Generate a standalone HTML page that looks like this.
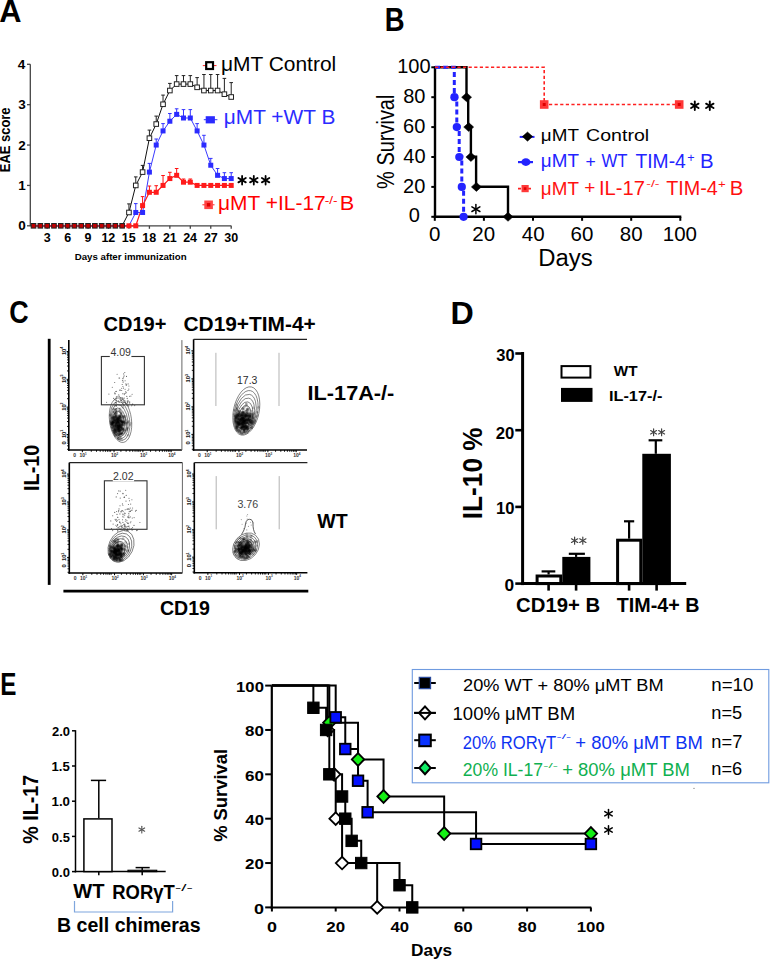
<!DOCTYPE html>
<html><head><meta charset="utf-8"><title>Figure</title>
<style>
html,body{margin:0;padding:0;background:#fff;}
svg{display:block;}
text{font-family:"Liberation Sans",sans-serif;}
</style></head>
<body>
<svg width="770" height="960" viewBox="0 0 770 960">
<rect x="0" y="0" width="770" height="960" fill="#fff"/>
<text transform="translate(-0.77 21.80) scale(0.9940 1)" font-size="31" font-weight="bold" fill="#000" >A</text>
<line x1="30.30" y1="64.30" x2="30.30" y2="226.30" stroke="#444" stroke-width="1.3" />
<line x1="30.30" y1="225.80" x2="231.30" y2="225.80" stroke="#444" stroke-width="1.3" />
<line x1="27.00" y1="225.80" x2="30.30" y2="225.80" stroke="#444" stroke-width="1.3" />
<text x="18.28" y="230.40" font-size="13.5" font-weight="bold" fill="#000" >0</text>
<line x1="27.00" y1="185.43" x2="30.30" y2="185.43" stroke="#444" stroke-width="1.3" />
<text x="18.14" y="190.03" font-size="13.5" font-weight="bold" fill="#000" >1</text>
<line x1="27.00" y1="145.05" x2="30.30" y2="145.05" stroke="#444" stroke-width="1.3" />
<text x="18.28" y="149.65" font-size="13.5" font-weight="bold" fill="#000" >2</text>
<line x1="27.00" y1="104.68" x2="30.30" y2="104.68" stroke="#444" stroke-width="1.3" />
<text x="18.28" y="109.28" font-size="13.5" font-weight="bold" fill="#000" >3</text>
<line x1="27.00" y1="64.30" x2="30.30" y2="64.30" stroke="#444" stroke-width="1.3" />
<text x="17.81" y="68.90" font-size="13.5" font-weight="bold" fill="#000" >4</text>
<line x1="47.15" y1="225.80" x2="47.15" y2="228.80" stroke="#444" stroke-width="1.3" />
<text x="43.78" y="242.40" font-size="12.5" font-weight="bold" fill="#000" >3</text>
<line x1="67.60" y1="225.80" x2="67.60" y2="228.80" stroke="#444" stroke-width="1.3" />
<text x="64.13" y="242.40" font-size="12.5" font-weight="bold" fill="#000" >6</text>
<line x1="88.05" y1="225.80" x2="88.05" y2="228.80" stroke="#444" stroke-width="1.3" />
<text x="84.62" y="242.40" font-size="12.5" font-weight="bold" fill="#000" >9</text>
<line x1="108.50" y1="225.80" x2="108.50" y2="228.80" stroke="#444" stroke-width="1.3" />
<text x="101.41" y="242.40" font-size="12.5" font-weight="bold" fill="#000" >12</text>
<line x1="128.95" y1="225.80" x2="128.95" y2="228.80" stroke="#444" stroke-width="1.3" />
<text x="121.80" y="242.40" font-size="12.5" font-weight="bold" fill="#000" >15</text>
<line x1="149.41" y1="225.80" x2="149.41" y2="228.80" stroke="#444" stroke-width="1.3" />
<text x="142.25" y="242.40" font-size="12.5" font-weight="bold" fill="#000" >18</text>
<line x1="169.86" y1="225.80" x2="169.86" y2="228.80" stroke="#444" stroke-width="1.3" />
<text x="162.89" y="242.40" font-size="12.5" font-weight="bold" fill="#000" >21</text>
<line x1="190.31" y1="225.80" x2="190.31" y2="228.80" stroke="#444" stroke-width="1.3" />
<text x="183.18" y="242.40" font-size="12.5" font-weight="bold" fill="#000" >24</text>
<line x1="210.76" y1="225.80" x2="210.76" y2="228.80" stroke="#444" stroke-width="1.3" />
<text x="203.88" y="242.40" font-size="12.5" font-weight="bold" fill="#000" >27</text>
<line x1="231.21" y1="225.80" x2="231.21" y2="228.80" stroke="#444" stroke-width="1.3" />
<text x="224.37" y="242.40" font-size="12.5" font-weight="bold" fill="#000" >30</text>
<text transform="translate(74.67 260.00) scale(1.0546 1)" font-size="9.2" font-weight="bold" fill="#000" >Days after immunization</text>
<text transform="translate(10.20 172.24) rotate(-90) scale(0.9131 1)" font-size="14.2" font-weight="bold" fill="#000">EAE score</text>
<line x1="128.95" y1="212.48" x2="128.95" y2="203.90" stroke="#222" stroke-width="1" />
<line x1="127.15" y1="203.90" x2="130.75" y2="203.90" stroke="#222" stroke-width="1" />
<line x1="135.77" y1="185.43" x2="135.77" y2="176.90" stroke="#222" stroke-width="1" />
<line x1="133.97" y1="176.90" x2="137.57" y2="176.90" stroke="#222" stroke-width="1" />
<line x1="142.59" y1="172.10" x2="142.59" y2="165.40" stroke="#222" stroke-width="1" />
<line x1="140.79" y1="165.40" x2="144.39" y2="165.40" stroke="#222" stroke-width="1" />
<line x1="149.41" y1="138.19" x2="149.41" y2="130.10" stroke="#222" stroke-width="1" />
<line x1="147.61" y1="130.10" x2="151.21" y2="130.10" stroke="#222" stroke-width="1" />
<line x1="156.22" y1="124.06" x2="156.22" y2="116.10" stroke="#222" stroke-width="1" />
<line x1="154.42" y1="116.10" x2="158.02" y2="116.10" stroke="#222" stroke-width="1" />
<line x1="163.04" y1="104.27" x2="163.04" y2="95.10" stroke="#222" stroke-width="1" />
<line x1="161.24" y1="95.10" x2="164.84" y2="95.10" stroke="#222" stroke-width="1" />
<line x1="169.86" y1="90.54" x2="169.86" y2="83.40" stroke="#222" stroke-width="1" />
<line x1="168.06" y1="83.40" x2="171.66" y2="83.40" stroke="#222" stroke-width="1" />
<line x1="176.67" y1="84.08" x2="176.67" y2="75.60" stroke="#222" stroke-width="1" />
<line x1="174.87" y1="75.60" x2="178.47" y2="75.60" stroke="#222" stroke-width="1" />
<line x1="183.49" y1="84.08" x2="183.49" y2="75.60" stroke="#222" stroke-width="1" />
<line x1="181.69" y1="75.60" x2="185.29" y2="75.60" stroke="#222" stroke-width="1" />
<line x1="190.31" y1="84.08" x2="190.31" y2="75.60" stroke="#222" stroke-width="1" />
<line x1="188.51" y1="75.60" x2="192.11" y2="75.60" stroke="#222" stroke-width="1" />
<line x1="197.12" y1="87.31" x2="197.12" y2="77.60" stroke="#222" stroke-width="1" />
<line x1="195.32" y1="77.60" x2="198.93" y2="77.60" stroke="#222" stroke-width="1" />
<line x1="203.94" y1="90.54" x2="203.94" y2="74.50" stroke="#222" stroke-width="1" />
<line x1="202.14" y1="74.50" x2="205.74" y2="74.50" stroke="#222" stroke-width="1" />
<line x1="210.76" y1="90.54" x2="210.76" y2="74.50" stroke="#222" stroke-width="1" />
<line x1="208.96" y1="74.50" x2="212.56" y2="74.50" stroke="#222" stroke-width="1" />
<line x1="217.58" y1="90.54" x2="217.58" y2="74.50" stroke="#222" stroke-width="1" />
<line x1="215.78" y1="74.50" x2="219.38" y2="74.50" stroke="#222" stroke-width="1" />
<line x1="224.39" y1="94.18" x2="224.39" y2="78.40" stroke="#222" stroke-width="1" />
<line x1="222.59" y1="78.40" x2="226.19" y2="78.40" stroke="#222" stroke-width="1" />
<line x1="231.21" y1="97.00" x2="231.21" y2="82.60" stroke="#222" stroke-width="1" />
<line x1="229.41" y1="82.60" x2="233.01" y2="82.60" stroke="#222" stroke-width="1" />
<line x1="135.77" y1="212.48" x2="135.77" y2="203.60" stroke="#3333ff" stroke-width="1" />
<line x1="133.97" y1="203.60" x2="137.57" y2="203.60" stroke="#3333ff" stroke-width="1" />
<line x1="149.41" y1="172.10" x2="149.41" y2="163.40" stroke="#3333ff" stroke-width="1" />
<line x1="147.61" y1="163.40" x2="151.21" y2="163.40" stroke="#3333ff" stroke-width="1" />
<line x1="156.22" y1="145.05" x2="156.22" y2="139.00" stroke="#3333ff" stroke-width="1" />
<line x1="154.42" y1="139.00" x2="158.02" y2="139.00" stroke="#3333ff" stroke-width="1" />
<line x1="163.04" y1="130.92" x2="163.04" y2="123.60" stroke="#3333ff" stroke-width="1" />
<line x1="161.24" y1="123.60" x2="164.84" y2="123.60" stroke="#3333ff" stroke-width="1" />
<line x1="169.86" y1="121.23" x2="169.86" y2="113.50" stroke="#3333ff" stroke-width="1" />
<line x1="168.06" y1="113.50" x2="171.66" y2="113.50" stroke="#3333ff" stroke-width="1" />
<line x1="176.67" y1="114.37" x2="176.67" y2="108.80" stroke="#3333ff" stroke-width="1" />
<line x1="174.87" y1="108.80" x2="178.47" y2="108.80" stroke="#3333ff" stroke-width="1" />
<line x1="183.49" y1="118.00" x2="183.49" y2="109.60" stroke="#3333ff" stroke-width="1" />
<line x1="181.69" y1="109.60" x2="185.29" y2="109.60" stroke="#3333ff" stroke-width="1" />
<line x1="190.31" y1="118.00" x2="190.31" y2="109.60" stroke="#3333ff" stroke-width="1" />
<line x1="188.51" y1="109.60" x2="192.11" y2="109.60" stroke="#3333ff" stroke-width="1" />
<line x1="197.12" y1="130.92" x2="197.12" y2="123.60" stroke="#3333ff" stroke-width="1" />
<line x1="195.32" y1="123.60" x2="198.93" y2="123.60" stroke="#3333ff" stroke-width="1" />
<line x1="203.94" y1="145.05" x2="203.94" y2="135.30" stroke="#3333ff" stroke-width="1" />
<line x1="202.14" y1="135.30" x2="205.74" y2="135.30" stroke="#3333ff" stroke-width="1" />
<line x1="210.76" y1="165.24" x2="210.76" y2="158.40" stroke="#3333ff" stroke-width="1" />
<line x1="208.96" y1="158.40" x2="212.56" y2="158.40" stroke="#3333ff" stroke-width="1" />
<line x1="217.58" y1="175.33" x2="217.58" y2="168.50" stroke="#3333ff" stroke-width="1" />
<line x1="215.78" y1="168.50" x2="219.38" y2="168.50" stroke="#3333ff" stroke-width="1" />
<line x1="224.39" y1="178.56" x2="224.39" y2="172.70" stroke="#3333ff" stroke-width="1" />
<line x1="222.59" y1="172.70" x2="226.19" y2="172.70" stroke="#3333ff" stroke-width="1" />
<line x1="231.21" y1="178.56" x2="231.21" y2="172.70" stroke="#3333ff" stroke-width="1" />
<line x1="229.41" y1="172.70" x2="233.01" y2="172.70" stroke="#3333ff" stroke-width="1" />
<line x1="142.59" y1="205.61" x2="142.59" y2="196.60" stroke="#ff1111" stroke-width="1" />
<line x1="140.79" y1="196.60" x2="144.39" y2="196.60" stroke="#ff1111" stroke-width="1" />
<line x1="149.41" y1="192.29" x2="149.41" y2="186.00" stroke="#ff1111" stroke-width="1" />
<line x1="147.61" y1="186.00" x2="151.21" y2="186.00" stroke="#ff1111" stroke-width="1" />
<line x1="156.22" y1="192.29" x2="156.22" y2="185.70" stroke="#ff1111" stroke-width="1" />
<line x1="154.42" y1="185.70" x2="158.02" y2="185.70" stroke="#ff1111" stroke-width="1" />
<line x1="163.04" y1="185.43" x2="163.04" y2="175.50" stroke="#ff1111" stroke-width="1" />
<line x1="161.24" y1="175.50" x2="164.84" y2="175.50" stroke="#ff1111" stroke-width="1" />
<line x1="169.86" y1="178.56" x2="169.86" y2="172.30" stroke="#ff1111" stroke-width="1" />
<line x1="168.06" y1="172.30" x2="171.66" y2="172.30" stroke="#ff1111" stroke-width="1" />
<line x1="176.67" y1="175.33" x2="176.67" y2="168.50" stroke="#ff1111" stroke-width="1" />
<line x1="174.87" y1="168.50" x2="178.47" y2="168.50" stroke="#ff1111" stroke-width="1" />
<line x1="183.49" y1="182.19" x2="183.49" y2="179.00" stroke="#ff1111" stroke-width="1" />
<line x1="181.69" y1="179.00" x2="185.29" y2="179.00" stroke="#ff1111" stroke-width="1" />
<line x1="190.31" y1="182.19" x2="190.31" y2="179.00" stroke="#ff1111" stroke-width="1" />
<line x1="188.51" y1="179.00" x2="192.11" y2="179.00" stroke="#ff1111" stroke-width="1" />
<line x1="197.12" y1="185.43" x2="197.12" y2="183.50" stroke="#ff1111" stroke-width="1" />
<line x1="195.32" y1="183.50" x2="198.93" y2="183.50" stroke="#ff1111" stroke-width="1" />
<line x1="203.94" y1="185.43" x2="203.94" y2="183.50" stroke="#ff1111" stroke-width="1" />
<line x1="202.14" y1="183.50" x2="205.74" y2="183.50" stroke="#ff1111" stroke-width="1" />
<line x1="210.76" y1="185.43" x2="210.76" y2="183.50" stroke="#ff1111" stroke-width="1" />
<line x1="208.96" y1="183.50" x2="212.56" y2="183.50" stroke="#ff1111" stroke-width="1" />
<line x1="217.58" y1="185.43" x2="217.58" y2="183.50" stroke="#ff1111" stroke-width="1" />
<line x1="215.78" y1="183.50" x2="219.38" y2="183.50" stroke="#ff1111" stroke-width="1" />
<line x1="224.39" y1="185.43" x2="224.39" y2="183.50" stroke="#ff1111" stroke-width="1" />
<line x1="222.59" y1="183.50" x2="226.19" y2="183.50" stroke="#ff1111" stroke-width="1" />
<line x1="231.21" y1="185.43" x2="231.21" y2="183.50" stroke="#ff1111" stroke-width="1" />
<line x1="229.41" y1="183.50" x2="233.01" y2="183.50" stroke="#ff1111" stroke-width="1" />
<polyline points="33.52,225.80 40.33,225.80 47.15,225.80 53.97,225.80 60.78,225.80 67.60,225.80 74.42,225.80 81.24,225.80 88.05,225.80 94.87,225.80 101.69,225.80 108.50,225.80 115.32,225.80 122.14,225.80 128.95,212.48 135.77,185.43 142.59,172.10 149.41,138.19 156.22,124.06 163.04,104.27 169.86,90.54 176.67,84.08 183.49,84.08 190.31,84.08 197.12,87.31 203.94,90.54 210.76,90.54 217.58,90.54 224.39,94.18 231.21,97.00" fill="none" stroke="#111" stroke-width="1"/>
<polyline points="33.52,225.80 40.33,225.80 47.15,225.80 53.97,225.80 60.78,225.80 67.60,225.80 74.42,225.80 81.24,225.80 88.05,225.80 94.87,225.80 101.69,225.80 108.50,225.80 115.32,225.80 122.14,225.80 128.95,225.80 135.77,212.48 142.59,212.48 149.41,172.10 156.22,145.05 163.04,130.92 169.86,121.23 176.67,114.37 183.49,118.00 190.31,118.00 197.12,130.92 203.94,145.05 210.76,165.24 217.58,175.33 224.39,178.56 231.21,178.56" fill="none" stroke="#3a3aff" stroke-width="1"/>
<polyline points="33.52,225.80 40.33,225.80 47.15,225.80 53.97,225.80 60.78,225.80 67.60,225.80 74.42,225.80 81.24,225.80 88.05,225.80 94.87,225.80 101.69,225.80 108.50,225.80 115.32,225.80 122.14,225.80 128.95,225.80 135.77,225.80 142.59,205.61 149.41,192.29 156.22,192.29 163.04,185.43 169.86,178.56 176.67,175.33 183.49,182.19 190.31,182.19 197.12,185.43 203.94,185.43 210.76,185.43 217.58,185.43 224.39,185.43 231.21,185.43" fill="none" stroke="#ff1a1a" stroke-width="1.2"/>
<rect x="126.65" y="210.18" width="4.60" height="4.60" fill="#fff" stroke="#222" stroke-width="1" />
<rect x="133.47" y="183.12" width="4.60" height="4.60" fill="#fff" stroke="#222" stroke-width="1" />
<rect x="140.29" y="169.80" width="4.60" height="4.60" fill="#fff" stroke="#222" stroke-width="1" />
<rect x="147.11" y="135.89" width="4.60" height="4.60" fill="#fff" stroke="#222" stroke-width="1" />
<rect x="153.92" y="121.76" width="4.60" height="4.60" fill="#fff" stroke="#222" stroke-width="1" />
<rect x="160.74" y="101.97" width="4.60" height="4.60" fill="#fff" stroke="#222" stroke-width="1" />
<rect x="167.56" y="88.24" width="4.60" height="4.60" fill="#fff" stroke="#222" stroke-width="1" />
<rect x="174.37" y="81.78" width="4.60" height="4.60" fill="#fff" stroke="#222" stroke-width="1" />
<rect x="181.19" y="81.78" width="4.60" height="4.60" fill="#fff" stroke="#222" stroke-width="1" />
<rect x="188.01" y="81.78" width="4.60" height="4.60" fill="#fff" stroke="#222" stroke-width="1" />
<rect x="194.82" y="85.01" width="4.60" height="4.60" fill="#fff" stroke="#222" stroke-width="1" />
<rect x="201.64" y="88.24" width="4.60" height="4.60" fill="#fff" stroke="#222" stroke-width="1" />
<rect x="208.46" y="88.24" width="4.60" height="4.60" fill="#fff" stroke="#222" stroke-width="1" />
<rect x="215.28" y="88.24" width="4.60" height="4.60" fill="#fff" stroke="#222" stroke-width="1" />
<rect x="222.09" y="91.88" width="4.60" height="4.60" fill="#fff" stroke="#222" stroke-width="1" />
<rect x="228.91" y="94.70" width="4.60" height="4.60" fill="#fff" stroke="#222" stroke-width="1" />
<rect x="133.27" y="209.98" width="5.00" height="5.00" fill="#2b2bff" stroke="none" stroke-width="1" />
<rect x="140.09" y="209.98" width="5.00" height="5.00" fill="#2b2bff" stroke="none" stroke-width="1" />
<rect x="146.91" y="169.60" width="5.00" height="5.00" fill="#2b2bff" stroke="none" stroke-width="1" />
<rect x="153.72" y="142.55" width="5.00" height="5.00" fill="#2b2bff" stroke="none" stroke-width="1" />
<rect x="160.54" y="128.42" width="5.00" height="5.00" fill="#2b2bff" stroke="none" stroke-width="1" />
<rect x="167.36" y="118.73" width="5.00" height="5.00" fill="#2b2bff" stroke="none" stroke-width="1" />
<rect x="174.17" y="111.87" width="5.00" height="5.00" fill="#2b2bff" stroke="none" stroke-width="1" />
<rect x="180.99" y="115.50" width="5.00" height="5.00" fill="#2b2bff" stroke="none" stroke-width="1" />
<rect x="187.81" y="115.50" width="5.00" height="5.00" fill="#2b2bff" stroke="none" stroke-width="1" />
<rect x="194.62" y="128.42" width="5.00" height="5.00" fill="#2b2bff" stroke="none" stroke-width="1" />
<rect x="201.44" y="142.55" width="5.00" height="5.00" fill="#2b2bff" stroke="none" stroke-width="1" />
<rect x="208.26" y="162.74" width="5.00" height="5.00" fill="#2b2bff" stroke="none" stroke-width="1" />
<rect x="215.08" y="172.83" width="5.00" height="5.00" fill="#2b2bff" stroke="none" stroke-width="1" />
<rect x="221.89" y="176.06" width="5.00" height="5.00" fill="#2b2bff" stroke="none" stroke-width="1" />
<rect x="228.71" y="176.06" width="5.00" height="5.00" fill="#2b2bff" stroke="none" stroke-width="1" />
<rect x="140.09" y="203.11" width="5.00" height="5.00" fill="#ff1a1a" stroke="none" stroke-width="1" />
<rect x="146.91" y="189.79" width="5.00" height="5.00" fill="#ff1a1a" stroke="none" stroke-width="1" />
<rect x="153.72" y="189.79" width="5.00" height="5.00" fill="#ff1a1a" stroke="none" stroke-width="1" />
<rect x="160.54" y="182.93" width="5.00" height="5.00" fill="#ff1a1a" stroke="none" stroke-width="1" />
<rect x="167.36" y="176.06" width="5.00" height="5.00" fill="#ff1a1a" stroke="none" stroke-width="1" />
<rect x="174.17" y="172.83" width="5.00" height="5.00" fill="#ff1a1a" stroke="none" stroke-width="1" />
<rect x="180.99" y="179.69" width="5.00" height="5.00" fill="#ff1a1a" stroke="none" stroke-width="1" />
<rect x="187.81" y="179.69" width="5.00" height="5.00" fill="#ff1a1a" stroke="none" stroke-width="1" />
<rect x="194.62" y="182.93" width="5.00" height="5.00" fill="#ff1a1a" stroke="none" stroke-width="1" />
<rect x="201.44" y="182.93" width="5.00" height="5.00" fill="#ff1a1a" stroke="none" stroke-width="1" />
<rect x="208.26" y="182.93" width="5.00" height="5.00" fill="#ff1a1a" stroke="none" stroke-width="1" />
<rect x="215.08" y="182.93" width="5.00" height="5.00" fill="#ff1a1a" stroke="none" stroke-width="1" />
<rect x="221.89" y="182.93" width="5.00" height="5.00" fill="#ff1a1a" stroke="none" stroke-width="1" />
<rect x="228.71" y="182.93" width="5.00" height="5.00" fill="#ff1a1a" stroke="none" stroke-width="1" />
<rect x="31.22" y="223.50" width="4.60" height="4.60" fill="#c00000" stroke="#222" stroke-width="1" />
<rect x="38.03" y="223.50" width="4.60" height="4.60" fill="#c00000" stroke="#222" stroke-width="1" />
<rect x="44.85" y="223.50" width="4.60" height="4.60" fill="#c00000" stroke="#222" stroke-width="1" />
<rect x="51.67" y="223.50" width="4.60" height="4.60" fill="#c00000" stroke="#222" stroke-width="1" />
<rect x="58.48" y="223.50" width="4.60" height="4.60" fill="#c00000" stroke="#222" stroke-width="1" />
<rect x="65.30" y="223.50" width="4.60" height="4.60" fill="#c00000" stroke="#222" stroke-width="1" />
<rect x="72.12" y="223.50" width="4.60" height="4.60" fill="#c00000" stroke="#222" stroke-width="1" />
<rect x="78.94" y="223.50" width="4.60" height="4.60" fill="#c00000" stroke="#222" stroke-width="1" />
<rect x="85.75" y="223.50" width="4.60" height="4.60" fill="#c00000" stroke="#222" stroke-width="1" />
<rect x="92.57" y="223.50" width="4.60" height="4.60" fill="#c00000" stroke="#222" stroke-width="1" />
<rect x="99.39" y="223.50" width="4.60" height="4.60" fill="#c00000" stroke="#222" stroke-width="1" />
<rect x="106.20" y="223.50" width="4.60" height="4.60" fill="#c00000" stroke="#222" stroke-width="1" />
<rect x="113.02" y="223.50" width="4.60" height="4.60" fill="#c00000" stroke="#222" stroke-width="1" />
<rect x="119.84" y="223.50" width="4.60" height="4.60" fill="#c00000" stroke="#222" stroke-width="1" />
<rect x="126.45" y="223.30" width="5.00" height="5.00" fill="#ff1a1a" stroke="none" stroke-width="1" />
<rect x="133.27" y="223.30" width="5.00" height="5.00" fill="#ff1a1a" stroke="none" stroke-width="1" />
<line x1="202.80" y1="65.60" x2="216.50" y2="65.60" stroke="#ff2020" stroke-width="1" />
<rect x="206.20" y="62.20" width="6.80" height="6.80" fill="#fff" stroke="#000" stroke-width="2.2" />
<text transform="translate(220.94 70.50) scale(1.0527 1)" font-size="19.9" font-weight="normal" fill="#000" >μMT Control</text>
<line x1="203.80" y1="119.70" x2="217.40" y2="119.70" stroke="#3333ff" stroke-width="1" />
<rect x="205.70" y="116.20" width="9.20" height="7.20" fill="#2b2bff" stroke="none" stroke-width="1" />
<text transform="translate(223.84 124.00) scale(1.0483 1)" font-size="19.9" font-weight="normal" fill="#2b2bff" >μMT +WT B</text>
<line x1="202.40" y1="204.80" x2="214.50" y2="204.80" stroke="#ff2020" stroke-width="1" />
<rect x="204.30" y="200.50" width="8.60" height="8.60" fill="#ff4545" stroke="none" stroke-width="1" />
<rect x="206.85" y="203.05" width="3.50" height="3.50" fill="#e00000" stroke="none" stroke-width="1" />
<text transform="translate(218.04 209.60) scale(1.0364 1)" font-size="20.2" font-weight="normal" fill="#ff0000" >μMT +IL-17</text>
<text transform="translate(324.66 204.00) scale(1.2368 1)" font-size="11" font-weight="normal" fill="#ff0000" >-/-</text>
<text transform="translate(339.77 209.60) scale(1.0734 1)" font-size="20.2" font-weight="normal" fill="#ff0000" >B</text>
<line x1="242.10" y1="175.90" x2="242.10" y2="184.50" stroke="#000" stroke-width="1.8" stroke-linecap="round"/>
<line x1="238.38" y1="178.05" x2="245.82" y2="182.35" stroke="#000" stroke-width="1.8" stroke-linecap="round"/>
<line x1="245.82" y1="178.05" x2="238.38" y2="182.35" stroke="#000" stroke-width="1.8" stroke-linecap="round"/>
<line x1="253.80" y1="175.90" x2="253.80" y2="184.50" stroke="#000" stroke-width="1.8" stroke-linecap="round"/>
<line x1="250.08" y1="178.05" x2="257.52" y2="182.35" stroke="#000" stroke-width="1.8" stroke-linecap="round"/>
<line x1="257.52" y1="178.05" x2="250.08" y2="182.35" stroke="#000" stroke-width="1.8" stroke-linecap="round"/>
<line x1="265.60" y1="175.90" x2="265.60" y2="184.50" stroke="#000" stroke-width="1.8" stroke-linecap="round"/>
<line x1="261.88" y1="178.05" x2="269.32" y2="182.35" stroke="#000" stroke-width="1.8" stroke-linecap="round"/>
<line x1="269.32" y1="178.05" x2="261.88" y2="182.35" stroke="#000" stroke-width="1.8" stroke-linecap="round"/>
<text transform="translate(384.71 30.50) scale(0.8327 1)" font-size="33" font-weight="bold" fill="#000" >B</text>
<line x1="435.00" y1="66.20" x2="435.00" y2="218.00" stroke="#000" stroke-width="2.4" />
<line x1="433.80" y1="216.80" x2="681.30" y2="216.80" stroke="#000" stroke-width="2.4" />
<line x1="431.30" y1="216.80" x2="435.00" y2="216.80" stroke="#000" stroke-width="2" />
<text x="408.75" y="222.40" font-size="20" font-weight="normal" fill="#000" >0</text>
<line x1="431.30" y1="186.90" x2="435.00" y2="186.90" stroke="#000" stroke-width="2" />
<text x="403.05" y="192.50" font-size="20" font-weight="normal" fill="#000" >20</text>
<line x1="431.30" y1="157.00" x2="435.00" y2="157.00" stroke="#000" stroke-width="2" />
<text x="403.35" y="162.60" font-size="20" font-weight="normal" fill="#000" >40</text>
<line x1="431.30" y1="127.10" x2="435.00" y2="127.10" stroke="#000" stroke-width="2" />
<text x="403.05" y="132.70" font-size="20" font-weight="normal" fill="#000" >60</text>
<line x1="431.30" y1="97.20" x2="435.00" y2="97.20" stroke="#000" stroke-width="2" />
<text x="403.15" y="102.80" font-size="20" font-weight="normal" fill="#000" >80</text>
<line x1="431.30" y1="67.30" x2="435.00" y2="67.30" stroke="#000" stroke-width="2" />
<text x="397.25" y="72.90" font-size="20" font-weight="normal" fill="#000" >100</text>
<line x1="434.80" y1="216.80" x2="434.80" y2="220.80" stroke="#000" stroke-width="2" />
<text x="429.11" y="241.20" font-size="20.5" font-weight="normal" fill="#000" >0</text>
<line x1="483.90" y1="216.80" x2="483.90" y2="220.80" stroke="#000" stroke-width="2" />
<text x="472.37" y="241.20" font-size="20.5" font-weight="normal" fill="#000" >20</text>
<line x1="533.00" y1="216.80" x2="533.00" y2="220.80" stroke="#000" stroke-width="2" />
<text x="521.78" y="241.20" font-size="20.5" font-weight="normal" fill="#000" >40</text>
<line x1="582.10" y1="216.80" x2="582.10" y2="220.80" stroke="#000" stroke-width="2" />
<text x="570.57" y="241.20" font-size="20.5" font-weight="normal" fill="#000" >60</text>
<line x1="631.20" y1="216.80" x2="631.20" y2="220.80" stroke="#000" stroke-width="2" />
<text x="619.77" y="241.20" font-size="20.5" font-weight="normal" fill="#000" >80</text>
<line x1="680.30" y1="216.80" x2="680.30" y2="220.80" stroke="#000" stroke-width="2" />
<text x="662.82" y="241.20" font-size="20.5" font-weight="normal" fill="#000" >100</text>
<text transform="translate(538.19 265.70) scale(1.0205 1)" font-size="23.4" font-weight="normal" fill="#000" >Days</text>
<text transform="translate(394.20 188.90) rotate(-90) scale(0.8501 1)" font-size="23.5" font-weight="normal" fill="#000">% Survival</text>
<path d="M435,67.30 H544.2 V104.5 H679.2" stroke="#ff2020" stroke-width="1.6" fill="none" stroke-dasharray="3.2 2.4"/>
<path d="M435,67.30 H466.5 V96.9 H468.2 V126.8 H470.9 V156.7 H476.1 V186.8 H508 V216.8" stroke="#000" stroke-width="2.4" fill="none" />
<path d="M435,67.30 H454.3 V96.9 H456.8 V126.8 H459.2 V156.7 H461.8 V186.8 H463.6 V216.8" stroke="#2323ff" stroke-width="3" fill="none" stroke-dasharray="5 3"/>
<path d="M435,67.30 H466.5" stroke="#ff2020" stroke-width="1.6" fill="none" stroke-dasharray="3.2 2.4"/>
<path d="M461.60,97.20 L466.60,92.70 L471.60,97.20 L466.60,101.70 Z" stroke="#000" stroke-width="0.5" fill="#000" />
<path d="M463.70,127.10 L468.70,122.60 L473.70,127.10 L468.70,131.60 Z" stroke="#000" stroke-width="0.5" fill="#000" />
<path d="M465.90,157.00 L470.90,152.50 L475.90,157.00 L470.90,161.50 Z" stroke="#000" stroke-width="0.5" fill="#000" />
<path d="M471.40,186.90 L476.40,182.40 L481.40,186.90 L476.40,191.40 Z" stroke="#000" stroke-width="0.5" fill="#000" />
<path d="M503.00,216.80 L508.00,212.30 L513.00,216.80 L508.00,221.30 Z" stroke="#000" stroke-width="0.5" fill="#000" />
<circle cx="454.40" cy="97.20" r="4.10" fill="#2323ff" stroke="none" stroke-width="1"/>
<circle cx="456.80" cy="127.10" r="4.10" fill="#2323ff" stroke="none" stroke-width="1"/>
<circle cx="459.30" cy="157.00" r="4.10" fill="#2323ff" stroke="none" stroke-width="1"/>
<circle cx="461.80" cy="186.90" r="4.10" fill="#2323ff" stroke="none" stroke-width="1"/>
<circle cx="463.60" cy="216.80" r="4.10" fill="#2323ff" stroke="none" stroke-width="1"/>
<rect x="539.90" y="100.20" width="8.60" height="8.60" fill="#ff3838" stroke="none" stroke-width="1" />
<rect x="542.70" y="103.00" width="3.00" height="3.00" fill="#e00000" stroke="none" stroke-width="1" />
<rect x="674.90" y="100.20" width="8.60" height="8.60" fill="#ff3838" stroke="none" stroke-width="1" />
<rect x="677.70" y="103.00" width="3.00" height="3.00" fill="#e00000" stroke="none" stroke-width="1" />
<line x1="475.90" y1="204.60" x2="475.90" y2="213.80" stroke="#000" stroke-width="1.5" stroke-linecap="round"/>
<line x1="471.92" y1="206.90" x2="479.88" y2="211.50" stroke="#000" stroke-width="1.5" stroke-linecap="round"/>
<line x1="479.88" y1="206.90" x2="471.92" y2="211.50" stroke="#000" stroke-width="1.5" stroke-linecap="round"/>
<line x1="694.80" y1="101.50" x2="694.80" y2="110.10" stroke="#000" stroke-width="1.9" stroke-linecap="round"/>
<line x1="691.08" y1="103.65" x2="698.52" y2="107.95" stroke="#000" stroke-width="1.9" stroke-linecap="round"/>
<line x1="698.52" y1="103.65" x2="691.08" y2="107.95" stroke="#000" stroke-width="1.9" stroke-linecap="round"/>
<line x1="709.80" y1="101.50" x2="709.80" y2="110.10" stroke="#000" stroke-width="1.9" stroke-linecap="round"/>
<line x1="706.08" y1="103.65" x2="713.52" y2="107.95" stroke="#000" stroke-width="1.9" stroke-linecap="round"/>
<line x1="713.52" y1="103.65" x2="706.08" y2="107.95" stroke="#000" stroke-width="1.9" stroke-linecap="round"/>
<line x1="519.70" y1="136.90" x2="534.50" y2="136.90" stroke="#2323ff" stroke-width="2" />
<path d="M522.30,136.60 L527.50,132.00 L532.70,136.60 L527.50,141.20 Z" stroke="#000" stroke-width="0.5" fill="#000" />
<line x1="518.00" y1="162.10" x2="533.00" y2="162.10" stroke="#2323ff" stroke-width="2.2" />
<ellipse cx="525.9" cy="162.1" rx="4.6" ry="3.8" fill="#2323ff"/>
<line x1="518.00" y1="188.60" x2="532.00" y2="188.60" stroke="#ff2020" stroke-width="1.6" stroke-dasharray="3 2"/>
<rect x="521.50" y="185.00" width="7.20" height="7.20" fill="#ff3838" stroke="none" stroke-width="1" />
<rect x="523.80" y="187.30" width="2.60" height="2.60" fill="#e00000" stroke="none" stroke-width="1" />
<text transform="translate(540.87 141.00) scale(1.1797 1)" font-size="15.99" font-weight="normal" fill="#000" >μMT</text>
<text transform="translate(586.12 141.00) scale(1.2226 1)" font-size="15.99" font-weight="normal" fill="#000" >Control</text>
<text transform="translate(540.87 167.20) scale(1.0816 1)" font-size="17.44" font-weight="normal" fill="#2323ff" >μMT</text>
<text transform="translate(585.61 167.44) scale(1.0342 1)" font-size="16.97" font-weight="normal" fill="#2323ff" >+</text>
<text transform="translate(601.40 167.20) scale(0.9600 1)" font-size="17.44" font-weight="normal" fill="#2323ff" >WT</text>
<text transform="translate(635.51 167.60) scale(0.9464 1)" font-size="20.35" font-weight="normal" fill="#2323ff" >TIM-4</text>
<text transform="translate(687.13 161.66) scale(1.0102 1)" font-size="12.525" font-weight="normal" fill="#2323ff" >+</text>
<text transform="translate(700.07 167.60) scale(1.0012 1)" font-size="20.35" font-weight="normal" fill="#2323ff" >B</text>
<text transform="translate(540.87 195.00) scale(1.0302 1)" font-size="18.31" font-weight="normal" fill="#ff1010" >μMT</text>
<text x="584.15" y="194.21" font-size="18.99" font-weight="normal" fill="#ff1010" >+</text>
<text transform="translate(598.88 195.20) scale(0.9645 1)" font-size="20.93" font-weight="normal" fill="#ff1010" >IL-17</text>
<text transform="translate(646.24 186.92) scale(1.6542 1)" font-size="8.435" font-weight="normal" fill="#ff1010" >-/-</text>
<text transform="translate(666.20 195.20) scale(0.9444 1)" font-size="20.93" font-weight="normal" fill="#ff1010" >TIM-4</text>
<text transform="translate(717.90 188.40) scale(1.1321 1)" font-size="11.717" font-weight="normal" fill="#ff1010" >+</text>
<text transform="translate(729.67 195.20) scale(0.9734 1)" font-size="20.93" font-weight="normal" fill="#ff1010" >B</text>
<text transform="translate(9.33 322.88) scale(0.8367 1)" font-size="32.113" font-weight="bold" fill="#000" >C</text>
<text transform="translate(103.50 330.70) scale(0.9656 1)" font-size="20.78" font-weight="bold" fill="#000" >CD19+</text>
<text transform="translate(183.46 330.70) scale(1.0055 1)" font-size="20.78" font-weight="bold" fill="#000" >CD19+TIM-4+</text>
<text transform="translate(307.59 399.60) scale(1.0440 1)" font-size="20.78" font-weight="bold" fill="#000" >IL-17A-/-</text>
<text transform="translate(317.20 527.50) scale(0.9888 1)" font-size="19.77" font-weight="bold" fill="#000" >WT</text>
<text transform="translate(159.92 615.10) scale(0.9701 1)" font-size="20.2" font-weight="bold" fill="#000" >CD19</text>
<text transform="translate(39.08 490.99) rotate(-90) scale(0.8871 1)" font-size="22.394" font-weight="bold" fill="#000">IL-10</text>
<line x1="49.20" y1="338.80" x2="49.20" y2="584.90" stroke="#000" stroke-width="2.8" />
<line x1="63.40" y1="591.20" x2="308.30" y2="591.20" stroke="#000" stroke-width="2.8" />
<line x1="66.60" y1="351.53" x2="68.80" y2="351.53" stroke="#000" stroke-width="1" />
<g transform="translate(65.6 355.1) rotate(-90)"><text x="0" y="0" font-size="5.8" font-weight="bold" fill="#111">10</text><text x="6.3" y="-2.6" font-size="3.6" font-weight="bold" fill="#111">4</text></g>
<line x1="66.60" y1="379.33" x2="68.80" y2="379.33" stroke="#000" stroke-width="1" />
<g transform="translate(65.6 382.9) rotate(-90)"><text x="0" y="0" font-size="5.8" font-weight="bold" fill="#111">10</text><text x="6.3" y="-2.6" font-size="3.6" font-weight="bold" fill="#111">3</text></g>
<line x1="66.60" y1="407.14" x2="68.80" y2="407.14" stroke="#000" stroke-width="1" />
<g transform="translate(65.6 410.7) rotate(-90)"><text x="0" y="0" font-size="5.8" font-weight="bold" fill="#111">10</text><text x="6.3" y="-2.6" font-size="3.6" font-weight="bold" fill="#111">2</text></g>
<line x1="66.60" y1="434.50" x2="68.80" y2="434.50" stroke="#000" stroke-width="1" />
<g transform="translate(65.6 438.1) rotate(-90)"><text x="0" y="0" font-size="5.8" font-weight="bold" fill="#111">10</text><text x="6.3" y="-2.6" font-size="3.6" font-weight="bold" fill="#111">1</text></g>
<g transform="translate(65.6 444.6) rotate(-90)"><text x="0" y="0" font-size="5.8" font-weight="bold" fill="#111">0</text></g>
<line x1="67.00" y1="370.93" x2="68.80" y2="370.93" stroke="#000" stroke-width="0.9" />
<line x1="67.00" y1="366.04" x2="68.80" y2="366.04" stroke="#000" stroke-width="0.9" />
<line x1="67.00" y1="362.57" x2="68.80" y2="362.57" stroke="#000" stroke-width="0.9" />
<line x1="67.00" y1="359.88" x2="68.80" y2="359.88" stroke="#000" stroke-width="0.9" />
<line x1="67.00" y1="357.69" x2="68.80" y2="357.69" stroke="#000" stroke-width="0.9" />
<line x1="67.00" y1="355.83" x2="68.80" y2="355.83" stroke="#000" stroke-width="0.9" />
<line x1="67.00" y1="354.22" x2="68.80" y2="354.22" stroke="#000" stroke-width="0.9" />
<line x1="67.00" y1="352.80" x2="68.80" y2="352.80" stroke="#000" stroke-width="0.9" />
<line x1="67.00" y1="398.68" x2="68.80" y2="398.68" stroke="#000" stroke-width="0.9" />
<line x1="67.00" y1="393.79" x2="68.80" y2="393.79" stroke="#000" stroke-width="0.9" />
<line x1="67.00" y1="390.32" x2="68.80" y2="390.32" stroke="#000" stroke-width="0.9" />
<line x1="67.00" y1="387.63" x2="68.80" y2="387.63" stroke="#000" stroke-width="0.9" />
<line x1="67.00" y1="385.44" x2="68.80" y2="385.44" stroke="#000" stroke-width="0.9" />
<line x1="67.00" y1="383.58" x2="68.80" y2="383.58" stroke="#000" stroke-width="0.9" />
<line x1="67.00" y1="381.97" x2="68.80" y2="381.97" stroke="#000" stroke-width="0.9" />
<line x1="67.00" y1="380.55" x2="68.80" y2="380.55" stroke="#000" stroke-width="0.9" />
<line x1="67.00" y1="426.43" x2="68.80" y2="426.43" stroke="#000" stroke-width="0.9" />
<line x1="67.00" y1="421.54" x2="68.80" y2="421.54" stroke="#000" stroke-width="0.9" />
<line x1="67.00" y1="418.07" x2="68.80" y2="418.07" stroke="#000" stroke-width="0.9" />
<line x1="67.00" y1="415.38" x2="68.80" y2="415.38" stroke="#000" stroke-width="0.9" />
<line x1="67.00" y1="413.19" x2="68.80" y2="413.19" stroke="#000" stroke-width="0.9" />
<line x1="67.00" y1="411.33" x2="68.80" y2="411.33" stroke="#000" stroke-width="0.9" />
<line x1="67.00" y1="409.72" x2="68.80" y2="409.72" stroke="#000" stroke-width="0.9" />
<line x1="67.00" y1="408.30" x2="68.80" y2="408.30" stroke="#000" stroke-width="0.9" />
<line x1="67.00" y1="449.29" x2="68.80" y2="449.29" stroke="#000" stroke-width="0.9" />
<line x1="67.00" y1="445.82" x2="68.80" y2="445.82" stroke="#000" stroke-width="0.9" />
<line x1="67.00" y1="443.13" x2="68.80" y2="443.13" stroke="#000" stroke-width="0.9" />
<line x1="67.00" y1="440.94" x2="68.80" y2="440.94" stroke="#000" stroke-width="0.9" />
<line x1="67.00" y1="439.08" x2="68.80" y2="439.08" stroke="#000" stroke-width="0.9" />
<line x1="67.00" y1="437.47" x2="68.80" y2="437.47" stroke="#000" stroke-width="0.9" />
<line x1="67.00" y1="436.05" x2="68.80" y2="436.05" stroke="#000" stroke-width="0.9" />
<line x1="82.37" y1="450.00" x2="82.37" y2="452.20" stroke="#000" stroke-width="1" />
<text x="79.4" y="457.4" font-size="5" font-weight="bold" fill="#333">10</text>
<text x="85.0" y="454.6" font-size="3" font-weight="bold" fill="#333">1</text>
<line x1="114.04" y1="450.00" x2="114.04" y2="452.20" stroke="#000" stroke-width="1" />
<text x="111.0" y="457.4" font-size="5" font-weight="bold" fill="#333">10</text>
<text x="116.6" y="454.6" font-size="3" font-weight="bold" fill="#333">2</text>
<line x1="142.88" y1="450.00" x2="142.88" y2="452.20" stroke="#000" stroke-width="1" />
<text x="139.9" y="457.4" font-size="5" font-weight="bold" fill="#333">10</text>
<text x="145.5" y="454.6" font-size="3" font-weight="bold" fill="#333">3</text>
<line x1="171.16" y1="450.00" x2="171.16" y2="452.20" stroke="#000" stroke-width="1" />
<text x="168.2" y="457.4" font-size="5" font-weight="bold" fill="#333">10</text>
<text x="173.8" y="454.6" font-size="3" font-weight="bold" fill="#333">4</text>
<text x="73.3" y="457.4" font-size="5" font-weight="bold" fill="#333">0</text>
<line x1="91.29" y1="450.00" x2="91.29" y2="451.80" stroke="#000" stroke-width="0.9" />
<line x1="96.51" y1="450.00" x2="96.51" y2="451.80" stroke="#000" stroke-width="0.9" />
<line x1="100.21" y1="450.00" x2="100.21" y2="451.80" stroke="#000" stroke-width="0.9" />
<line x1="103.08" y1="450.00" x2="103.08" y2="451.80" stroke="#000" stroke-width="0.9" />
<line x1="105.43" y1="450.00" x2="105.43" y2="451.80" stroke="#000" stroke-width="0.9" />
<line x1="107.41" y1="450.00" x2="107.41" y2="451.80" stroke="#000" stroke-width="0.9" />
<line x1="109.13" y1="450.00" x2="109.13" y2="451.80" stroke="#000" stroke-width="0.9" />
<line x1="110.65" y1="450.00" x2="110.65" y2="451.80" stroke="#000" stroke-width="0.9" />
<line x1="120.92" y1="450.00" x2="120.92" y2="451.80" stroke="#000" stroke-width="0.9" />
<line x1="126.14" y1="450.00" x2="126.14" y2="451.80" stroke="#000" stroke-width="0.9" />
<line x1="129.84" y1="450.00" x2="129.84" y2="451.80" stroke="#000" stroke-width="0.9" />
<line x1="132.72" y1="450.00" x2="132.72" y2="451.80" stroke="#000" stroke-width="0.9" />
<line x1="135.06" y1="450.00" x2="135.06" y2="451.80" stroke="#000" stroke-width="0.9" />
<line x1="137.05" y1="450.00" x2="137.05" y2="451.80" stroke="#000" stroke-width="0.9" />
<line x1="138.76" y1="450.00" x2="138.76" y2="451.80" stroke="#000" stroke-width="0.9" />
<line x1="140.28" y1="450.00" x2="140.28" y2="451.80" stroke="#000" stroke-width="0.9" />
<line x1="150.56" y1="450.00" x2="150.56" y2="451.80" stroke="#000" stroke-width="0.9" />
<line x1="155.77" y1="450.00" x2="155.77" y2="451.80" stroke="#000" stroke-width="0.9" />
<line x1="159.48" y1="450.00" x2="159.48" y2="451.80" stroke="#000" stroke-width="0.9" />
<line x1="162.35" y1="450.00" x2="162.35" y2="451.80" stroke="#000" stroke-width="0.9" />
<line x1="164.69" y1="450.00" x2="164.69" y2="451.80" stroke="#000" stroke-width="0.9" />
<line x1="166.68" y1="450.00" x2="166.68" y2="451.80" stroke="#000" stroke-width="0.9" />
<line x1="168.40" y1="450.00" x2="168.40" y2="451.80" stroke="#000" stroke-width="0.9" />
<line x1="169.91" y1="450.00" x2="169.91" y2="451.80" stroke="#000" stroke-width="0.9" />
<line x1="68.80" y1="340.10" x2="68.80" y2="450.80" stroke="#000" stroke-width="1.6" />
<line x1="68.00" y1="450.00" x2="181.90" y2="450.00" stroke="#000" stroke-width="1.6" />
<line x1="181.90" y1="340.10" x2="181.90" y2="450.00" stroke="#666" stroke-width="1" />
<circle cx="128.9" cy="386.0" r="0.55" fill="#666"/>
<circle cx="129.7" cy="401.9" r="0.55" fill="#666"/>
<circle cx="116.2" cy="391.4" r="0.55" fill="#666"/>
<circle cx="122.2" cy="384.5" r="0.55" fill="#666"/>
<circle cx="123.1" cy="381.0" r="0.55" fill="#666"/>
<circle cx="122.7" cy="398.1" r="0.55" fill="#666"/>
<circle cx="122.0" cy="397.8" r="0.55" fill="#666"/>
<circle cx="121.7" cy="388.3" r="0.55" fill="#666"/>
<circle cx="123.7" cy="373.9" r="0.55" fill="#666"/>
<circle cx="134.7" cy="405.6" r="0.55" fill="#666"/>
<circle cx="123.1" cy="399.4" r="0.55" fill="#666"/>
<circle cx="123.2" cy="405.6" r="0.55" fill="#666"/>
<circle cx="127.5" cy="402.5" r="0.55" fill="#666"/>
<circle cx="116.2" cy="402.3" r="0.55" fill="#666"/>
<circle cx="124.4" cy="402.4" r="0.55" fill="#666"/>
<circle cx="123.2" cy="401.3" r="0.55" fill="#666"/>
<circle cx="127.8" cy="405.7" r="0.55" fill="#666"/>
<circle cx="125.6" cy="391.8" r="0.55" fill="#666"/>
<circle cx="116.2" cy="403.2" r="0.55" fill="#666"/>
<circle cx="132.6" cy="404.2" r="0.55" fill="#666"/>
<circle cx="121.5" cy="400.4" r="0.55" fill="#666"/>
<circle cx="113.7" cy="398.4" r="0.55" fill="#666"/>
<circle cx="125.8" cy="401.0" r="0.55" fill="#666"/>
<circle cx="115.0" cy="393.7" r="0.55" fill="#666"/>
<circle cx="129.6" cy="396.3" r="0.55" fill="#666"/>
<circle cx="115.1" cy="393.7" r="0.55" fill="#666"/>
<circle cx="125.9" cy="383.9" r="0.55" fill="#666"/>
<circle cx="122.9" cy="398.6" r="0.55" fill="#666"/>
<circle cx="125.1" cy="389.2" r="0.55" fill="#666"/>
<circle cx="128.0" cy="390.5" r="0.55" fill="#666"/>
<circle cx="118.0" cy="396.2" r="0.55" fill="#666"/>
<circle cx="126.1" cy="385.1" r="0.55" fill="#666"/>
<circle cx="116.7" cy="396.7" r="0.55" fill="#666"/>
<circle cx="121.3" cy="405.6" r="0.55" fill="#666"/>
<circle cx="124.2" cy="393.5" r="0.55" fill="#666"/>
<circle cx="119.4" cy="396.3" r="0.55" fill="#666"/>
<circle cx="122.9" cy="378.7" r="0.55" fill="#666"/>
<circle cx="115.4" cy="402.3" r="0.55" fill="#666"/>
<circle cx="108.9" cy="394.1" r="0.55" fill="#666"/>
<circle cx="120.9" cy="397.5" r="0.55" fill="#666"/>
<circle cx="128.7" cy="405.9" r="0.55" fill="#666"/>
<circle cx="124.1" cy="375.9" r="0.55" fill="#666"/>
<circle cx="112.3" cy="387.3" r="0.55" fill="#666"/>
<circle cx="124.3" cy="394.6" r="0.55" fill="#666"/>
<circle cx="116.0" cy="398.3" r="0.55" fill="#666"/>
<circle cx="132.1" cy="394.3" r="0.55" fill="#666"/>
<circle cx="125.7" cy="402.9" r="0.55" fill="#666"/>
<circle cx="115.9" cy="399.9" r="0.55" fill="#666"/>
<circle cx="121.8" cy="400.1" r="0.55" fill="#666"/>
<circle cx="114.8" cy="392.9" r="0.55" fill="#666"/>
<circle cx="120.2" cy="397.5" r="0.55" fill="#666"/>
<circle cx="125.8" cy="403.3" r="0.55" fill="#666"/>
<circle cx="122.7" cy="393.8" r="0.55" fill="#666"/>
<circle cx="128.1" cy="383.9" r="0.55" fill="#666"/>
<circle cx="114.7" cy="382.5" r="0.55" fill="#666"/>
<circle cx="121.7" cy="390.5" r="0.55" fill="#666"/>
<circle cx="132.2" cy="404.8" r="0.55" fill="#666"/>
<circle cx="122.9" cy="386.5" r="0.55" fill="#666"/>
<circle cx="122.1" cy="402.0" r="0.55" fill="#666"/>
<circle cx="127.8" cy="400.2" r="0.55" fill="#666"/>
<circle cx="126.7" cy="405.0" r="0.55" fill="#666"/>
<circle cx="125.5" cy="403.5" r="0.55" fill="#666"/>
<circle cx="127.5" cy="401.6" r="0.55" fill="#666"/>
<circle cx="120.6" cy="400.6" r="0.55" fill="#666"/>
<circle cx="116.3" cy="397.1" r="0.55" fill="#666"/>
<circle cx="127.2" cy="398.4" r="0.55" fill="#666"/>
<circle cx="122.8" cy="403.1" r="0.55" fill="#666"/>
<circle cx="130.9" cy="396.1" r="0.55" fill="#666"/>
<circle cx="129.2" cy="402.8" r="0.55" fill="#666"/>
<circle cx="114.3" cy="405.7" r="0.55" fill="#666"/>
<circle cx="115.9" cy="405.8" r="0.55" fill="#666"/>
<circle cx="127.1" cy="403.6" r="0.55" fill="#666"/>
<circle cx="128.8" cy="389.1" r="0.55" fill="#666"/>
<circle cx="119.1" cy="402.5" r="0.55" fill="#666"/>
<circle cx="123.9" cy="402.5" r="0.55" fill="#666"/>
<circle cx="115.9" cy="391.5" r="0.55" fill="#666"/>
<circle cx="116.5" cy="400.6" r="0.55" fill="#666"/>
<circle cx="126.3" cy="392.2" r="0.55" fill="#666"/>
<circle cx="123.6" cy="377.1" r="0.55" fill="#666"/>
<circle cx="118.3" cy="400.9" r="0.55" fill="#666"/>
<circle cx="121.8" cy="402.0" r="0.55" fill="#666"/>
<circle cx="116.5" cy="405.9" r="0.55" fill="#666"/>
<circle cx="123.1" cy="382.3" r="0.55" fill="#666"/>
<circle cx="119.0" cy="378.0" r="0.55" fill="#666"/>
<circle cx="120.2" cy="399.4" r="0.55" fill="#666"/>
<circle cx="115.9" cy="400.1" r="0.55" fill="#666"/>
<circle cx="124.2" cy="398.1" r="0.55" fill="#666"/>
<circle cx="129.7" cy="403.0" r="0.55" fill="#666"/>
<circle cx="128.3" cy="401.1" r="0.55" fill="#666"/>
<circle cx="126.8" cy="396.4" r="0.55" fill="#666"/>
<circle cx="117.1" cy="374.2" r="0.55" fill="#666"/>
<circle cx="131.6" cy="405.7" r="0.55" fill="#666"/>
<circle cx="126.5" cy="384.9" r="0.55" fill="#666"/>
<circle cx="120.0" cy="390.5" r="0.55" fill="#666"/>
<circle cx="125.1" cy="380.8" r="0.55" fill="#666"/>
<circle cx="126.5" cy="376.4" r="0.55" fill="#666"/>
<circle cx="120.0" cy="389.9" r="0.55" fill="#666"/>
<circle cx="106.6" cy="402.3" r="0.55" fill="#666"/>
<circle cx="123.5" cy="388.1" r="0.55" fill="#666"/>
<circle cx="124.8" cy="372.5" r="0.55" fill="#666"/>
<circle cx="123.7" cy="402.7" r="0.55" fill="#666"/>
<circle cx="122.4" cy="380.5" r="0.55" fill="#666"/>
<circle cx="114.8" cy="399.6" r="0.55" fill="#666"/>
<circle cx="119.6" cy="378.0" r="0.55" fill="#666"/>
<circle cx="125.7" cy="393.2" r="0.55" fill="#666"/>
<circle cx="132.7" cy="404.0" r="0.55" fill="#666"/>
<circle cx="118.8" cy="394.9" r="0.55" fill="#666"/>
<circle cx="123.2" cy="404.9" r="0.55" fill="#666"/>
<circle cx="122.9" cy="378.2" r="0.55" fill="#666"/>
<circle cx="124.4" cy="400.2" r="0.55" fill="#666"/>
<ellipse cx="120.50" cy="420.20" rx="11.00" ry="22.40" transform="rotate(-7 120.50 420.20)" fill="none" stroke="#333" stroke-width="0.7" stroke-opacity="0.8"/>
<ellipse cx="120.04" cy="420.89" rx="9.68" ry="19.71" transform="rotate(-7 120.04 420.89)" fill="none" stroke="#333" stroke-width="0.7" stroke-opacity="0.8"/>
<ellipse cx="119.57" cy="421.58" rx="8.36" ry="17.02" transform="rotate(-7 119.57 421.58)" fill="none" stroke="#333" stroke-width="0.7" stroke-opacity="0.8"/>
<ellipse cx="119.11" cy="422.26" rx="7.04" ry="14.34" transform="rotate(-7 119.11 422.26)" fill="none" stroke="#333" stroke-width="0.7" stroke-opacity="0.8"/>
<ellipse cx="118.64" cy="422.95" rx="5.72" ry="11.65" transform="rotate(-7 118.64 422.95)" fill="none" stroke="#333" stroke-width="0.7" stroke-opacity="0.8"/>
<g fill="#000" fill-opacity="0.22"><circle cx="112.9" cy="427.3" r="1.3"/><circle cx="121.3" cy="420.9" r="1.3"/><circle cx="112.3" cy="424.4" r="1.3"/><circle cx="120.0" cy="431.5" r="1.3"/><circle cx="112.2" cy="416.5" r="1.3"/><circle cx="120.6" cy="427.4" r="1.3"/><circle cx="124.2" cy="430.4" r="1.3"/><circle cx="117.1" cy="422.8" r="1.3"/><circle cx="127.7" cy="421.9" r="1.3"/><circle cx="114.0" cy="417.3" r="1.3"/><circle cx="118.0" cy="425.4" r="1.3"/><circle cx="116.2" cy="424.2" r="1.3"/><circle cx="119.0" cy="428.9" r="1.3"/><circle cx="122.1" cy="425.6" r="1.3"/><circle cx="111.9" cy="423.8" r="1.3"/><circle cx="111.7" cy="424.9" r="1.3"/><circle cx="114.6" cy="426.1" r="1.3"/><circle cx="130.7" cy="423.3" r="1.3"/><circle cx="120.4" cy="415.7" r="1.3"/><circle cx="116.8" cy="428.9" r="1.3"/><circle cx="117.4" cy="426.9" r="1.3"/><circle cx="117.6" cy="417.9" r="1.3"/><circle cx="119.5" cy="419.1" r="1.3"/><circle cx="124.8" cy="420.7" r="1.3"/><circle cx="120.3" cy="424.3" r="1.3"/><circle cx="121.1" cy="420.3" r="1.3"/><circle cx="121.5" cy="423.4" r="1.3"/><circle cx="122.9" cy="428.2" r="1.3"/><circle cx="117.8" cy="419.4" r="1.3"/><circle cx="120.9" cy="427.3" r="1.3"/><circle cx="124.0" cy="421.6" r="1.3"/><circle cx="120.0" cy="427.6" r="1.3"/><circle cx="118.8" cy="425.8" r="1.3"/><circle cx="118.1" cy="420.6" r="1.3"/><circle cx="113.4" cy="422.2" r="1.3"/><circle cx="120.6" cy="434.1" r="1.3"/><circle cx="122.0" cy="431.1" r="1.3"/><circle cx="121.0" cy="428.8" r="1.3"/><circle cx="118.7" cy="429.5" r="1.3"/><circle cx="124.5" cy="421.9" r="1.3"/><circle cx="119.0" cy="430.7" r="1.3"/><circle cx="120.6" cy="416.9" r="1.3"/><circle cx="128.1" cy="435.3" r="1.3"/><circle cx="118.6" cy="429.3" r="1.3"/><circle cx="117.7" cy="418.7" r="1.3"/><circle cx="117.3" cy="427.0" r="1.3"/><circle cx="122.4" cy="428.8" r="1.3"/><circle cx="118.5" cy="433.3" r="1.3"/><circle cx="114.9" cy="429.9" r="1.3"/><circle cx="121.9" cy="422.3" r="1.3"/><circle cx="118.8" cy="427.9" r="1.3"/><circle cx="123.3" cy="417.6" r="1.3"/><circle cx="117.9" cy="428.7" r="1.3"/><circle cx="115.9" cy="409.2" r="1.3"/><circle cx="121.9" cy="439.3" r="1.3"/><circle cx="121.2" cy="418.3" r="1.3"/><circle cx="116.1" cy="426.1" r="1.3"/><circle cx="127.8" cy="427.8" r="1.3"/><circle cx="118.8" cy="434.6" r="1.3"/><circle cx="118.1" cy="436.6" r="1.3"/><circle cx="114.7" cy="421.6" r="1.3"/><circle cx="121.1" cy="433.5" r="1.3"/><circle cx="120.3" cy="426.3" r="1.3"/><circle cx="114.9" cy="421.2" r="1.3"/><circle cx="119.8" cy="422.2" r="1.3"/><circle cx="120.8" cy="424.8" r="1.3"/><circle cx="116.3" cy="425.4" r="1.3"/><circle cx="119.7" cy="429.9" r="1.3"/><circle cx="115.6" cy="423.1" r="1.3"/><circle cx="123.3" cy="422.9" r="1.3"/><circle cx="115.1" cy="416.6" r="1.3"/><circle cx="118.4" cy="425.8" r="1.3"/><circle cx="126.4" cy="425.5" r="1.3"/><circle cx="113.4" cy="408.9" r="1.3"/><circle cx="123.3" cy="425.3" r="1.3"/><circle cx="122.3" cy="427.9" r="1.3"/><circle cx="115.9" cy="410.7" r="1.3"/><circle cx="116.4" cy="414.5" r="1.3"/><circle cx="119.0" cy="410.5" r="1.3"/><circle cx="114.5" cy="432.7" r="1.3"/><circle cx="123.6" cy="416.4" r="1.3"/><circle cx="120.6" cy="417.9" r="1.3"/><circle cx="114.5" cy="420.2" r="1.3"/><circle cx="112.5" cy="420.4" r="1.3"/><circle cx="122.9" cy="428.6" r="1.3"/><circle cx="125.8" cy="423.4" r="1.3"/><circle cx="116.6" cy="418.2" r="1.3"/><circle cx="116.5" cy="416.0" r="1.3"/><circle cx="123.7" cy="429.5" r="1.3"/><circle cx="123.0" cy="425.8" r="1.3"/><circle cx="114.8" cy="425.3" r="1.3"/><circle cx="115.6" cy="417.4" r="1.3"/><circle cx="110.2" cy="415.4" r="1.3"/><circle cx="117.6" cy="425.5" r="1.3"/><circle cx="116.4" cy="433.9" r="1.3"/><circle cx="118.6" cy="428.2" r="1.3"/><circle cx="122.1" cy="418.8" r="1.3"/><circle cx="115.4" cy="433.2" r="1.3"/><circle cx="119.4" cy="430.9" r="1.3"/><circle cx="119.7" cy="410.8" r="1.3"/><circle cx="120.2" cy="419.9" r="1.3"/><circle cx="114.4" cy="421.9" r="1.3"/><circle cx="121.1" cy="430.0" r="1.3"/><circle cx="120.9" cy="413.5" r="1.3"/><circle cx="114.2" cy="409.3" r="1.3"/><circle cx="117.5" cy="428.4" r="1.3"/><circle cx="114.7" cy="426.3" r="1.3"/><circle cx="119.0" cy="431.0" r="1.3"/><circle cx="113.9" cy="419.4" r="1.3"/><circle cx="115.3" cy="436.1" r="1.3"/><circle cx="121.9" cy="423.4" r="1.3"/><circle cx="118.6" cy="425.2" r="1.3"/><circle cx="118.3" cy="423.1" r="1.3"/><circle cx="115.7" cy="416.4" r="1.3"/><circle cx="115.8" cy="435.4" r="1.3"/><circle cx="119.8" cy="424.8" r="1.3"/><circle cx="116.8" cy="425.0" r="1.3"/><circle cx="118.7" cy="420.2" r="1.3"/><circle cx="118.5" cy="426.0" r="1.3"/><circle cx="114.3" cy="419.6" r="1.3"/><circle cx="113.1" cy="417.9" r="1.3"/><circle cx="120.1" cy="408.9" r="1.3"/><circle cx="116.3" cy="420.6" r="1.3"/><circle cx="115.2" cy="425.3" r="1.3"/><circle cx="122.1" cy="424.7" r="1.3"/><circle cx="116.8" cy="420.6" r="1.3"/><circle cx="117.5" cy="430.4" r="1.3"/><circle cx="115.5" cy="417.2" r="1.3"/><circle cx="112.1" cy="417.7" r="1.3"/><circle cx="118.9" cy="422.9" r="1.3"/><circle cx="123.1" cy="419.8" r="1.3"/><circle cx="121.0" cy="429.5" r="1.3"/><circle cx="110.7" cy="414.8" r="1.3"/><circle cx="114.3" cy="430.6" r="1.3"/><circle cx="122.2" cy="416.2" r="1.3"/><circle cx="121.6" cy="421.7" r="1.3"/><circle cx="115.8" cy="421.0" r="1.3"/><circle cx="115.5" cy="412.8" r="1.3"/><circle cx="113.0" cy="416.8" r="1.3"/><circle cx="120.5" cy="437.9" r="1.3"/><circle cx="128.3" cy="421.6" r="1.3"/><circle cx="119.5" cy="419.6" r="1.3"/><circle cx="121.6" cy="427.7" r="1.3"/><circle cx="110.9" cy="421.5" r="1.3"/><circle cx="116.7" cy="424.7" r="1.3"/><circle cx="118.0" cy="422.3" r="1.3"/><circle cx="118.1" cy="420.6" r="1.3"/><circle cx="114.7" cy="434.6" r="1.3"/><circle cx="119.2" cy="427.2" r="1.3"/><circle cx="111.2" cy="423.9" r="1.3"/><circle cx="120.3" cy="415.9" r="1.3"/><circle cx="121.8" cy="421.7" r="1.3"/><circle cx="119.1" cy="423.5" r="1.3"/><circle cx="119.0" cy="432.2" r="1.3"/><circle cx="116.7" cy="434.8" r="1.3"/><circle cx="114.1" cy="418.7" r="1.3"/><circle cx="120.0" cy="417.4" r="1.3"/><circle cx="116.5" cy="430.5" r="1.3"/><circle cx="121.6" cy="412.7" r="1.3"/><circle cx="120.5" cy="436.6" r="1.3"/><circle cx="122.3" cy="422.6" r="1.3"/><circle cx="115.1" cy="422.7" r="1.3"/><circle cx="112.9" cy="423.1" r="1.3"/><circle cx="116.8" cy="423.6" r="1.3"/><circle cx="122.2" cy="422.7" r="1.3"/><circle cx="113.1" cy="421.9" r="1.3"/><circle cx="116.9" cy="422.3" r="1.3"/><circle cx="113.5" cy="423.2" r="1.3"/><circle cx="126.0" cy="420.0" r="1.3"/><circle cx="117.6" cy="431.8" r="1.3"/><circle cx="120.9" cy="429.2" r="1.3"/><circle cx="120.1" cy="411.5" r="1.3"/><circle cx="114.2" cy="425.6" r="1.3"/><circle cx="120.2" cy="432.8" r="1.3"/><circle cx="119.4" cy="422.8" r="1.3"/><circle cx="117.7" cy="423.1" r="1.3"/><circle cx="118.9" cy="428.8" r="1.3"/><circle cx="115.9" cy="419.3" r="1.3"/><circle cx="114.7" cy="431.9" r="1.3"/><circle cx="123.2" cy="430.6" r="1.3"/><circle cx="121.4" cy="429.7" r="1.3"/><circle cx="117.9" cy="428.8" r="1.3"/><circle cx="113.3" cy="423.5" r="1.3"/><circle cx="115.0" cy="429.4" r="1.3"/><circle cx="115.2" cy="424.0" r="1.3"/><circle cx="119.8" cy="433.2" r="1.3"/><circle cx="114.0" cy="418.6" r="1.3"/><circle cx="120.4" cy="417.1" r="1.3"/><circle cx="119.1" cy="420.7" r="1.3"/><circle cx="116.4" cy="412.7" r="1.3"/><circle cx="120.2" cy="421.1" r="1.3"/><circle cx="119.1" cy="422.1" r="1.3"/><circle cx="118.8" cy="434.9" r="1.3"/><circle cx="117.7" cy="427.4" r="1.3"/><circle cx="119.2" cy="418.5" r="1.3"/><circle cx="117.9" cy="421.2" r="1.3"/><circle cx="113.0" cy="430.5" r="1.3"/><circle cx="120.3" cy="424.8" r="1.3"/><circle cx="113.1" cy="411.7" r="1.3"/><circle cx="119.5" cy="423.7" r="1.3"/><circle cx="111.5" cy="424.8" r="1.3"/><circle cx="118.3" cy="426.8" r="1.3"/><circle cx="118.5" cy="425.5" r="1.3"/><circle cx="112.9" cy="422.3" r="1.3"/><circle cx="115.5" cy="423.1" r="1.3"/><circle cx="119.0" cy="428.4" r="1.3"/><circle cx="123.0" cy="407.4" r="1.3"/><circle cx="119.1" cy="423.1" r="1.3"/><circle cx="127.1" cy="429.9" r="1.3"/><circle cx="116.0" cy="431.1" r="1.3"/><circle cx="113.3" cy="424.1" r="1.3"/><circle cx="117.0" cy="423.9" r="1.3"/><circle cx="114.4" cy="412.7" r="1.3"/><circle cx="119.9" cy="430.8" r="1.3"/><circle cx="116.9" cy="417.9" r="1.3"/><circle cx="118.7" cy="428.1" r="1.3"/><circle cx="116.9" cy="424.5" r="1.3"/><circle cx="122.7" cy="416.9" r="1.3"/><circle cx="114.5" cy="412.3" r="1.3"/><circle cx="114.5" cy="419.9" r="1.3"/><circle cx="113.5" cy="420.3" r="1.3"/><circle cx="124.7" cy="422.7" r="1.3"/><circle cx="118.1" cy="438.8" r="1.3"/><circle cx="116.6" cy="413.3" r="1.3"/><circle cx="118.8" cy="418.3" r="1.3"/><circle cx="123.6" cy="416.0" r="1.3"/><circle cx="114.6" cy="414.2" r="1.3"/><circle cx="117.5" cy="417.9" r="1.3"/><circle cx="117.2" cy="422.1" r="1.3"/><circle cx="115.6" cy="430.8" r="1.3"/><circle cx="121.4" cy="424.6" r="1.3"/><circle cx="113.5" cy="417.8" r="1.3"/><circle cx="119.8" cy="439.9" r="1.3"/><circle cx="115.4" cy="419.5" r="1.3"/><circle cx="114.3" cy="417.6" r="1.3"/><circle cx="113.6" cy="423.4" r="1.3"/><circle cx="123.3" cy="424.1" r="1.3"/><circle cx="114.8" cy="414.2" r="1.3"/><circle cx="118.4" cy="424.3" r="1.3"/><circle cx="112.2" cy="417.8" r="1.3"/><circle cx="117.9" cy="431.1" r="1.3"/><circle cx="120.2" cy="425.7" r="1.3"/><circle cx="116.5" cy="426.7" r="1.3"/><circle cx="118.5" cy="438.6" r="1.3"/><circle cx="112.9" cy="422.4" r="1.3"/><circle cx="122.5" cy="422.4" r="1.3"/><circle cx="123.3" cy="423.8" r="1.3"/><circle cx="118.0" cy="422.1" r="1.3"/><circle cx="111.7" cy="418.6" r="1.3"/><circle cx="126.7" cy="428.1" r="1.3"/><circle cx="120.4" cy="430.5" r="1.3"/><circle cx="120.3" cy="431.0" r="1.3"/><circle cx="116.4" cy="423.1" r="1.3"/><circle cx="121.4" cy="421.9" r="1.3"/><circle cx="112.2" cy="423.4" r="1.3"/><circle cx="115.7" cy="428.6" r="1.3"/><circle cx="114.2" cy="417.8" r="1.3"/><circle cx="117.0" cy="434.7" r="1.3"/><circle cx="117.5" cy="425.6" r="1.3"/><circle cx="117.8" cy="426.4" r="1.3"/><circle cx="121.9" cy="433.3" r="1.3"/><circle cx="117.4" cy="422.4" r="1.3"/><circle cx="127.1" cy="422.7" r="1.3"/><circle cx="125.8" cy="430.2" r="1.3"/><circle cx="113.7" cy="428.0" r="1.3"/><circle cx="120.5" cy="423.5" r="1.3"/><circle cx="116.3" cy="417.4" r="1.3"/><circle cx="124.8" cy="422.4" r="1.3"/><circle cx="115.9" cy="422.7" r="1.3"/><circle cx="114.1" cy="419.7" r="1.3"/><circle cx="118.1" cy="426.5" r="1.3"/><circle cx="115.5" cy="424.1" r="1.3"/><circle cx="112.3" cy="428.3" r="1.3"/><circle cx="114.7" cy="426.1" r="1.3"/><circle cx="113.7" cy="421.4" r="1.3"/><circle cx="117.9" cy="416.6" r="1.3"/><circle cx="127.4" cy="423.6" r="1.3"/><circle cx="117.0" cy="419.8" r="1.3"/><circle cx="124.6" cy="433.0" r="1.3"/><circle cx="118.2" cy="415.5" r="1.3"/><circle cx="115.9" cy="428.6" r="1.3"/><circle cx="115.0" cy="417.0" r="1.3"/><circle cx="112.5" cy="419.8" r="1.3"/><circle cx="117.4" cy="420.3" r="1.3"/><circle cx="124.2" cy="417.3" r="1.3"/><circle cx="119.0" cy="425.0" r="1.3"/><circle cx="117.5" cy="431.3" r="1.3"/><circle cx="116.1" cy="422.5" r="1.3"/><circle cx="116.1" cy="424.0" r="1.3"/><circle cx="123.1" cy="429.2" r="1.3"/><circle cx="112.0" cy="422.0" r="1.3"/><circle cx="114.8" cy="430.0" r="1.3"/><circle cx="118.9" cy="430.2" r="1.3"/><circle cx="116.5" cy="412.1" r="1.3"/><circle cx="119.5" cy="425.8" r="1.3"/><circle cx="119.0" cy="415.9" r="1.3"/><circle cx="117.6" cy="420.0" r="1.3"/><circle cx="115.0" cy="427.0" r="1.3"/><circle cx="118.6" cy="418.6" r="1.3"/><circle cx="115.8" cy="431.9" r="1.3"/><circle cx="116.4" cy="409.9" r="1.3"/><circle cx="114.3" cy="427.5" r="1.3"/><circle cx="124.8" cy="431.6" r="1.3"/><circle cx="119.2" cy="425.7" r="1.3"/><circle cx="113.2" cy="421.9" r="1.3"/><circle cx="115.9" cy="419.6" r="1.3"/><circle cx="117.7" cy="421.9" r="1.3"/><circle cx="119.6" cy="433.7" r="1.3"/><circle cx="120.7" cy="427.0" r="1.3"/><circle cx="116.0" cy="414.7" r="1.3"/><circle cx="117.4" cy="428.1" r="1.3"/><circle cx="114.1" cy="432.9" r="1.3"/><circle cx="116.4" cy="427.0" r="1.3"/><circle cx="115.7" cy="416.4" r="1.3"/><circle cx="125.3" cy="416.4" r="1.3"/><circle cx="121.0" cy="420.6" r="1.3"/><circle cx="118.3" cy="419.2" r="1.3"/><circle cx="116.4" cy="430.6" r="1.3"/><circle cx="125.0" cy="418.5" r="1.3"/><circle cx="118.1" cy="430.6" r="1.3"/><circle cx="115.4" cy="429.3" r="1.3"/><circle cx="114.7" cy="428.6" r="1.3"/><circle cx="119.9" cy="432.2" r="1.3"/><circle cx="118.5" cy="416.7" r="1.3"/><circle cx="119.8" cy="417.2" r="1.3"/><circle cx="121.3" cy="434.1" r="1.3"/><circle cx="119.7" cy="420.7" r="1.3"/><circle cx="122.4" cy="425.3" r="1.3"/><circle cx="112.5" cy="422.5" r="1.3"/><circle cx="123.1" cy="422.1" r="1.3"/><circle cx="117.9" cy="422.2" r="1.3"/><circle cx="110.6" cy="421.7" r="1.3"/><circle cx="119.1" cy="425.7" r="1.3"/><circle cx="115.9" cy="410.7" r="1.3"/><circle cx="122.8" cy="428.8" r="1.3"/><circle cx="122.3" cy="432.6" r="1.3"/><circle cx="115.6" cy="420.7" r="1.3"/><circle cx="119.6" cy="435.3" r="1.3"/><circle cx="110.8" cy="423.5" r="1.3"/><circle cx="115.0" cy="428.3" r="1.3"/><circle cx="123.3" cy="422.2" r="1.3"/><circle cx="112.7" cy="425.2" r="1.3"/><circle cx="115.8" cy="414.6" r="1.3"/><circle cx="120.9" cy="420.9" r="1.3"/><circle cx="119.7" cy="415.8" r="1.3"/><circle cx="121.3" cy="414.8" r="1.3"/><circle cx="121.0" cy="412.5" r="1.3"/><circle cx="122.9" cy="421.7" r="1.3"/><circle cx="111.3" cy="423.4" r="1.3"/><circle cx="118.5" cy="418.0" r="1.3"/><circle cx="115.8" cy="426.4" r="1.3"/><circle cx="115.5" cy="404.7" r="1.3"/><circle cx="116.1" cy="427.4" r="1.3"/><circle cx="119.2" cy="431.0" r="1.3"/><circle cx="120.9" cy="426.3" r="1.3"/><circle cx="122.4" cy="430.4" r="1.3"/><circle cx="117.7" cy="420.4" r="1.3"/><circle cx="121.9" cy="427.0" r="1.3"/><circle cx="119.5" cy="425.1" r="1.3"/><circle cx="119.0" cy="428.6" r="1.3"/><circle cx="118.9" cy="434.7" r="1.3"/><circle cx="115.1" cy="422.1" r="1.3"/><circle cx="119.2" cy="429.2" r="1.3"/><circle cx="121.4" cy="433.9" r="1.3"/><circle cx="116.2" cy="432.2" r="1.3"/><circle cx="119.0" cy="417.6" r="1.3"/><circle cx="118.0" cy="438.1" r="1.3"/><circle cx="120.5" cy="421.2" r="1.3"/><circle cx="114.8" cy="425.2" r="1.3"/><circle cx="127.2" cy="428.7" r="1.3"/><circle cx="118.4" cy="418.4" r="1.3"/><circle cx="112.8" cy="423.5" r="1.3"/><circle cx="115.7" cy="420.6" r="1.3"/><circle cx="122.1" cy="424.7" r="1.3"/><circle cx="115.8" cy="416.0" r="1.3"/><circle cx="119.1" cy="427.6" r="1.3"/><circle cx="116.6" cy="429.1" r="1.3"/><circle cx="120.5" cy="418.6" r="1.3"/><circle cx="117.6" cy="432.5" r="1.3"/><circle cx="122.2" cy="433.2" r="1.3"/><circle cx="125.0" cy="424.1" r="1.3"/><circle cx="121.1" cy="414.3" r="1.3"/><circle cx="120.5" cy="426.9" r="1.3"/><circle cx="117.0" cy="421.7" r="1.3"/><circle cx="113.2" cy="425.7" r="1.3"/><circle cx="122.5" cy="421.8" r="1.3"/><circle cx="119.4" cy="420.0" r="1.3"/><circle cx="118.2" cy="417.9" r="1.3"/><circle cx="119.0" cy="423.0" r="1.3"/><circle cx="118.6" cy="420.5" r="1.3"/><circle cx="112.8" cy="422.7" r="1.3"/><circle cx="122.5" cy="434.4" r="1.3"/><circle cx="116.7" cy="429.8" r="1.3"/><circle cx="120.8" cy="426.8" r="1.3"/><circle cx="111.6" cy="427.0" r="1.3"/><circle cx="114.3" cy="432.4" r="1.3"/><circle cx="121.0" cy="428.3" r="1.3"/><circle cx="119.8" cy="416.0" r="1.3"/><circle cx="121.5" cy="424.7" r="1.3"/><circle cx="116.5" cy="419.9" r="1.3"/><circle cx="113.3" cy="422.0" r="1.3"/><circle cx="130.0" cy="425.0" r="1.3"/><circle cx="118.1" cy="420.2" r="1.3"/><circle cx="114.9" cy="421.1" r="1.3"/><circle cx="114.5" cy="430.4" r="1.3"/><circle cx="116.9" cy="430.2" r="1.3"/><circle cx="113.4" cy="430.8" r="1.3"/><circle cx="117.8" cy="428.8" r="1.3"/><circle cx="116.8" cy="418.8" r="1.3"/><circle cx="122.2" cy="421.3" r="1.3"/><circle cx="116.6" cy="418.8" r="1.3"/><circle cx="118.2" cy="421.9" r="1.3"/><circle cx="118.9" cy="426.7" r="1.3"/><circle cx="114.2" cy="415.5" r="1.3"/><circle cx="119.7" cy="430.3" r="1.3"/><circle cx="119.9" cy="416.9" r="1.3"/><circle cx="120.2" cy="426.8" r="1.3"/><circle cx="118.9" cy="427.2" r="1.3"/><circle cx="116.4" cy="426.0" r="1.3"/><circle cx="121.1" cy="421.0" r="1.3"/></g>
<rect x="101.40" y="356.50" width="43.00" height="48.30" fill="none" stroke="#333" stroke-width="1.1" />
<rect x="109.80" y="348.00" width="21.60" height="9.60" fill="#fff" stroke="none" stroke-width="1" />
<text transform="translate(110.49 356.10) scale(1.0532 1)" font-size="10.0" font-weight="normal" fill="#333" >4.09</text>
<line x1="191.40" y1="350.81" x2="193.60" y2="350.81" stroke="#000" stroke-width="1" />
<g transform="translate(190.4 354.4) rotate(-90)"><text x="0" y="0" font-size="5.8" font-weight="bold" fill="#111">10</text><text x="6.3" y="-2.6" font-size="3.6" font-weight="bold" fill="#111">4</text></g>
<line x1="191.40" y1="378.82" x2="193.60" y2="378.82" stroke="#000" stroke-width="1" />
<g transform="translate(190.4 382.4) rotate(-90)"><text x="0" y="0" font-size="5.8" font-weight="bold" fill="#111">10</text><text x="6.3" y="-2.6" font-size="3.6" font-weight="bold" fill="#111">3</text></g>
<line x1="191.40" y1="406.83" x2="193.60" y2="406.83" stroke="#000" stroke-width="1" />
<g transform="translate(190.4 410.4) rotate(-90)"><text x="0" y="0" font-size="5.8" font-weight="bold" fill="#111">10</text><text x="6.3" y="-2.6" font-size="3.6" font-weight="bold" fill="#111">2</text></g>
<line x1="191.40" y1="434.39" x2="193.60" y2="434.39" stroke="#000" stroke-width="1" />
<g transform="translate(190.4 438.0) rotate(-90)"><text x="0" y="0" font-size="5.8" font-weight="bold" fill="#111">10</text><text x="6.3" y="-2.6" font-size="3.6" font-weight="bold" fill="#111">1</text></g>
<g transform="translate(190.4 444.5) rotate(-90)"><text x="0" y="0" font-size="5.8" font-weight="bold" fill="#111">0</text></g>
<line x1="191.80" y1="370.35" x2="193.60" y2="370.35" stroke="#000" stroke-width="0.9" />
<line x1="191.80" y1="365.43" x2="193.60" y2="365.43" stroke="#000" stroke-width="0.9" />
<line x1="191.80" y1="361.94" x2="193.60" y2="361.94" stroke="#000" stroke-width="0.9" />
<line x1="191.80" y1="359.23" x2="193.60" y2="359.23" stroke="#000" stroke-width="0.9" />
<line x1="191.80" y1="357.01" x2="193.60" y2="357.01" stroke="#000" stroke-width="0.9" />
<line x1="191.80" y1="355.14" x2="193.60" y2="355.14" stroke="#000" stroke-width="0.9" />
<line x1="191.80" y1="353.52" x2="193.60" y2="353.52" stroke="#000" stroke-width="0.9" />
<line x1="191.80" y1="352.09" x2="193.60" y2="352.09" stroke="#000" stroke-width="0.9" />
<line x1="191.80" y1="398.30" x2="193.60" y2="398.30" stroke="#000" stroke-width="0.9" />
<line x1="191.80" y1="393.38" x2="193.60" y2="393.38" stroke="#000" stroke-width="0.9" />
<line x1="191.80" y1="389.89" x2="193.60" y2="389.89" stroke="#000" stroke-width="0.9" />
<line x1="191.80" y1="387.18" x2="193.60" y2="387.18" stroke="#000" stroke-width="0.9" />
<line x1="191.80" y1="384.97" x2="193.60" y2="384.97" stroke="#000" stroke-width="0.9" />
<line x1="191.80" y1="383.09" x2="193.60" y2="383.09" stroke="#000" stroke-width="0.9" />
<line x1="191.80" y1="381.47" x2="193.60" y2="381.47" stroke="#000" stroke-width="0.9" />
<line x1="191.80" y1="380.04" x2="193.60" y2="380.04" stroke="#000" stroke-width="0.9" />
<line x1="191.80" y1="426.25" x2="193.60" y2="426.25" stroke="#000" stroke-width="0.9" />
<line x1="191.80" y1="421.33" x2="193.60" y2="421.33" stroke="#000" stroke-width="0.9" />
<line x1="191.80" y1="417.84" x2="193.60" y2="417.84" stroke="#000" stroke-width="0.9" />
<line x1="191.80" y1="415.13" x2="193.60" y2="415.13" stroke="#000" stroke-width="0.9" />
<line x1="191.80" y1="412.92" x2="193.60" y2="412.92" stroke="#000" stroke-width="0.9" />
<line x1="191.80" y1="411.05" x2="193.60" y2="411.05" stroke="#000" stroke-width="0.9" />
<line x1="191.80" y1="409.43" x2="193.60" y2="409.43" stroke="#000" stroke-width="0.9" />
<line x1="191.80" y1="408.00" x2="193.60" y2="408.00" stroke="#000" stroke-width="0.9" />
<line x1="191.80" y1="449.28" x2="193.60" y2="449.28" stroke="#000" stroke-width="0.9" />
<line x1="191.80" y1="445.79" x2="193.60" y2="445.79" stroke="#000" stroke-width="0.9" />
<line x1="191.80" y1="443.08" x2="193.60" y2="443.08" stroke="#000" stroke-width="0.9" />
<line x1="191.80" y1="440.87" x2="193.60" y2="440.87" stroke="#000" stroke-width="0.9" />
<line x1="191.80" y1="439.00" x2="193.60" y2="439.00" stroke="#000" stroke-width="0.9" />
<line x1="191.80" y1="437.38" x2="193.60" y2="437.38" stroke="#000" stroke-width="0.9" />
<line x1="191.80" y1="435.95" x2="193.60" y2="435.95" stroke="#000" stroke-width="0.9" />
<line x1="207.21" y1="450.00" x2="207.21" y2="452.20" stroke="#000" stroke-width="1" />
<text x="204.2" y="457.4" font-size="5" font-weight="bold" fill="#333">10</text>
<text x="209.8" y="454.6" font-size="3" font-weight="bold" fill="#333">1</text>
<line x1="238.96" y1="450.00" x2="238.96" y2="452.20" stroke="#000" stroke-width="1" />
<text x="236.0" y="457.4" font-size="5" font-weight="bold" fill="#333">10</text>
<text x="241.6" y="454.6" font-size="3" font-weight="bold" fill="#333">2</text>
<line x1="267.88" y1="450.00" x2="267.88" y2="452.20" stroke="#000" stroke-width="1" />
<text x="264.9" y="457.4" font-size="5" font-weight="bold" fill="#333">10</text>
<text x="270.5" y="454.6" font-size="3" font-weight="bold" fill="#333">3</text>
<line x1="296.23" y1="450.00" x2="296.23" y2="452.20" stroke="#000" stroke-width="1" />
<text x="293.2" y="457.4" font-size="5" font-weight="bold" fill="#333">10</text>
<text x="298.8" y="454.6" font-size="3" font-weight="bold" fill="#333">4</text>
<text x="198.1" y="457.4" font-size="5" font-weight="bold" fill="#333">0</text>
<line x1="216.15" y1="450.00" x2="216.15" y2="451.80" stroke="#000" stroke-width="0.9" />
<line x1="221.38" y1="450.00" x2="221.38" y2="451.80" stroke="#000" stroke-width="0.9" />
<line x1="225.10" y1="450.00" x2="225.10" y2="451.80" stroke="#000" stroke-width="0.9" />
<line x1="227.97" y1="450.00" x2="227.97" y2="451.80" stroke="#000" stroke-width="0.9" />
<line x1="230.33" y1="450.00" x2="230.33" y2="451.80" stroke="#000" stroke-width="0.9" />
<line x1="232.32" y1="450.00" x2="232.32" y2="451.80" stroke="#000" stroke-width="0.9" />
<line x1="234.04" y1="450.00" x2="234.04" y2="451.80" stroke="#000" stroke-width="0.9" />
<line x1="235.56" y1="450.00" x2="235.56" y2="451.80" stroke="#000" stroke-width="0.9" />
<line x1="245.86" y1="450.00" x2="245.86" y2="451.80" stroke="#000" stroke-width="0.9" />
<line x1="251.09" y1="450.00" x2="251.09" y2="451.80" stroke="#000" stroke-width="0.9" />
<line x1="254.81" y1="450.00" x2="254.81" y2="451.80" stroke="#000" stroke-width="0.9" />
<line x1="257.69" y1="450.00" x2="257.69" y2="451.80" stroke="#000" stroke-width="0.9" />
<line x1="260.04" y1="450.00" x2="260.04" y2="451.80" stroke="#000" stroke-width="0.9" />
<line x1="262.03" y1="450.00" x2="262.03" y2="451.80" stroke="#000" stroke-width="0.9" />
<line x1="263.75" y1="450.00" x2="263.75" y2="451.80" stroke="#000" stroke-width="0.9" />
<line x1="265.27" y1="450.00" x2="265.27" y2="451.80" stroke="#000" stroke-width="0.9" />
<line x1="275.57" y1="450.00" x2="275.57" y2="451.80" stroke="#000" stroke-width="0.9" />
<line x1="280.81" y1="450.00" x2="280.81" y2="451.80" stroke="#000" stroke-width="0.9" />
<line x1="284.52" y1="450.00" x2="284.52" y2="451.80" stroke="#000" stroke-width="0.9" />
<line x1="287.40" y1="450.00" x2="287.40" y2="451.80" stroke="#000" stroke-width="0.9" />
<line x1="289.75" y1="450.00" x2="289.75" y2="451.80" stroke="#000" stroke-width="0.9" />
<line x1="291.74" y1="450.00" x2="291.74" y2="451.80" stroke="#000" stroke-width="0.9" />
<line x1="293.46" y1="450.00" x2="293.46" y2="451.80" stroke="#000" stroke-width="0.9" />
<line x1="294.98" y1="450.00" x2="294.98" y2="451.80" stroke="#000" stroke-width="0.9" />
<line x1="193.60" y1="339.30" x2="193.60" y2="450.80" stroke="#000" stroke-width="1.6" />
<line x1="192.80" y1="450.00" x2="307.00" y2="450.00" stroke="#000" stroke-width="1.6" />
<line x1="193.60" y1="339.30" x2="307.00" y2="339.30" stroke="#222" stroke-width="1.2" />
<line x1="215.90" y1="352.80" x2="215.90" y2="406.00" stroke="#aaa" stroke-width="0.9" />
<line x1="279.00" y1="352.80" x2="279.00" y2="406.00" stroke="#aaa" stroke-width="0.9" />
<text transform="translate(237.01 383.80) scale(1.0492 1)" font-size="10.0" font-weight="normal" fill="#2a2a2a" >17.3</text>
<ellipse cx="246.30" cy="411.00" rx="12.80" ry="24.60" transform="rotate(12 246.30 411.00)" fill="none" stroke="#333" stroke-width="0.7" stroke-opacity="0.8"/>
<ellipse cx="245.93" cy="412.33" rx="11.52" ry="22.14" transform="rotate(12 245.93 412.33)" fill="none" stroke="#333" stroke-width="0.7" stroke-opacity="0.8"/>
<ellipse cx="245.55" cy="413.67" rx="10.24" ry="19.68" transform="rotate(12 245.55 413.67)" fill="none" stroke="#333" stroke-width="0.7" stroke-opacity="0.8"/>
<ellipse cx="245.18" cy="415.00" rx="8.96" ry="17.22" transform="rotate(12 245.18 415.00)" fill="none" stroke="#333" stroke-width="0.7" stroke-opacity="0.8"/>
<ellipse cx="244.81" cy="416.33" rx="7.68" ry="14.76" transform="rotate(12 244.81 416.33)" fill="none" stroke="#333" stroke-width="0.7" stroke-opacity="0.8"/>
<ellipse cx="244.43" cy="417.67" rx="6.40" ry="12.30" transform="rotate(12 244.43 417.67)" fill="none" stroke="#333" stroke-width="0.7" stroke-opacity="0.8"/>
<g fill="#000" fill-opacity="0.22"><circle cx="235.6" cy="419.6" r="1.3"/><circle cx="243.0" cy="417.8" r="1.3"/><circle cx="248.4" cy="423.2" r="1.3"/><circle cx="238.4" cy="430.6" r="1.3"/><circle cx="243.5" cy="412.9" r="1.3"/><circle cx="237.5" cy="415.4" r="1.3"/><circle cx="245.2" cy="427.0" r="1.3"/><circle cx="251.0" cy="428.0" r="1.3"/><circle cx="249.1" cy="427.4" r="1.3"/><circle cx="239.0" cy="424.9" r="1.3"/><circle cx="244.4" cy="420.3" r="1.3"/><circle cx="241.3" cy="420.0" r="1.3"/><circle cx="246.2" cy="426.3" r="1.3"/><circle cx="245.1" cy="425.7" r="1.3"/><circle cx="242.1" cy="417.9" r="1.3"/><circle cx="243.6" cy="419.1" r="1.3"/><circle cx="244.7" cy="431.8" r="1.3"/><circle cx="237.9" cy="422.8" r="1.3"/><circle cx="240.0" cy="415.6" r="1.3"/><circle cx="242.2" cy="421.6" r="1.3"/><circle cx="246.8" cy="405.7" r="1.3"/><circle cx="251.5" cy="422.5" r="1.3"/><circle cx="238.9" cy="424.1" r="1.3"/><circle cx="243.5" cy="412.1" r="1.3"/><circle cx="245.4" cy="424.7" r="1.3"/><circle cx="237.6" cy="424.6" r="1.3"/><circle cx="248.0" cy="415.6" r="1.3"/><circle cx="252.3" cy="426.3" r="1.3"/><circle cx="236.8" cy="421.8" r="1.3"/><circle cx="242.3" cy="427.2" r="1.3"/><circle cx="247.2" cy="427.2" r="1.3"/><circle cx="244.1" cy="430.1" r="1.3"/><circle cx="247.2" cy="423.5" r="1.3"/><circle cx="237.0" cy="426.2" r="1.3"/><circle cx="248.2" cy="425.0" r="1.3"/><circle cx="243.0" cy="425.8" r="1.3"/><circle cx="240.3" cy="423.0" r="1.3"/><circle cx="247.9" cy="408.5" r="1.3"/><circle cx="247.5" cy="422.7" r="1.3"/><circle cx="246.0" cy="416.1" r="1.3"/><circle cx="243.3" cy="421.8" r="1.3"/><circle cx="249.7" cy="425.5" r="1.3"/><circle cx="242.4" cy="420.6" r="1.3"/><circle cx="236.3" cy="428.5" r="1.3"/><circle cx="249.7" cy="415.3" r="1.3"/><circle cx="241.8" cy="428.1" r="1.3"/><circle cx="235.9" cy="419.5" r="1.3"/><circle cx="246.7" cy="419.8" r="1.3"/><circle cx="235.9" cy="417.3" r="1.3"/><circle cx="243.9" cy="416.9" r="1.3"/><circle cx="241.1" cy="424.9" r="1.3"/><circle cx="243.1" cy="411.9" r="1.3"/><circle cx="239.4" cy="421.8" r="1.3"/><circle cx="237.8" cy="415.6" r="1.3"/><circle cx="246.0" cy="415.3" r="1.3"/><circle cx="236.4" cy="411.2" r="1.3"/><circle cx="247.8" cy="414.4" r="1.3"/><circle cx="239.0" cy="424.4" r="1.3"/><circle cx="245.5" cy="413.6" r="1.3"/><circle cx="251.2" cy="424.9" r="1.3"/><circle cx="253.2" cy="418.0" r="1.3"/><circle cx="255.3" cy="416.9" r="1.3"/><circle cx="235.4" cy="415.6" r="1.3"/><circle cx="241.2" cy="422.1" r="1.3"/><circle cx="239.4" cy="423.9" r="1.3"/><circle cx="252.0" cy="420.2" r="1.3"/><circle cx="237.3" cy="416.4" r="1.3"/><circle cx="246.2" cy="427.6" r="1.3"/><circle cx="243.9" cy="415.0" r="1.3"/><circle cx="241.5" cy="426.8" r="1.3"/><circle cx="237.2" cy="427.4" r="1.3"/><circle cx="244.2" cy="423.4" r="1.3"/><circle cx="237.5" cy="427.9" r="1.3"/><circle cx="247.0" cy="412.9" r="1.3"/><circle cx="248.8" cy="420.5" r="1.3"/><circle cx="248.9" cy="424.3" r="1.3"/><circle cx="240.0" cy="421.1" r="1.3"/><circle cx="242.8" cy="415.7" r="1.3"/><circle cx="242.0" cy="426.1" r="1.3"/><circle cx="244.2" cy="421.0" r="1.3"/><circle cx="239.5" cy="423.5" r="1.3"/><circle cx="243.1" cy="427.3" r="1.3"/><circle cx="235.5" cy="418.0" r="1.3"/><circle cx="244.6" cy="427.5" r="1.3"/><circle cx="238.2" cy="411.4" r="1.3"/><circle cx="241.2" cy="427.3" r="1.3"/><circle cx="252.5" cy="414.8" r="1.3"/><circle cx="241.9" cy="428.3" r="1.3"/><circle cx="245.9" cy="415.5" r="1.3"/><circle cx="242.7" cy="412.3" r="1.3"/><circle cx="250.4" cy="422.1" r="1.3"/><circle cx="243.2" cy="415.5" r="1.3"/><circle cx="244.8" cy="415.9" r="1.3"/><circle cx="238.6" cy="419.2" r="1.3"/><circle cx="241.5" cy="423.5" r="1.3"/><circle cx="241.9" cy="428.3" r="1.3"/><circle cx="242.9" cy="422.7" r="1.3"/><circle cx="246.5" cy="417.1" r="1.3"/><circle cx="251.0" cy="420.4" r="1.3"/><circle cx="248.2" cy="419.3" r="1.3"/><circle cx="246.6" cy="428.6" r="1.3"/><circle cx="249.7" cy="416.0" r="1.3"/><circle cx="246.7" cy="415.7" r="1.3"/><circle cx="241.6" cy="416.9" r="1.3"/><circle cx="238.2" cy="422.5" r="1.3"/><circle cx="238.2" cy="423.4" r="1.3"/><circle cx="245.8" cy="418.2" r="1.3"/><circle cx="243.1" cy="425.6" r="1.3"/><circle cx="250.1" cy="422.0" r="1.3"/><circle cx="251.5" cy="427.9" r="1.3"/><circle cx="252.9" cy="416.0" r="1.3"/><circle cx="235.6" cy="426.2" r="1.3"/><circle cx="241.5" cy="423.5" r="1.3"/><circle cx="252.9" cy="415.4" r="1.3"/><circle cx="242.0" cy="433.2" r="1.3"/><circle cx="247.6" cy="423.3" r="1.3"/><circle cx="246.6" cy="422.4" r="1.3"/><circle cx="245.0" cy="430.2" r="1.3"/><circle cx="241.3" cy="424.2" r="1.3"/><circle cx="243.7" cy="426.1" r="1.3"/><circle cx="250.2" cy="416.8" r="1.3"/><circle cx="247.9" cy="428.4" r="1.3"/><circle cx="238.5" cy="417.6" r="1.3"/><circle cx="236.6" cy="416.9" r="1.3"/><circle cx="247.7" cy="415.3" r="1.3"/><circle cx="241.4" cy="414.8" r="1.3"/><circle cx="241.6" cy="415.6" r="1.3"/><circle cx="236.9" cy="422.5" r="1.3"/><circle cx="244.2" cy="416.2" r="1.3"/><circle cx="249.9" cy="420.0" r="1.3"/><circle cx="250.8" cy="416.0" r="1.3"/><circle cx="251.9" cy="421.4" r="1.3"/><circle cx="237.8" cy="421.8" r="1.3"/><circle cx="238.9" cy="412.6" r="1.3"/><circle cx="245.9" cy="419.0" r="1.3"/><circle cx="245.4" cy="422.9" r="1.3"/><circle cx="244.7" cy="422.5" r="1.3"/><circle cx="247.3" cy="422.6" r="1.3"/><circle cx="247.4" cy="428.8" r="1.3"/><circle cx="237.0" cy="407.6" r="1.3"/><circle cx="252.6" cy="421.7" r="1.3"/><circle cx="244.8" cy="421.0" r="1.3"/><circle cx="239.8" cy="420.3" r="1.3"/><circle cx="245.9" cy="415.2" r="1.3"/><circle cx="239.6" cy="418.1" r="1.3"/><circle cx="242.7" cy="423.4" r="1.3"/><circle cx="236.7" cy="408.7" r="1.3"/><circle cx="252.6" cy="423.4" r="1.3"/><circle cx="248.8" cy="420.5" r="1.3"/><circle cx="239.1" cy="413.8" r="1.3"/><circle cx="247.1" cy="422.7" r="1.3"/><circle cx="234.8" cy="419.0" r="1.3"/><circle cx="250.6" cy="414.0" r="1.3"/><circle cx="239.1" cy="424.7" r="1.3"/><circle cx="240.0" cy="420.1" r="1.3"/><circle cx="240.7" cy="414.4" r="1.3"/><circle cx="240.0" cy="423.2" r="1.3"/><circle cx="236.3" cy="424.2" r="1.3"/><circle cx="246.2" cy="427.7" r="1.3"/><circle cx="252.7" cy="421.2" r="1.3"/><circle cx="241.3" cy="426.8" r="1.3"/><circle cx="248.2" cy="429.0" r="1.3"/><circle cx="242.3" cy="417.7" r="1.3"/><circle cx="237.7" cy="416.3" r="1.3"/><circle cx="240.0" cy="416.8" r="1.3"/><circle cx="239.9" cy="425.3" r="1.3"/><circle cx="248.2" cy="422.6" r="1.3"/><circle cx="237.8" cy="418.8" r="1.3"/><circle cx="244.1" cy="426.9" r="1.3"/><circle cx="243.0" cy="426.2" r="1.3"/><circle cx="238.9" cy="423.7" r="1.3"/><circle cx="248.2" cy="420.7" r="1.3"/><circle cx="237.1" cy="426.8" r="1.3"/><circle cx="237.0" cy="423.3" r="1.3"/><circle cx="242.9" cy="418.8" r="1.3"/><circle cx="243.2" cy="418.3" r="1.3"/><circle cx="239.7" cy="431.3" r="1.3"/><circle cx="251.4" cy="423.3" r="1.3"/><circle cx="244.2" cy="427.3" r="1.3"/><circle cx="237.6" cy="430.9" r="1.3"/><circle cx="242.5" cy="424.8" r="1.3"/><circle cx="241.0" cy="413.1" r="1.3"/><circle cx="239.8" cy="415.7" r="1.3"/><circle cx="249.6" cy="421.4" r="1.3"/><circle cx="249.0" cy="420.6" r="1.3"/><circle cx="238.3" cy="420.4" r="1.3"/><circle cx="245.0" cy="411.1" r="1.3"/><circle cx="241.4" cy="428.0" r="1.3"/><circle cx="245.0" cy="414.1" r="1.3"/><circle cx="242.2" cy="413.0" r="1.3"/><circle cx="244.3" cy="415.5" r="1.3"/><circle cx="242.7" cy="422.0" r="1.3"/><circle cx="252.9" cy="417.2" r="1.3"/><circle cx="246.6" cy="420.0" r="1.3"/><circle cx="248.1" cy="417.0" r="1.3"/><circle cx="240.5" cy="424.4" r="1.3"/><circle cx="241.7" cy="421.4" r="1.3"/><circle cx="245.6" cy="422.8" r="1.3"/><circle cx="241.3" cy="423.7" r="1.3"/><circle cx="247.9" cy="430.9" r="1.3"/><circle cx="237.5" cy="423.9" r="1.3"/><circle cx="236.7" cy="409.7" r="1.3"/><circle cx="244.6" cy="425.0" r="1.3"/><circle cx="254.2" cy="414.1" r="1.3"/><circle cx="250.3" cy="420.2" r="1.3"/><circle cx="240.3" cy="422.9" r="1.3"/><circle cx="252.8" cy="418.6" r="1.3"/><circle cx="236.0" cy="414.7" r="1.3"/><circle cx="240.5" cy="427.8" r="1.3"/><circle cx="246.1" cy="420.3" r="1.3"/><circle cx="241.9" cy="417.7" r="1.3"/><circle cx="252.0" cy="413.7" r="1.3"/><circle cx="241.8" cy="415.0" r="1.3"/><circle cx="249.2" cy="424.1" r="1.3"/><circle cx="238.6" cy="424.2" r="1.3"/><circle cx="237.3" cy="417.6" r="1.3"/><circle cx="253.2" cy="413.2" r="1.3"/><circle cx="238.1" cy="416.6" r="1.3"/><circle cx="248.0" cy="417.6" r="1.3"/><circle cx="244.7" cy="420.6" r="1.3"/><circle cx="247.7" cy="415.0" r="1.3"/><circle cx="236.5" cy="404.9" r="1.3"/><circle cx="242.4" cy="427.0" r="1.3"/><circle cx="249.4" cy="413.1" r="1.3"/><circle cx="235.2" cy="416.3" r="1.3"/><circle cx="242.6" cy="409.1" r="1.3"/><circle cx="242.2" cy="415.6" r="1.3"/><circle cx="242.2" cy="423.1" r="1.3"/><circle cx="244.2" cy="422.6" r="1.3"/><circle cx="246.5" cy="421.6" r="1.3"/><circle cx="241.9" cy="418.4" r="1.3"/><circle cx="250.3" cy="421.8" r="1.3"/><circle cx="244.3" cy="432.0" r="1.3"/><circle cx="257.0" cy="412.3" r="1.3"/><circle cx="242.3" cy="427.0" r="1.3"/><circle cx="242.7" cy="416.3" r="1.3"/><circle cx="237.6" cy="414.7" r="1.3"/><circle cx="247.4" cy="410.5" r="1.3"/><circle cx="245.2" cy="416.4" r="1.3"/><circle cx="245.9" cy="415.1" r="1.3"/><circle cx="243.6" cy="422.2" r="1.3"/><circle cx="241.3" cy="416.0" r="1.3"/><circle cx="247.2" cy="426.5" r="1.3"/><circle cx="238.6" cy="422.1" r="1.3"/><circle cx="238.7" cy="416.0" r="1.3"/><circle cx="248.1" cy="419.6" r="1.3"/><circle cx="247.9" cy="418.6" r="1.3"/><circle cx="245.4" cy="420.8" r="1.3"/><circle cx="242.0" cy="411.9" r="1.3"/><circle cx="243.2" cy="424.0" r="1.3"/><circle cx="245.5" cy="421.2" r="1.3"/><circle cx="244.0" cy="427.2" r="1.3"/><circle cx="249.6" cy="414.5" r="1.3"/><circle cx="252.5" cy="424.2" r="1.3"/><circle cx="242.2" cy="422.4" r="1.3"/><circle cx="254.9" cy="421.8" r="1.3"/><circle cx="242.3" cy="414.4" r="1.3"/><circle cx="243.2" cy="425.2" r="1.3"/><circle cx="245.2" cy="422.8" r="1.3"/><circle cx="250.2" cy="420.3" r="1.3"/><circle cx="242.9" cy="414.4" r="1.3"/><circle cx="248.0" cy="412.8" r="1.3"/><circle cx="253.8" cy="423.6" r="1.3"/><circle cx="242.9" cy="413.1" r="1.3"/><circle cx="244.3" cy="427.6" r="1.3"/><circle cx="240.3" cy="421.0" r="1.3"/><circle cx="243.1" cy="427.1" r="1.3"/><circle cx="244.2" cy="429.2" r="1.3"/><circle cx="243.3" cy="413.9" r="1.3"/><circle cx="238.0" cy="421.6" r="1.3"/><circle cx="251.4" cy="419.1" r="1.3"/><circle cx="242.7" cy="417.8" r="1.3"/><circle cx="240.8" cy="419.0" r="1.3"/><circle cx="238.0" cy="426.6" r="1.3"/><circle cx="244.0" cy="425.3" r="1.3"/><circle cx="245.1" cy="414.3" r="1.3"/><circle cx="246.6" cy="419.7" r="1.3"/><circle cx="239.3" cy="413.3" r="1.3"/><circle cx="241.2" cy="418.9" r="1.3"/><circle cx="249.8" cy="422.3" r="1.3"/><circle cx="246.6" cy="420.2" r="1.3"/><circle cx="239.9" cy="427.7" r="1.3"/><circle cx="239.6" cy="432.2" r="1.3"/><circle cx="242.5" cy="423.2" r="1.3"/><circle cx="244.2" cy="425.6" r="1.3"/><circle cx="254.9" cy="420.9" r="1.3"/><circle cx="242.8" cy="414.8" r="1.3"/><circle cx="251.9" cy="427.2" r="1.3"/><circle cx="245.0" cy="424.6" r="1.3"/><circle cx="243.6" cy="423.1" r="1.3"/><circle cx="244.2" cy="420.8" r="1.3"/><circle cx="244.3" cy="417.8" r="1.3"/><circle cx="241.1" cy="424.3" r="1.3"/><circle cx="249.1" cy="416.3" r="1.3"/><circle cx="245.6" cy="423.8" r="1.3"/><circle cx="237.4" cy="429.7" r="1.3"/><circle cx="244.7" cy="420.7" r="1.3"/><circle cx="244.0" cy="423.3" r="1.3"/><circle cx="239.6" cy="429.7" r="1.3"/><circle cx="247.0" cy="428.6" r="1.3"/><circle cx="244.5" cy="428.9" r="1.3"/><circle cx="247.2" cy="409.3" r="1.3"/><circle cx="245.7" cy="425.0" r="1.3"/><circle cx="244.0" cy="408.6" r="1.3"/><circle cx="239.6" cy="430.5" r="1.3"/><circle cx="243.0" cy="420.9" r="1.3"/><circle cx="243.9" cy="421.5" r="1.3"/><circle cx="242.8" cy="409.2" r="1.3"/><circle cx="249.0" cy="419.8" r="1.3"/><circle cx="243.8" cy="412.3" r="1.3"/><circle cx="243.5" cy="418.4" r="1.3"/><circle cx="246.6" cy="419.7" r="1.3"/><circle cx="235.0" cy="421.2" r="1.3"/><circle cx="247.0" cy="410.3" r="1.3"/><circle cx="240.2" cy="424.8" r="1.3"/><circle cx="243.9" cy="419.2" r="1.3"/><circle cx="247.9" cy="418.6" r="1.3"/><circle cx="238.9" cy="422.8" r="1.3"/><circle cx="244.0" cy="417.3" r="1.3"/><circle cx="244.2" cy="423.0" r="1.3"/><circle cx="246.3" cy="428.6" r="1.3"/><circle cx="244.1" cy="421.2" r="1.3"/><circle cx="238.3" cy="420.5" r="1.3"/><circle cx="240.0" cy="425.2" r="1.3"/><circle cx="246.4" cy="426.3" r="1.3"/><circle cx="242.6" cy="422.9" r="1.3"/><circle cx="246.3" cy="404.2" r="1.3"/><circle cx="249.9" cy="413.7" r="1.3"/><circle cx="242.9" cy="423.8" r="1.3"/><circle cx="251.6" cy="423.0" r="1.3"/><circle cx="244.1" cy="417.7" r="1.3"/><circle cx="247.6" cy="414.9" r="1.3"/><circle cx="245.8" cy="424.1" r="1.3"/><circle cx="251.1" cy="422.0" r="1.3"/><circle cx="244.8" cy="422.9" r="1.3"/><circle cx="245.4" cy="415.8" r="1.3"/><circle cx="240.6" cy="420.4" r="1.3"/><circle cx="244.0" cy="427.9" r="1.3"/><circle cx="239.9" cy="421.5" r="1.3"/><circle cx="245.0" cy="427.2" r="1.3"/><circle cx="244.4" cy="422.8" r="1.3"/><circle cx="241.7" cy="420.7" r="1.3"/><circle cx="246.1" cy="411.1" r="1.3"/><circle cx="244.8" cy="406.4" r="1.3"/><circle cx="244.4" cy="427.1" r="1.3"/><circle cx="241.4" cy="421.5" r="1.3"/><circle cx="244.9" cy="420.1" r="1.3"/><circle cx="251.5" cy="422.9" r="1.3"/><circle cx="245.4" cy="421.5" r="1.3"/><circle cx="257.2" cy="415.8" r="1.3"/><circle cx="247.4" cy="414.1" r="1.3"/><circle cx="241.9" cy="414.5" r="1.3"/><circle cx="249.8" cy="416.6" r="1.3"/><circle cx="239.1" cy="417.5" r="1.3"/><circle cx="240.7" cy="413.9" r="1.3"/><circle cx="253.1" cy="420.5" r="1.3"/><circle cx="236.7" cy="427.4" r="1.3"/><circle cx="241.8" cy="427.6" r="1.3"/><circle cx="235.8" cy="416.5" r="1.3"/><circle cx="245.6" cy="423.3" r="1.3"/><circle cx="243.8" cy="429.2" r="1.3"/><circle cx="244.4" cy="428.5" r="1.3"/><circle cx="249.0" cy="418.4" r="1.3"/><circle cx="241.9" cy="428.9" r="1.3"/><circle cx="237.6" cy="422.5" r="1.3"/><circle cx="244.1" cy="429.9" r="1.3"/><circle cx="235.6" cy="418.3" r="1.3"/><circle cx="246.0" cy="417.1" r="1.3"/><circle cx="244.6" cy="413.4" r="1.3"/><circle cx="235.7" cy="420.8" r="1.3"/><circle cx="235.4" cy="420.6" r="1.3"/><circle cx="243.5" cy="420.4" r="1.3"/><circle cx="240.8" cy="412.4" r="1.3"/><circle cx="249.7" cy="417.4" r="1.3"/><circle cx="241.0" cy="419.2" r="1.3"/><circle cx="243.1" cy="433.6" r="1.3"/><circle cx="245.7" cy="426.2" r="1.3"/><circle cx="242.9" cy="419.7" r="1.3"/><circle cx="240.3" cy="422.5" r="1.3"/><circle cx="247.7" cy="428.3" r="1.3"/><circle cx="242.0" cy="416.5" r="1.3"/><circle cx="237.3" cy="415.3" r="1.3"/><circle cx="243.0" cy="425.4" r="1.3"/><circle cx="247.3" cy="420.4" r="1.3"/><circle cx="237.7" cy="419.4" r="1.3"/><circle cx="249.3" cy="410.7" r="1.3"/><circle cx="247.0" cy="413.3" r="1.3"/><circle cx="241.5" cy="419.6" r="1.3"/><circle cx="239.6" cy="416.5" r="1.3"/><circle cx="245.7" cy="415.6" r="1.3"/><circle cx="245.8" cy="426.2" r="1.3"/><circle cx="248.6" cy="416.3" r="1.3"/><circle cx="243.2" cy="419.0" r="1.3"/><circle cx="242.6" cy="425.6" r="1.3"/><circle cx="240.8" cy="420.3" r="1.3"/><circle cx="248.5" cy="420.9" r="1.3"/><circle cx="247.3" cy="422.4" r="1.3"/><circle cx="236.4" cy="418.3" r="1.3"/><circle cx="245.2" cy="419.1" r="1.3"/><circle cx="254.2" cy="422.6" r="1.3"/><circle cx="236.3" cy="417.6" r="1.3"/><circle cx="241.4" cy="423.6" r="1.3"/><circle cx="249.3" cy="418.7" r="1.3"/><circle cx="240.2" cy="415.5" r="1.3"/><circle cx="243.5" cy="418.3" r="1.3"/><circle cx="244.9" cy="417.5" r="1.3"/><circle cx="239.0" cy="414.5" r="1.3"/><circle cx="249.9" cy="416.1" r="1.3"/><circle cx="244.2" cy="431.8" r="1.3"/><circle cx="236.9" cy="424.5" r="1.3"/><circle cx="253.3" cy="407.9" r="1.3"/><circle cx="246.6" cy="426.4" r="1.3"/><circle cx="247.0" cy="415.9" r="1.3"/><circle cx="247.2" cy="412.8" r="1.3"/><circle cx="245.6" cy="425.3" r="1.3"/><circle cx="247.0" cy="431.4" r="1.3"/><circle cx="239.0" cy="422.7" r="1.3"/><circle cx="246.3" cy="403.7" r="1.3"/><circle cx="246.1" cy="429.5" r="1.3"/><circle cx="241.1" cy="431.3" r="1.3"/><circle cx="246.8" cy="411.3" r="1.3"/><circle cx="241.7" cy="418.7" r="1.3"/><circle cx="245.8" cy="419.4" r="1.3"/><circle cx="234.6" cy="410.0" r="1.3"/><circle cx="240.5" cy="427.2" r="1.3"/><circle cx="242.8" cy="412.5" r="1.3"/><circle cx="239.2" cy="425.4" r="1.3"/><circle cx="252.0" cy="417.9" r="1.3"/><circle cx="244.3" cy="429.9" r="1.3"/><circle cx="249.9" cy="416.4" r="1.3"/><circle cx="247.7" cy="419.4" r="1.3"/><circle cx="242.3" cy="423.9" r="1.3"/><circle cx="246.5" cy="432.7" r="1.3"/><circle cx="246.2" cy="418.2" r="1.3"/><circle cx="244.7" cy="417.2" r="1.3"/><circle cx="243.2" cy="420.2" r="1.3"/><circle cx="237.5" cy="413.9" r="1.3"/><circle cx="236.3" cy="418.1" r="1.3"/><circle cx="246.2" cy="426.7" r="1.3"/><circle cx="246.5" cy="416.1" r="1.3"/><circle cx="246.0" cy="413.3" r="1.3"/><circle cx="249.7" cy="413.5" r="1.3"/><circle cx="236.7" cy="429.6" r="1.3"/><circle cx="247.7" cy="416.4" r="1.3"/><circle cx="244.5" cy="414.9" r="1.3"/><circle cx="240.3" cy="417.2" r="1.3"/><circle cx="238.8" cy="420.6" r="1.3"/><circle cx="250.9" cy="418.3" r="1.3"/><circle cx="240.4" cy="414.8" r="1.3"/><circle cx="240.1" cy="420.6" r="1.3"/><circle cx="241.9" cy="414.9" r="1.3"/><circle cx="238.0" cy="425.4" r="1.3"/><circle cx="246.4" cy="428.8" r="1.3"/><circle cx="246.4" cy="416.1" r="1.3"/><circle cx="241.4" cy="416.4" r="1.3"/><circle cx="247.8" cy="427.0" r="1.3"/><circle cx="241.3" cy="433.6" r="1.3"/><circle cx="244.2" cy="416.2" r="1.3"/><circle cx="241.2" cy="421.7" r="1.3"/><circle cx="242.0" cy="428.5" r="1.3"/><circle cx="249.0" cy="418.5" r="1.3"/><circle cx="247.7" cy="421.4" r="1.3"/><circle cx="249.0" cy="430.4" r="1.3"/><circle cx="239.3" cy="423.1" r="1.3"/><circle cx="235.9" cy="421.2" r="1.3"/><circle cx="243.0" cy="423.8" r="1.3"/><circle cx="239.0" cy="414.0" r="1.3"/><circle cx="241.1" cy="418.7" r="1.3"/><circle cx="248.7" cy="417.7" r="1.3"/><circle cx="234.2" cy="414.2" r="1.3"/><circle cx="245.7" cy="427.4" r="1.3"/><circle cx="235.6" cy="422.3" r="1.3"/><circle cx="242.6" cy="425.4" r="1.3"/><circle cx="241.9" cy="428.5" r="1.3"/><circle cx="251.6" cy="416.5" r="1.3"/><circle cx="237.0" cy="413.6" r="1.3"/><circle cx="246.3" cy="421.1" r="1.3"/><circle cx="248.7" cy="409.1" r="1.3"/><circle cx="238.5" cy="422.5" r="1.3"/><circle cx="243.4" cy="421.8" r="1.3"/><circle cx="247.5" cy="426.5" r="1.3"/><circle cx="243.0" cy="408.1" r="1.3"/><circle cx="243.1" cy="418.3" r="1.3"/><circle cx="254.7" cy="419.6" r="1.3"/><circle cx="251.5" cy="411.1" r="1.3"/><circle cx="250.2" cy="415.1" r="1.3"/><circle cx="244.1" cy="419.8" r="1.3"/><circle cx="244.0" cy="421.1" r="1.3"/><circle cx="236.3" cy="422.1" r="1.3"/><circle cx="238.9" cy="419.0" r="1.3"/><circle cx="239.1" cy="419.1" r="1.3"/><circle cx="243.3" cy="419.6" r="1.3"/><circle cx="236.8" cy="426.2" r="1.3"/><circle cx="242.4" cy="420.9" r="1.3"/><circle cx="235.7" cy="416.7" r="1.3"/><circle cx="234.8" cy="416.0" r="1.3"/><circle cx="239.5" cy="411.2" r="1.3"/><circle cx="248.7" cy="419.6" r="1.3"/><circle cx="249.1" cy="415.5" r="1.3"/><circle cx="242.9" cy="420.4" r="1.3"/><circle cx="242.1" cy="419.7" r="1.3"/><circle cx="240.1" cy="419.0" r="1.3"/><circle cx="241.9" cy="418.1" r="1.3"/><circle cx="236.2" cy="428.0" r="1.3"/><circle cx="241.6" cy="418.7" r="1.3"/><circle cx="244.6" cy="421.3" r="1.3"/><circle cx="234.8" cy="423.1" r="1.3"/><circle cx="238.4" cy="414.6" r="1.3"/><circle cx="245.9" cy="420.2" r="1.3"/><circle cx="239.7" cy="419.3" r="1.3"/><circle cx="240.2" cy="415.6" r="1.3"/><circle cx="239.8" cy="411.3" r="1.3"/><circle cx="238.1" cy="419.0" r="1.3"/><circle cx="241.0" cy="418.7" r="1.3"/><circle cx="249.0" cy="419.7" r="1.3"/><circle cx="258.5" cy="407.4" r="1.3"/><circle cx="244.3" cy="413.7" r="1.3"/><circle cx="243.2" cy="420.2" r="1.3"/><circle cx="237.6" cy="415.2" r="1.3"/><circle cx="247.2" cy="409.1" r="1.3"/></g>
<line x1="67.10" y1="474.08" x2="69.30" y2="474.08" stroke="#000" stroke-width="1" />
<g transform="translate(66.1 477.7) rotate(-90)"><text x="0" y="0" font-size="5.8" font-weight="bold" fill="#111">10</text><text x="6.3" y="-2.6" font-size="3.6" font-weight="bold" fill="#111">4</text></g>
<line x1="67.10" y1="502.01" x2="69.30" y2="502.01" stroke="#000" stroke-width="1" />
<g transform="translate(66.1 505.6) rotate(-90)"><text x="0" y="0" font-size="5.8" font-weight="bold" fill="#111">10</text><text x="6.3" y="-2.6" font-size="3.6" font-weight="bold" fill="#111">3</text></g>
<line x1="67.10" y1="529.94" x2="69.30" y2="529.94" stroke="#000" stroke-width="1" />
<g transform="translate(66.1 533.5) rotate(-90)"><text x="0" y="0" font-size="5.8" font-weight="bold" fill="#111">10</text><text x="6.3" y="-2.6" font-size="3.6" font-weight="bold" fill="#111">2</text></g>
<line x1="67.10" y1="557.43" x2="69.30" y2="557.43" stroke="#000" stroke-width="1" />
<g transform="translate(66.1 561.0) rotate(-90)"><text x="0" y="0" font-size="5.8" font-weight="bold" fill="#111">10</text><text x="6.3" y="-2.6" font-size="3.6" font-weight="bold" fill="#111">1</text></g>
<g transform="translate(66.1 567.5) rotate(-90)"><text x="0" y="0" font-size="5.8" font-weight="bold" fill="#111">0</text></g>
<line x1="67.50" y1="493.57" x2="69.30" y2="493.57" stroke="#000" stroke-width="0.9" />
<line x1="67.50" y1="488.66" x2="69.30" y2="488.66" stroke="#000" stroke-width="0.9" />
<line x1="67.50" y1="485.17" x2="69.30" y2="485.17" stroke="#000" stroke-width="0.9" />
<line x1="67.50" y1="482.47" x2="69.30" y2="482.47" stroke="#000" stroke-width="0.9" />
<line x1="67.50" y1="480.27" x2="69.30" y2="480.27" stroke="#000" stroke-width="0.9" />
<line x1="67.50" y1="478.40" x2="69.30" y2="478.40" stroke="#000" stroke-width="0.9" />
<line x1="67.50" y1="476.78" x2="69.30" y2="476.78" stroke="#000" stroke-width="0.9" />
<line x1="67.50" y1="475.36" x2="69.30" y2="475.36" stroke="#000" stroke-width="0.9" />
<line x1="67.50" y1="521.44" x2="69.30" y2="521.44" stroke="#000" stroke-width="0.9" />
<line x1="67.50" y1="516.53" x2="69.30" y2="516.53" stroke="#000" stroke-width="0.9" />
<line x1="67.50" y1="513.05" x2="69.30" y2="513.05" stroke="#000" stroke-width="0.9" />
<line x1="67.50" y1="510.35" x2="69.30" y2="510.35" stroke="#000" stroke-width="0.9" />
<line x1="67.50" y1="508.14" x2="69.30" y2="508.14" stroke="#000" stroke-width="0.9" />
<line x1="67.50" y1="506.28" x2="69.30" y2="506.28" stroke="#000" stroke-width="0.9" />
<line x1="67.50" y1="504.66" x2="69.30" y2="504.66" stroke="#000" stroke-width="0.9" />
<line x1="67.50" y1="503.23" x2="69.30" y2="503.23" stroke="#000" stroke-width="0.9" />
<line x1="67.50" y1="549.32" x2="69.30" y2="549.32" stroke="#000" stroke-width="0.9" />
<line x1="67.50" y1="544.41" x2="69.30" y2="544.41" stroke="#000" stroke-width="0.9" />
<line x1="67.50" y1="540.93" x2="69.30" y2="540.93" stroke="#000" stroke-width="0.9" />
<line x1="67.50" y1="538.23" x2="69.30" y2="538.23" stroke="#000" stroke-width="0.9" />
<line x1="67.50" y1="536.02" x2="69.30" y2="536.02" stroke="#000" stroke-width="0.9" />
<line x1="67.50" y1="534.15" x2="69.30" y2="534.15" stroke="#000" stroke-width="0.9" />
<line x1="67.50" y1="532.54" x2="69.30" y2="532.54" stroke="#000" stroke-width="0.9" />
<line x1="67.50" y1="531.11" x2="69.30" y2="531.11" stroke="#000" stroke-width="0.9" />
<line x1="67.50" y1="572.29" x2="69.30" y2="572.29" stroke="#000" stroke-width="0.9" />
<line x1="67.50" y1="568.80" x2="69.30" y2="568.80" stroke="#000" stroke-width="0.9" />
<line x1="67.50" y1="566.10" x2="69.30" y2="566.10" stroke="#000" stroke-width="0.9" />
<line x1="67.50" y1="563.89" x2="69.30" y2="563.89" stroke="#000" stroke-width="0.9" />
<line x1="67.50" y1="562.03" x2="69.30" y2="562.03" stroke="#000" stroke-width="0.9" />
<line x1="67.50" y1="560.41" x2="69.30" y2="560.41" stroke="#000" stroke-width="0.9" />
<line x1="67.50" y1="558.99" x2="69.30" y2="558.99" stroke="#000" stroke-width="0.9" />
<line x1="82.87" y1="573.00" x2="82.87" y2="575.20" stroke="#000" stroke-width="1" />
<text x="79.9" y="580.4" font-size="5" font-weight="bold" fill="#333">10</text>
<text x="85.5" y="577.6" font-size="3" font-weight="bold" fill="#333">1</text>
<line x1="114.54" y1="573.00" x2="114.54" y2="575.20" stroke="#000" stroke-width="1" />
<text x="111.5" y="580.4" font-size="5" font-weight="bold" fill="#333">10</text>
<text x="117.1" y="577.6" font-size="3" font-weight="bold" fill="#333">2</text>
<line x1="143.38" y1="573.00" x2="143.38" y2="575.20" stroke="#000" stroke-width="1" />
<text x="140.4" y="580.4" font-size="5" font-weight="bold" fill="#333">10</text>
<text x="146.0" y="577.6" font-size="3" font-weight="bold" fill="#333">3</text>
<line x1="171.66" y1="573.00" x2="171.66" y2="575.20" stroke="#000" stroke-width="1" />
<text x="168.7" y="580.4" font-size="5" font-weight="bold" fill="#333">10</text>
<text x="174.3" y="577.6" font-size="3" font-weight="bold" fill="#333">4</text>
<text x="73.8" y="580.4" font-size="5" font-weight="bold" fill="#333">0</text>
<line x1="91.79" y1="573.00" x2="91.79" y2="574.80" stroke="#000" stroke-width="0.9" />
<line x1="97.01" y1="573.00" x2="97.01" y2="574.80" stroke="#000" stroke-width="0.9" />
<line x1="100.71" y1="573.00" x2="100.71" y2="574.80" stroke="#000" stroke-width="0.9" />
<line x1="103.58" y1="573.00" x2="103.58" y2="574.80" stroke="#000" stroke-width="0.9" />
<line x1="105.93" y1="573.00" x2="105.93" y2="574.80" stroke="#000" stroke-width="0.9" />
<line x1="107.91" y1="573.00" x2="107.91" y2="574.80" stroke="#000" stroke-width="0.9" />
<line x1="109.63" y1="573.00" x2="109.63" y2="574.80" stroke="#000" stroke-width="0.9" />
<line x1="111.15" y1="573.00" x2="111.15" y2="574.80" stroke="#000" stroke-width="0.9" />
<line x1="121.42" y1="573.00" x2="121.42" y2="574.80" stroke="#000" stroke-width="0.9" />
<line x1="126.64" y1="573.00" x2="126.64" y2="574.80" stroke="#000" stroke-width="0.9" />
<line x1="130.34" y1="573.00" x2="130.34" y2="574.80" stroke="#000" stroke-width="0.9" />
<line x1="133.22" y1="573.00" x2="133.22" y2="574.80" stroke="#000" stroke-width="0.9" />
<line x1="135.56" y1="573.00" x2="135.56" y2="574.80" stroke="#000" stroke-width="0.9" />
<line x1="137.55" y1="573.00" x2="137.55" y2="574.80" stroke="#000" stroke-width="0.9" />
<line x1="139.26" y1="573.00" x2="139.26" y2="574.80" stroke="#000" stroke-width="0.9" />
<line x1="140.78" y1="573.00" x2="140.78" y2="574.80" stroke="#000" stroke-width="0.9" />
<line x1="151.06" y1="573.00" x2="151.06" y2="574.80" stroke="#000" stroke-width="0.9" />
<line x1="156.27" y1="573.00" x2="156.27" y2="574.80" stroke="#000" stroke-width="0.9" />
<line x1="159.98" y1="573.00" x2="159.98" y2="574.80" stroke="#000" stroke-width="0.9" />
<line x1="162.85" y1="573.00" x2="162.85" y2="574.80" stroke="#000" stroke-width="0.9" />
<line x1="165.19" y1="573.00" x2="165.19" y2="574.80" stroke="#000" stroke-width="0.9" />
<line x1="167.18" y1="573.00" x2="167.18" y2="574.80" stroke="#000" stroke-width="0.9" />
<line x1="168.90" y1="573.00" x2="168.90" y2="574.80" stroke="#000" stroke-width="0.9" />
<line x1="170.41" y1="573.00" x2="170.41" y2="574.80" stroke="#000" stroke-width="0.9" />
<line x1="69.30" y1="462.60" x2="69.30" y2="573.80" stroke="#000" stroke-width="1.6" />
<line x1="68.50" y1="573.00" x2="182.40" y2="573.00" stroke="#000" stroke-width="1.6" />
<line x1="69.30" y1="462.60" x2="182.40" y2="462.60" stroke="#222" stroke-width="1.2" />
<line x1="182.40" y1="462.60" x2="182.40" y2="573.00" stroke="#666" stroke-width="1" />
<circle cx="137.5" cy="530.1" r="0.55" fill="#666"/>
<circle cx="120.2" cy="529.6" r="0.55" fill="#666"/>
<circle cx="128.8" cy="513.5" r="0.55" fill="#666"/>
<circle cx="115.9" cy="525.2" r="0.55" fill="#666"/>
<circle cx="117.8" cy="517.3" r="0.55" fill="#666"/>
<circle cx="119.1" cy="528.3" r="0.55" fill="#666"/>
<circle cx="118.8" cy="510.8" r="0.55" fill="#666"/>
<circle cx="130.9" cy="521.7" r="0.55" fill="#666"/>
<circle cx="121.7" cy="526.1" r="0.55" fill="#666"/>
<circle cx="125.3" cy="521.1" r="0.55" fill="#666"/>
<circle cx="124.3" cy="525.0" r="0.55" fill="#666"/>
<circle cx="115.1" cy="519.2" r="0.55" fill="#666"/>
<circle cx="132.3" cy="518.0" r="0.55" fill="#666"/>
<circle cx="124.1" cy="524.8" r="0.55" fill="#666"/>
<circle cx="125.3" cy="528.7" r="0.55" fill="#666"/>
<circle cx="122.6" cy="527.8" r="0.55" fill="#666"/>
<circle cx="132.1" cy="510.1" r="0.55" fill="#666"/>
<circle cx="117.6" cy="493.6" r="0.55" fill="#666"/>
<circle cx="124.8" cy="524.1" r="0.55" fill="#666"/>
<circle cx="127.3" cy="508.9" r="0.55" fill="#666"/>
<circle cx="123.2" cy="511.2" r="0.55" fill="#666"/>
<circle cx="117.1" cy="520.4" r="0.55" fill="#666"/>
<circle cx="125.7" cy="490.2" r="0.55" fill="#666"/>
<circle cx="113.1" cy="524.1" r="0.55" fill="#666"/>
<circle cx="123.9" cy="497.2" r="0.55" fill="#666"/>
<circle cx="129.2" cy="517.8" r="0.55" fill="#666"/>
<circle cx="120.2" cy="491.1" r="0.55" fill="#666"/>
<circle cx="122.9" cy="527.0" r="0.55" fill="#666"/>
<circle cx="117.4" cy="524.8" r="0.55" fill="#666"/>
<circle cx="122.9" cy="493.4" r="0.55" fill="#666"/>
<circle cx="120.7" cy="526.1" r="0.55" fill="#666"/>
<circle cx="121.4" cy="511.7" r="0.55" fill="#666"/>
<circle cx="117.0" cy="514.4" r="0.55" fill="#666"/>
<circle cx="123.8" cy="517.0" r="0.55" fill="#666"/>
<circle cx="122.5" cy="519.7" r="0.55" fill="#666"/>
<circle cx="122.4" cy="503.9" r="0.55" fill="#666"/>
<circle cx="122.4" cy="510.6" r="0.55" fill="#666"/>
<circle cx="127.1" cy="509.5" r="0.55" fill="#666"/>
<circle cx="121.9" cy="530.0" r="0.55" fill="#666"/>
<circle cx="121.4" cy="526.9" r="0.55" fill="#666"/>
<circle cx="120.2" cy="498.1" r="0.55" fill="#666"/>
<circle cx="129.5" cy="500.7" r="0.55" fill="#666"/>
<circle cx="128.3" cy="526.6" r="0.55" fill="#666"/>
<circle cx="126.9" cy="522.3" r="0.55" fill="#666"/>
<circle cx="135.5" cy="511.1" r="0.55" fill="#666"/>
<circle cx="129.4" cy="528.0" r="0.55" fill="#666"/>
<circle cx="125.1" cy="513.4" r="0.55" fill="#666"/>
<circle cx="136.5" cy="530.6" r="0.55" fill="#666"/>
<circle cx="131.1" cy="510.4" r="0.55" fill="#666"/>
<circle cx="128.4" cy="504.5" r="0.55" fill="#666"/>
<circle cx="124.6" cy="528.3" r="0.55" fill="#666"/>
<circle cx="127.6" cy="523.3" r="0.55" fill="#666"/>
<circle cx="132.1" cy="530.3" r="0.55" fill="#666"/>
<circle cx="127.3" cy="530.4" r="0.55" fill="#666"/>
<circle cx="123.8" cy="524.3" r="0.55" fill="#666"/>
<circle cx="116.9" cy="529.1" r="0.55" fill="#666"/>
<circle cx="117.7" cy="524.5" r="0.55" fill="#666"/>
<circle cx="130.2" cy="508.1" r="0.55" fill="#666"/>
<circle cx="125.2" cy="509.8" r="0.55" fill="#666"/>
<circle cx="131.9" cy="499.7" r="0.55" fill="#666"/>
<circle cx="118.4" cy="511.7" r="0.55" fill="#666"/>
<circle cx="119.9" cy="513.9" r="0.55" fill="#666"/>
<circle cx="124.7" cy="525.0" r="0.55" fill="#666"/>
<circle cx="129.0" cy="498.2" r="0.55" fill="#666"/>
<circle cx="127.8" cy="528.8" r="0.55" fill="#666"/>
<circle cx="119.0" cy="519.6" r="0.55" fill="#666"/>
<circle cx="121.1" cy="528.6" r="0.55" fill="#666"/>
<circle cx="128.3" cy="516.3" r="0.55" fill="#666"/>
<circle cx="122.9" cy="522.4" r="0.55" fill="#666"/>
<circle cx="131.3" cy="528.6" r="0.55" fill="#666"/>
<circle cx="124.8" cy="530.1" r="0.55" fill="#666"/>
<circle cx="127.3" cy="529.4" r="0.55" fill="#666"/>
<circle cx="124.7" cy="515.1" r="0.55" fill="#666"/>
<circle cx="124.7" cy="526.4" r="0.55" fill="#666"/>
<circle cx="130.2" cy="516.9" r="0.55" fill="#666"/>
<circle cx="116.6" cy="511.5" r="0.55" fill="#666"/>
<circle cx="116.7" cy="526.3" r="0.55" fill="#666"/>
<circle cx="117.7" cy="530.9" r="0.55" fill="#666"/>
<circle cx="127.3" cy="530.4" r="0.55" fill="#666"/>
<circle cx="121.6" cy="510.7" r="0.55" fill="#666"/>
<circle cx="125.5" cy="526.7" r="0.55" fill="#666"/>
<circle cx="127.0" cy="526.8" r="0.55" fill="#666"/>
<circle cx="126.1" cy="527.1" r="0.55" fill="#666"/>
<circle cx="117.6" cy="525.2" r="0.55" fill="#666"/>
<circle cx="123.2" cy="514.8" r="0.55" fill="#666"/>
<circle cx="136.2" cy="510.4" r="0.55" fill="#666"/>
<circle cx="117.7" cy="517.3" r="0.55" fill="#666"/>
<circle cx="126.8" cy="530.2" r="0.55" fill="#666"/>
<circle cx="117.9" cy="527.8" r="0.55" fill="#666"/>
<circle cx="127.5" cy="529.4" r="0.55" fill="#666"/>
<circle cx="125.8" cy="519.5" r="0.55" fill="#666"/>
<circle cx="118.8" cy="490.9" r="0.55" fill="#666"/>
<circle cx="120.9" cy="523.7" r="0.55" fill="#666"/>
<circle cx="132.7" cy="529.3" r="0.55" fill="#666"/>
<circle cx="125.0" cy="525.2" r="0.55" fill="#666"/>
<circle cx="128.7" cy="530.8" r="0.55" fill="#666"/>
<circle cx="116.7" cy="521.5" r="0.55" fill="#666"/>
<circle cx="118.4" cy="527.3" r="0.55" fill="#666"/>
<circle cx="127.5" cy="517.0" r="0.55" fill="#666"/>
<circle cx="128.2" cy="523.6" r="0.55" fill="#666"/>
<circle cx="132.6" cy="527.6" r="0.55" fill="#666"/>
<circle cx="128.5" cy="517.6" r="0.55" fill="#666"/>
<circle cx="119.0" cy="508.9" r="0.55" fill="#666"/>
<circle cx="128.1" cy="523.1" r="0.55" fill="#666"/>
<circle cx="126.1" cy="529.7" r="0.55" fill="#666"/>
<circle cx="126.0" cy="501.1" r="0.55" fill="#666"/>
<circle cx="114.7" cy="512.4" r="0.55" fill="#666"/>
<circle cx="112.7" cy="530.6" r="0.55" fill="#666"/>
<circle cx="118.6" cy="510.7" r="0.55" fill="#666"/>
<circle cx="115.6" cy="520.1" r="0.55" fill="#666"/>
<circle cx="120.0" cy="505.7" r="0.55" fill="#666"/>
<circle cx="129.0" cy="526.1" r="0.55" fill="#666"/>
<circle cx="122.9" cy="505.3" r="0.55" fill="#666"/>
<circle cx="134.0" cy="525.4" r="0.55" fill="#666"/>
<circle cx="119.5" cy="526.8" r="0.55" fill="#666"/>
<circle cx="119.5" cy="522.2" r="0.55" fill="#666"/>
<circle cx="124.3" cy="513.1" r="0.55" fill="#666"/>
<circle cx="130.7" cy="504.1" r="0.55" fill="#666"/>
<circle cx="120.2" cy="529.4" r="0.55" fill="#666"/>
<circle cx="111.5" cy="528.5" r="0.55" fill="#666"/>
<circle cx="139.9" cy="522.5" r="0.55" fill="#666"/>
<circle cx="126.2" cy="495.4" r="0.55" fill="#666"/>
<circle cx="122.2" cy="525.5" r="0.55" fill="#666"/>
<circle cx="121.6" cy="526.8" r="0.55" fill="#666"/>
<circle cx="119.8" cy="521.9" r="0.55" fill="#666"/>
<circle cx="116.3" cy="519.3" r="0.55" fill="#666"/>
<circle cx="128.7" cy="508.8" r="0.55" fill="#666"/>
<circle cx="129.7" cy="511.2" r="0.55" fill="#666"/>
<circle cx="128.0" cy="526.3" r="0.55" fill="#666"/>
<circle cx="129.1" cy="511.8" r="0.55" fill="#666"/>
<circle cx="120.1" cy="522.8" r="0.55" fill="#666"/>
<circle cx="134.1" cy="517.6" r="0.55" fill="#666"/>
<circle cx="123.7" cy="528.5" r="0.55" fill="#666"/>
<circle cx="122.7" cy="516.7" r="0.55" fill="#666"/>
<circle cx="124.5" cy="497.3" r="0.55" fill="#666"/>
<circle cx="126.9" cy="520.6" r="0.55" fill="#666"/>
<circle cx="130.3" cy="522.8" r="0.55" fill="#666"/>
<circle cx="120.7" cy="511.7" r="0.55" fill="#666"/>
<circle cx="110.8" cy="520.9" r="0.55" fill="#666"/>
<circle cx="129.0" cy="509.4" r="0.55" fill="#666"/>
<circle cx="122.8" cy="514.1" r="0.55" fill="#666"/>
<circle cx="124.8" cy="527.0" r="0.55" fill="#666"/>
<circle cx="112.7" cy="515.7" r="0.55" fill="#666"/>
<circle cx="128.9" cy="515.1" r="0.55" fill="#666"/>
<circle cx="130.4" cy="511.4" r="0.55" fill="#666"/>
<circle cx="124.5" cy="497.1" r="0.55" fill="#666"/>
<circle cx="117.8" cy="530.7" r="0.55" fill="#666"/>
<circle cx="123.0" cy="493.8" r="0.55" fill="#666"/>
<circle cx="116.2" cy="496.9" r="0.55" fill="#666"/>
<circle cx="132.6" cy="508.0" r="0.55" fill="#666"/>
<ellipse cx="121.00" cy="546.40" rx="12.20" ry="16.60" transform="rotate(25 121.00 546.40)" fill="none" stroke="#333" stroke-width="0.7" stroke-opacity="0.8"/>
<ellipse cx="120.36" cy="547.23" rx="10.74" ry="14.61" transform="rotate(25 120.36 547.23)" fill="none" stroke="#333" stroke-width="0.7" stroke-opacity="0.8"/>
<ellipse cx="119.72" cy="548.06" rx="9.27" ry="12.62" transform="rotate(25 119.72 548.06)" fill="none" stroke="#333" stroke-width="0.7" stroke-opacity="0.8"/>
<ellipse cx="119.08" cy="548.90" rx="7.81" ry="10.62" transform="rotate(25 119.08 548.90)" fill="none" stroke="#333" stroke-width="0.7" stroke-opacity="0.8"/>
<ellipse cx="118.44" cy="549.73" rx="6.34" ry="8.63" transform="rotate(25 118.44 549.73)" fill="none" stroke="#333" stroke-width="0.7" stroke-opacity="0.8"/>
<g fill="#000" fill-opacity="0.22"><circle cx="114.7" cy="558.8" r="1.3"/><circle cx="116.1" cy="542.1" r="1.3"/><circle cx="117.3" cy="555.1" r="1.3"/><circle cx="118.0" cy="554.8" r="1.3"/><circle cx="117.5" cy="549.0" r="1.3"/><circle cx="114.4" cy="550.2" r="1.3"/><circle cx="114.5" cy="556.2" r="1.3"/><circle cx="121.4" cy="546.7" r="1.3"/><circle cx="120.2" cy="552.8" r="1.3"/><circle cx="119.9" cy="560.7" r="1.3"/><circle cx="121.9" cy="544.2" r="1.3"/><circle cx="122.0" cy="545.3" r="1.3"/><circle cx="124.6" cy="550.7" r="1.3"/><circle cx="110.0" cy="550.5" r="1.3"/><circle cx="113.6" cy="548.5" r="1.3"/><circle cx="113.1" cy="554.7" r="1.3"/><circle cx="115.6" cy="553.6" r="1.3"/><circle cx="122.2" cy="544.6" r="1.3"/><circle cx="123.4" cy="552.6" r="1.3"/><circle cx="111.4" cy="547.2" r="1.3"/><circle cx="119.6" cy="558.1" r="1.3"/><circle cx="114.3" cy="552.0" r="1.3"/><circle cx="116.9" cy="557.6" r="1.3"/><circle cx="115.5" cy="556.9" r="1.3"/><circle cx="114.6" cy="547.8" r="1.3"/><circle cx="119.1" cy="556.6" r="1.3"/><circle cx="116.3" cy="555.2" r="1.3"/><circle cx="117.2" cy="556.3" r="1.3"/><circle cx="121.4" cy="556.1" r="1.3"/><circle cx="121.2" cy="551.3" r="1.3"/><circle cx="118.1" cy="540.1" r="1.3"/><circle cx="119.0" cy="552.9" r="1.3"/><circle cx="122.0" cy="543.7" r="1.3"/><circle cx="116.0" cy="549.0" r="1.3"/><circle cx="124.1" cy="547.4" r="1.3"/><circle cx="116.9" cy="561.3" r="1.3"/><circle cx="111.0" cy="555.8" r="1.3"/><circle cx="113.1" cy="545.5" r="1.3"/><circle cx="116.6" cy="558.5" r="1.3"/><circle cx="113.1" cy="547.2" r="1.3"/><circle cx="111.2" cy="556.5" r="1.3"/><circle cx="114.2" cy="554.5" r="1.3"/><circle cx="118.5" cy="558.7" r="1.3"/><circle cx="118.6" cy="554.4" r="1.3"/><circle cx="121.5" cy="555.9" r="1.3"/><circle cx="112.8" cy="548.2" r="1.3"/><circle cx="120.9" cy="554.0" r="1.3"/><circle cx="115.5" cy="553.1" r="1.3"/><circle cx="118.7" cy="555.1" r="1.3"/><circle cx="114.6" cy="557.9" r="1.3"/><circle cx="120.4" cy="555.2" r="1.3"/><circle cx="120.6" cy="552.7" r="1.3"/><circle cx="112.6" cy="549.8" r="1.3"/><circle cx="116.3" cy="547.6" r="1.3"/><circle cx="121.4" cy="554.0" r="1.3"/><circle cx="123.7" cy="548.9" r="1.3"/><circle cx="114.7" cy="558.8" r="1.3"/><circle cx="119.6" cy="549.1" r="1.3"/><circle cx="114.4" cy="548.4" r="1.3"/><circle cx="116.1" cy="555.6" r="1.3"/><circle cx="116.9" cy="556.2" r="1.3"/><circle cx="120.7" cy="553.8" r="1.3"/><circle cx="121.7" cy="557.4" r="1.3"/><circle cx="116.8" cy="551.3" r="1.3"/><circle cx="118.2" cy="548.6" r="1.3"/><circle cx="111.7" cy="551.0" r="1.3"/><circle cx="114.4" cy="554.6" r="1.3"/><circle cx="114.7" cy="552.1" r="1.3"/><circle cx="118.8" cy="550.2" r="1.3"/><circle cx="119.1" cy="548.9" r="1.3"/><circle cx="114.5" cy="555.8" r="1.3"/><circle cx="118.9" cy="552.7" r="1.3"/><circle cx="113.1" cy="554.8" r="1.3"/><circle cx="128.5" cy="543.7" r="1.3"/><circle cx="121.4" cy="554.5" r="1.3"/><circle cx="120.3" cy="559.3" r="1.3"/><circle cx="115.2" cy="550.4" r="1.3"/><circle cx="120.0" cy="552.5" r="1.3"/><circle cx="119.1" cy="550.0" r="1.3"/><circle cx="113.0" cy="551.2" r="1.3"/><circle cx="111.0" cy="557.7" r="1.3"/><circle cx="116.5" cy="559.5" r="1.3"/><circle cx="114.9" cy="540.5" r="1.3"/><circle cx="111.5" cy="552.6" r="1.3"/><circle cx="113.1" cy="543.7" r="1.3"/><circle cx="119.0" cy="550.6" r="1.3"/><circle cx="119.0" cy="557.0" r="1.3"/><circle cx="120.4" cy="546.6" r="1.3"/><circle cx="116.0" cy="553.4" r="1.3"/><circle cx="117.9" cy="552.2" r="1.3"/><circle cx="117.3" cy="549.2" r="1.3"/><circle cx="117.8" cy="541.7" r="1.3"/><circle cx="124.4" cy="553.6" r="1.3"/><circle cx="111.1" cy="553.3" r="1.3"/><circle cx="122.0" cy="545.8" r="1.3"/><circle cx="113.2" cy="559.1" r="1.3"/><circle cx="119.0" cy="555.0" r="1.3"/><circle cx="121.6" cy="552.7" r="1.3"/><circle cx="114.0" cy="559.8" r="1.3"/><circle cx="116.6" cy="551.6" r="1.3"/><circle cx="119.9" cy="553.1" r="1.3"/><circle cx="120.6" cy="548.3" r="1.3"/><circle cx="124.0" cy="553.1" r="1.3"/><circle cx="113.8" cy="551.1" r="1.3"/><circle cx="114.6" cy="550.2" r="1.3"/><circle cx="112.7" cy="554.6" r="1.3"/><circle cx="117.4" cy="558.0" r="1.3"/><circle cx="123.8" cy="555.5" r="1.3"/><circle cx="117.3" cy="553.8" r="1.3"/><circle cx="114.6" cy="548.6" r="1.3"/><circle cx="121.6" cy="548.8" r="1.3"/><circle cx="109.7" cy="548.3" r="1.3"/><circle cx="116.4" cy="559.8" r="1.3"/><circle cx="115.6" cy="546.8" r="1.3"/><circle cx="117.9" cy="551.6" r="1.3"/><circle cx="119.0" cy="549.9" r="1.3"/><circle cx="118.9" cy="549.6" r="1.3"/><circle cx="121.0" cy="554.7" r="1.3"/><circle cx="120.2" cy="550.7" r="1.3"/><circle cx="111.3" cy="550.7" r="1.3"/><circle cx="115.6" cy="557.6" r="1.3"/><circle cx="121.3" cy="553.1" r="1.3"/><circle cx="118.4" cy="547.3" r="1.3"/><circle cx="116.8" cy="553.2" r="1.3"/><circle cx="117.0" cy="546.4" r="1.3"/><circle cx="123.8" cy="549.1" r="1.3"/><circle cx="122.6" cy="559.9" r="1.3"/><circle cx="124.8" cy="549.7" r="1.3"/><circle cx="121.7" cy="546.0" r="1.3"/><circle cx="117.8" cy="544.3" r="1.3"/><circle cx="114.9" cy="548.9" r="1.3"/><circle cx="119.8" cy="558.6" r="1.3"/><circle cx="116.1" cy="550.4" r="1.3"/><circle cx="114.9" cy="545.5" r="1.3"/><circle cx="110.2" cy="549.1" r="1.3"/><circle cx="120.7" cy="549.0" r="1.3"/><circle cx="120.3" cy="546.9" r="1.3"/><circle cx="113.8" cy="548.4" r="1.3"/><circle cx="121.6" cy="550.5" r="1.3"/><circle cx="120.9" cy="551.3" r="1.3"/><circle cx="115.3" cy="541.1" r="1.3"/><circle cx="116.6" cy="546.9" r="1.3"/><circle cx="120.4" cy="555.3" r="1.3"/><circle cx="109.4" cy="554.4" r="1.3"/><circle cx="123.2" cy="538.5" r="1.3"/><circle cx="112.6" cy="552.1" r="1.3"/><circle cx="111.6" cy="546.8" r="1.3"/><circle cx="119.0" cy="553.9" r="1.3"/><circle cx="118.3" cy="555.6" r="1.3"/><circle cx="115.4" cy="554.5" r="1.3"/><circle cx="118.8" cy="551.7" r="1.3"/><circle cx="118.2" cy="553.7" r="1.3"/><circle cx="120.1" cy="554.5" r="1.3"/><circle cx="116.8" cy="554.5" r="1.3"/><circle cx="123.1" cy="554.0" r="1.3"/><circle cx="119.5" cy="553.4" r="1.3"/><circle cx="110.4" cy="545.5" r="1.3"/><circle cx="115.3" cy="544.3" r="1.3"/><circle cx="117.0" cy="542.8" r="1.3"/><circle cx="119.0" cy="549.7" r="1.3"/><circle cx="121.7" cy="555.3" r="1.3"/><circle cx="112.3" cy="549.6" r="1.3"/><circle cx="118.3" cy="548.8" r="1.3"/><circle cx="117.1" cy="546.4" r="1.3"/><circle cx="113.9" cy="552.6" r="1.3"/><circle cx="114.3" cy="557.5" r="1.3"/><circle cx="109.6" cy="545.9" r="1.3"/><circle cx="113.8" cy="558.8" r="1.3"/><circle cx="120.8" cy="556.9" r="1.3"/><circle cx="119.1" cy="560.8" r="1.3"/><circle cx="120.2" cy="551.6" r="1.3"/><circle cx="118.9" cy="548.7" r="1.3"/><circle cx="115.8" cy="553.5" r="1.3"/><circle cx="115.0" cy="551.9" r="1.3"/><circle cx="117.1" cy="545.1" r="1.3"/><circle cx="110.4" cy="553.8" r="1.3"/><circle cx="116.2" cy="556.0" r="1.3"/><circle cx="116.8" cy="551.8" r="1.3"/><circle cx="118.7" cy="550.6" r="1.3"/><circle cx="121.5" cy="558.3" r="1.3"/><circle cx="120.1" cy="547.3" r="1.3"/><circle cx="114.7" cy="552.3" r="1.3"/><circle cx="121.9" cy="553.0" r="1.3"/><circle cx="116.4" cy="554.4" r="1.3"/><circle cx="117.8" cy="551.2" r="1.3"/><circle cx="111.0" cy="556.6" r="1.3"/><circle cx="117.6" cy="549.3" r="1.3"/><circle cx="118.4" cy="545.3" r="1.3"/><circle cx="112.6" cy="541.4" r="1.3"/><circle cx="120.3" cy="545.8" r="1.3"/><circle cx="119.1" cy="546.2" r="1.3"/><circle cx="110.7" cy="546.9" r="1.3"/><circle cx="115.0" cy="547.6" r="1.3"/><circle cx="123.8" cy="554.6" r="1.3"/><circle cx="113.5" cy="555.3" r="1.3"/><circle cx="114.2" cy="557.3" r="1.3"/><circle cx="113.6" cy="547.0" r="1.3"/><circle cx="119.3" cy="546.7" r="1.3"/><circle cx="110.9" cy="548.0" r="1.3"/><circle cx="118.0" cy="543.4" r="1.3"/><circle cx="122.1" cy="548.8" r="1.3"/><circle cx="114.8" cy="549.9" r="1.3"/><circle cx="115.9" cy="556.8" r="1.3"/><circle cx="120.3" cy="553.8" r="1.3"/><circle cx="118.2" cy="546.2" r="1.3"/><circle cx="119.0" cy="549.6" r="1.3"/><circle cx="118.9" cy="546.7" r="1.3"/><circle cx="115.9" cy="550.6" r="1.3"/><circle cx="109.7" cy="555.0" r="1.3"/><circle cx="118.2" cy="545.3" r="1.3"/><circle cx="115.8" cy="552.0" r="1.3"/><circle cx="117.0" cy="546.2" r="1.3"/><circle cx="117.9" cy="544.8" r="1.3"/><circle cx="114.0" cy="547.9" r="1.3"/><circle cx="122.1" cy="550.5" r="1.3"/><circle cx="115.6" cy="551.1" r="1.3"/><circle cx="120.5" cy="545.5" r="1.3"/><circle cx="116.5" cy="554.0" r="1.3"/><circle cx="121.2" cy="548.5" r="1.3"/><circle cx="123.9" cy="555.6" r="1.3"/><circle cx="116.9" cy="559.6" r="1.3"/><circle cx="119.5" cy="559.6" r="1.3"/><circle cx="117.1" cy="550.7" r="1.3"/><circle cx="114.3" cy="549.2" r="1.3"/><circle cx="116.6" cy="539.1" r="1.3"/><circle cx="115.9" cy="546.1" r="1.3"/><circle cx="115.2" cy="548.7" r="1.3"/><circle cx="114.9" cy="551.6" r="1.3"/><circle cx="117.2" cy="549.8" r="1.3"/><circle cx="114.6" cy="550.4" r="1.3"/><circle cx="115.9" cy="550.6" r="1.3"/><circle cx="122.3" cy="554.3" r="1.3"/><circle cx="118.0" cy="541.2" r="1.3"/><circle cx="119.1" cy="557.9" r="1.3"/><circle cx="116.0" cy="548.9" r="1.3"/><circle cx="118.2" cy="554.9" r="1.3"/><circle cx="110.3" cy="548.5" r="1.3"/><circle cx="117.4" cy="545.2" r="1.3"/><circle cx="121.8" cy="556.8" r="1.3"/><circle cx="114.6" cy="550.7" r="1.3"/><circle cx="115.4" cy="548.5" r="1.3"/><circle cx="114.1" cy="556.1" r="1.3"/><circle cx="117.6" cy="549.3" r="1.3"/><circle cx="113.9" cy="552.1" r="1.3"/><circle cx="115.5" cy="542.8" r="1.3"/><circle cx="114.4" cy="559.1" r="1.3"/><circle cx="114.0" cy="551.6" r="1.3"/><circle cx="114.6" cy="557.3" r="1.3"/><circle cx="120.6" cy="546.0" r="1.3"/><circle cx="124.1" cy="553.5" r="1.3"/><circle cx="113.9" cy="548.2" r="1.3"/><circle cx="115.9" cy="556.9" r="1.3"/><circle cx="116.8" cy="547.7" r="1.3"/><circle cx="120.3" cy="560.6" r="1.3"/><circle cx="115.4" cy="551.9" r="1.3"/><circle cx="118.9" cy="550.5" r="1.3"/><circle cx="111.9" cy="555.6" r="1.3"/><circle cx="114.9" cy="541.5" r="1.3"/><circle cx="117.9" cy="557.8" r="1.3"/><circle cx="121.3" cy="548.8" r="1.3"/><circle cx="117.4" cy="546.1" r="1.3"/><circle cx="118.0" cy="539.1" r="1.3"/><circle cx="111.7" cy="557.3" r="1.3"/><circle cx="120.2" cy="542.3" r="1.3"/><circle cx="122.1" cy="548.0" r="1.3"/><circle cx="119.5" cy="551.3" r="1.3"/><circle cx="115.8" cy="550.4" r="1.3"/><circle cx="112.6" cy="546.5" r="1.3"/><circle cx="113.1" cy="559.8" r="1.3"/><circle cx="114.2" cy="552.6" r="1.3"/><circle cx="117.3" cy="558.0" r="1.3"/><circle cx="115.8" cy="552.3" r="1.3"/><circle cx="110.6" cy="551.2" r="1.3"/><circle cx="115.4" cy="552.1" r="1.3"/><circle cx="115.5" cy="548.9" r="1.3"/><circle cx="119.8" cy="557.3" r="1.3"/><circle cx="116.9" cy="550.9" r="1.3"/><circle cx="117.9" cy="551.5" r="1.3"/><circle cx="117.8" cy="555.8" r="1.3"/><circle cx="121.0" cy="544.5" r="1.3"/><circle cx="118.2" cy="546.4" r="1.3"/><circle cx="119.2" cy="550.7" r="1.3"/><circle cx="118.4" cy="551.6" r="1.3"/><circle cx="119.1" cy="559.3" r="1.3"/><circle cx="119.7" cy="544.6" r="1.3"/><circle cx="114.3" cy="550.6" r="1.3"/><circle cx="119.4" cy="553.5" r="1.3"/><circle cx="123.0" cy="544.5" r="1.3"/><circle cx="116.7" cy="550.9" r="1.3"/><circle cx="117.6" cy="548.4" r="1.3"/><circle cx="128.3" cy="550.2" r="1.3"/><circle cx="122.2" cy="556.4" r="1.3"/><circle cx="116.5" cy="553.9" r="1.3"/><circle cx="121.1" cy="548.7" r="1.3"/><circle cx="114.0" cy="557.2" r="1.3"/><circle cx="120.4" cy="554.6" r="1.3"/><circle cx="114.3" cy="542.5" r="1.3"/><circle cx="121.3" cy="560.4" r="1.3"/><circle cx="118.6" cy="554.2" r="1.3"/><circle cx="115.1" cy="553.8" r="1.3"/><circle cx="121.0" cy="556.8" r="1.3"/><circle cx="114.4" cy="552.9" r="1.3"/><circle cx="115.0" cy="550.8" r="1.3"/><circle cx="115.7" cy="539.1" r="1.3"/><circle cx="112.6" cy="551.5" r="1.3"/><circle cx="113.1" cy="553.5" r="1.3"/><circle cx="114.4" cy="552.6" r="1.3"/><circle cx="113.3" cy="558.2" r="1.3"/><circle cx="115.4" cy="551.4" r="1.3"/><circle cx="119.8" cy="560.2" r="1.3"/><circle cx="114.0" cy="545.9" r="1.3"/><circle cx="112.4" cy="555.7" r="1.3"/><circle cx="112.0" cy="553.4" r="1.3"/><circle cx="119.0" cy="551.3" r="1.3"/><circle cx="124.7" cy="549.5" r="1.3"/><circle cx="118.7" cy="550.2" r="1.3"/><circle cx="117.2" cy="549.0" r="1.3"/><circle cx="120.4" cy="548.3" r="1.3"/><circle cx="112.0" cy="550.7" r="1.3"/><circle cx="116.8" cy="558.0" r="1.3"/><circle cx="120.9" cy="548.4" r="1.3"/><circle cx="112.9" cy="552.4" r="1.3"/><circle cx="117.2" cy="555.6" r="1.3"/><circle cx="125.4" cy="542.4" r="1.3"/><circle cx="113.9" cy="553.8" r="1.3"/><circle cx="116.0" cy="554.6" r="1.3"/><circle cx="115.8" cy="553.3" r="1.3"/><circle cx="118.0" cy="554.9" r="1.3"/><circle cx="114.0" cy="541.1" r="1.3"/><circle cx="115.7" cy="555.6" r="1.3"/><circle cx="116.3" cy="550.8" r="1.3"/><circle cx="120.6" cy="556.2" r="1.3"/><circle cx="113.1" cy="551.6" r="1.3"/><circle cx="116.2" cy="551.9" r="1.3"/><circle cx="116.0" cy="554.6" r="1.3"/><circle cx="116.6" cy="553.5" r="1.3"/><circle cx="117.5" cy="550.9" r="1.3"/><circle cx="114.5" cy="552.5" r="1.3"/><circle cx="116.9" cy="559.9" r="1.3"/><circle cx="128.0" cy="551.3" r="1.3"/><circle cx="113.1" cy="556.2" r="1.3"/><circle cx="115.3" cy="552.0" r="1.3"/><circle cx="111.2" cy="553.4" r="1.3"/><circle cx="109.9" cy="555.1" r="1.3"/><circle cx="113.4" cy="552.1" r="1.3"/><circle cx="122.2" cy="548.9" r="1.3"/><circle cx="111.3" cy="551.0" r="1.3"/><circle cx="117.9" cy="546.3" r="1.3"/><circle cx="110.7" cy="556.6" r="1.3"/><circle cx="121.4" cy="546.8" r="1.3"/><circle cx="121.6" cy="548.3" r="1.3"/><circle cx="113.4" cy="552.9" r="1.3"/><circle cx="116.0" cy="554.3" r="1.3"/><circle cx="122.3" cy="550.0" r="1.3"/><circle cx="119.0" cy="553.9" r="1.3"/><circle cx="109.4" cy="553.9" r="1.3"/><circle cx="123.0" cy="546.3" r="1.3"/><circle cx="114.5" cy="556.2" r="1.3"/><circle cx="121.2" cy="551.1" r="1.3"/><circle cx="116.6" cy="550.1" r="1.3"/><circle cx="112.0" cy="551.0" r="1.3"/><circle cx="127.5" cy="547.3" r="1.3"/><circle cx="118.2" cy="547.3" r="1.3"/><circle cx="125.3" cy="545.6" r="1.3"/><circle cx="120.2" cy="555.0" r="1.3"/><circle cx="114.1" cy="549.4" r="1.3"/><circle cx="115.2" cy="560.2" r="1.3"/><circle cx="116.7" cy="557.9" r="1.3"/><circle cx="121.3" cy="553.5" r="1.3"/><circle cx="117.4" cy="551.6" r="1.3"/><circle cx="122.1" cy="559.9" r="1.3"/><circle cx="121.9" cy="549.8" r="1.3"/><circle cx="115.0" cy="555.2" r="1.3"/><circle cx="118.1" cy="545.1" r="1.3"/><circle cx="110.5" cy="552.5" r="1.3"/><circle cx="119.5" cy="555.3" r="1.3"/><circle cx="125.4" cy="546.0" r="1.3"/><circle cx="109.7" cy="550.5" r="1.3"/><circle cx="121.7" cy="548.7" r="1.3"/><circle cx="117.7" cy="553.7" r="1.3"/></g>
<rect x="104.40" y="480.80" width="42.60" height="48.50" fill="none" stroke="#333" stroke-width="1.1" />
<rect x="112.80" y="471.50" width="21.30" height="10.00" fill="#fff" stroke="none" stroke-width="1" />
<text transform="translate(113.07 479.79) scale(0.9719 1)" font-size="10.845" font-weight="normal" fill="#333" >2.02</text>
<line x1="192.10" y1="474.05" x2="194.30" y2="474.05" stroke="#000" stroke-width="1" />
<g transform="translate(191.1 477.7) rotate(-90)"><text x="0" y="0" font-size="5.8" font-weight="bold" fill="#111">10</text><text x="6.3" y="-2.6" font-size="3.6" font-weight="bold" fill="#111">4</text></g>
<line x1="192.10" y1="501.91" x2="194.30" y2="501.91" stroke="#000" stroke-width="1" />
<g transform="translate(191.1 505.5) rotate(-90)"><text x="0" y="0" font-size="5.8" font-weight="bold" fill="#111">10</text><text x="6.3" y="-2.6" font-size="3.6" font-weight="bold" fill="#111">3</text></g>
<line x1="192.10" y1="529.76" x2="194.30" y2="529.76" stroke="#000" stroke-width="1" />
<g transform="translate(191.1 533.4) rotate(-90)"><text x="0" y="0" font-size="5.8" font-weight="bold" fill="#111">10</text><text x="6.3" y="-2.6" font-size="3.6" font-weight="bold" fill="#111">2</text></g>
<line x1="192.10" y1="557.18" x2="194.30" y2="557.18" stroke="#000" stroke-width="1" />
<g transform="translate(191.1 560.8) rotate(-90)"><text x="0" y="0" font-size="5.8" font-weight="bold" fill="#111">10</text><text x="6.3" y="-2.6" font-size="3.6" font-weight="bold" fill="#111">1</text></g>
<g transform="translate(191.1 567.3) rotate(-90)"><text x="0" y="0" font-size="5.8" font-weight="bold" fill="#111">0</text></g>
<line x1="192.50" y1="493.48" x2="194.30" y2="493.48" stroke="#000" stroke-width="0.9" />
<line x1="192.50" y1="488.59" x2="194.30" y2="488.59" stroke="#000" stroke-width="0.9" />
<line x1="192.50" y1="485.11" x2="194.30" y2="485.11" stroke="#000" stroke-width="0.9" />
<line x1="192.50" y1="482.42" x2="194.30" y2="482.42" stroke="#000" stroke-width="0.9" />
<line x1="192.50" y1="480.22" x2="194.30" y2="480.22" stroke="#000" stroke-width="0.9" />
<line x1="192.50" y1="478.36" x2="194.30" y2="478.36" stroke="#000" stroke-width="0.9" />
<line x1="192.50" y1="476.74" x2="194.30" y2="476.74" stroke="#000" stroke-width="0.9" />
<line x1="192.50" y1="475.32" x2="194.30" y2="475.32" stroke="#000" stroke-width="0.9" />
<line x1="192.50" y1="521.28" x2="194.30" y2="521.28" stroke="#000" stroke-width="0.9" />
<line x1="192.50" y1="516.39" x2="194.30" y2="516.39" stroke="#000" stroke-width="0.9" />
<line x1="192.50" y1="512.91" x2="194.30" y2="512.91" stroke="#000" stroke-width="0.9" />
<line x1="192.50" y1="510.22" x2="194.30" y2="510.22" stroke="#000" stroke-width="0.9" />
<line x1="192.50" y1="508.02" x2="194.30" y2="508.02" stroke="#000" stroke-width="0.9" />
<line x1="192.50" y1="506.16" x2="194.30" y2="506.16" stroke="#000" stroke-width="0.9" />
<line x1="192.50" y1="504.54" x2="194.30" y2="504.54" stroke="#000" stroke-width="0.9" />
<line x1="192.50" y1="503.12" x2="194.30" y2="503.12" stroke="#000" stroke-width="0.9" />
<line x1="192.50" y1="549.08" x2="194.30" y2="549.08" stroke="#000" stroke-width="0.9" />
<line x1="192.50" y1="544.19" x2="194.30" y2="544.19" stroke="#000" stroke-width="0.9" />
<line x1="192.50" y1="540.71" x2="194.30" y2="540.71" stroke="#000" stroke-width="0.9" />
<line x1="192.50" y1="538.02" x2="194.30" y2="538.02" stroke="#000" stroke-width="0.9" />
<line x1="192.50" y1="535.82" x2="194.30" y2="535.82" stroke="#000" stroke-width="0.9" />
<line x1="192.50" y1="533.96" x2="194.30" y2="533.96" stroke="#000" stroke-width="0.9" />
<line x1="192.50" y1="532.35" x2="194.30" y2="532.35" stroke="#000" stroke-width="0.9" />
<line x1="192.50" y1="530.92" x2="194.30" y2="530.92" stroke="#000" stroke-width="0.9" />
<line x1="192.50" y1="571.99" x2="194.30" y2="571.99" stroke="#000" stroke-width="0.9" />
<line x1="192.50" y1="568.51" x2="194.30" y2="568.51" stroke="#000" stroke-width="0.9" />
<line x1="192.50" y1="565.82" x2="194.30" y2="565.82" stroke="#000" stroke-width="0.9" />
<line x1="192.50" y1="563.62" x2="194.30" y2="563.62" stroke="#000" stroke-width="0.9" />
<line x1="192.50" y1="561.76" x2="194.30" y2="561.76" stroke="#000" stroke-width="0.9" />
<line x1="192.50" y1="560.15" x2="194.30" y2="560.15" stroke="#000" stroke-width="0.9" />
<line x1="192.50" y1="558.72" x2="194.30" y2="558.72" stroke="#000" stroke-width="0.9" />
<line x1="207.87" y1="572.70" x2="207.87" y2="574.90" stroke="#000" stroke-width="1" />
<text x="204.9" y="580.1" font-size="5" font-weight="bold" fill="#333">10</text>
<text x="210.5" y="577.3" font-size="3" font-weight="bold" fill="#333">1</text>
<line x1="239.54" y1="572.70" x2="239.54" y2="574.90" stroke="#000" stroke-width="1" />
<text x="236.5" y="580.1" font-size="5" font-weight="bold" fill="#333">10</text>
<text x="242.1" y="577.3" font-size="3" font-weight="bold" fill="#333">2</text>
<line x1="268.38" y1="572.70" x2="268.38" y2="574.90" stroke="#000" stroke-width="1" />
<text x="265.4" y="580.1" font-size="5" font-weight="bold" fill="#333">10</text>
<text x="271.0" y="577.3" font-size="3" font-weight="bold" fill="#333">3</text>
<line x1="296.66" y1="572.70" x2="296.66" y2="574.90" stroke="#000" stroke-width="1" />
<text x="293.7" y="580.1" font-size="5" font-weight="bold" fill="#333">10</text>
<text x="299.3" y="577.3" font-size="3" font-weight="bold" fill="#333">4</text>
<text x="198.8" y="580.1" font-size="5" font-weight="bold" fill="#333">0</text>
<line x1="216.79" y1="572.70" x2="216.79" y2="574.50" stroke="#000" stroke-width="0.9" />
<line x1="222.01" y1="572.70" x2="222.01" y2="574.50" stroke="#000" stroke-width="0.9" />
<line x1="225.71" y1="572.70" x2="225.71" y2="574.50" stroke="#000" stroke-width="0.9" />
<line x1="228.58" y1="572.70" x2="228.58" y2="574.50" stroke="#000" stroke-width="0.9" />
<line x1="230.93" y1="572.70" x2="230.93" y2="574.50" stroke="#000" stroke-width="0.9" />
<line x1="232.91" y1="572.70" x2="232.91" y2="574.50" stroke="#000" stroke-width="0.9" />
<line x1="234.63" y1="572.70" x2="234.63" y2="574.50" stroke="#000" stroke-width="0.9" />
<line x1="236.15" y1="572.70" x2="236.15" y2="574.50" stroke="#000" stroke-width="0.9" />
<line x1="246.42" y1="572.70" x2="246.42" y2="574.50" stroke="#000" stroke-width="0.9" />
<line x1="251.64" y1="572.70" x2="251.64" y2="574.50" stroke="#000" stroke-width="0.9" />
<line x1="255.34" y1="572.70" x2="255.34" y2="574.50" stroke="#000" stroke-width="0.9" />
<line x1="258.22" y1="572.70" x2="258.22" y2="574.50" stroke="#000" stroke-width="0.9" />
<line x1="260.56" y1="572.70" x2="260.56" y2="574.50" stroke="#000" stroke-width="0.9" />
<line x1="262.55" y1="572.70" x2="262.55" y2="574.50" stroke="#000" stroke-width="0.9" />
<line x1="264.26" y1="572.70" x2="264.26" y2="574.50" stroke="#000" stroke-width="0.9" />
<line x1="265.78" y1="572.70" x2="265.78" y2="574.50" stroke="#000" stroke-width="0.9" />
<line x1="276.06" y1="572.70" x2="276.06" y2="574.50" stroke="#000" stroke-width="0.9" />
<line x1="281.27" y1="572.70" x2="281.27" y2="574.50" stroke="#000" stroke-width="0.9" />
<line x1="284.98" y1="572.70" x2="284.98" y2="574.50" stroke="#000" stroke-width="0.9" />
<line x1="287.85" y1="572.70" x2="287.85" y2="574.50" stroke="#000" stroke-width="0.9" />
<line x1="290.19" y1="572.70" x2="290.19" y2="574.50" stroke="#000" stroke-width="0.9" />
<line x1="292.18" y1="572.70" x2="292.18" y2="574.50" stroke="#000" stroke-width="0.9" />
<line x1="293.90" y1="572.70" x2="293.90" y2="574.50" stroke="#000" stroke-width="0.9" />
<line x1="295.41" y1="572.70" x2="295.41" y2="574.50" stroke="#000" stroke-width="0.9" />
<line x1="194.30" y1="462.60" x2="194.30" y2="573.50" stroke="#000" stroke-width="1.6" />
<line x1="193.50" y1="572.70" x2="307.40" y2="572.70" stroke="#000" stroke-width="1.6" />
<line x1="194.30" y1="462.60" x2="307.40" y2="462.60" stroke="#222" stroke-width="1.2" />
<line x1="216.20" y1="476.10" x2="216.20" y2="529.30" stroke="#aaa" stroke-width="0.9" />
<line x1="279.20" y1="476.10" x2="279.20" y2="529.30" stroke="#aaa" stroke-width="0.9" />
<text transform="translate(237.43 507.69) scale(0.9735 1)" font-size="10.986" font-weight="normal" fill="#444" >3.76</text>
<path d="M241.5,534.5 C243.5,531 245,529 245.5,524 C246,520.5 247.5,519.3 249.5,519.3 C251.8,519.3 253,521 253,524 C253,528 253.5,531 255.5,534" stroke="#333" stroke-width="0.8" fill="none" />
<ellipse cx="246.00" cy="546.80" rx="12.20" ry="15.00" transform="rotate(40 246.00 546.80)" fill="none" stroke="#333" stroke-width="0.7" stroke-opacity="0.8"/>
<ellipse cx="245.84" cy="547.07" rx="10.74" ry="13.20" transform="rotate(40 245.84 547.07)" fill="none" stroke="#333" stroke-width="0.7" stroke-opacity="0.8"/>
<ellipse cx="245.68" cy="547.34" rx="9.27" ry="11.40" transform="rotate(40 245.68 547.34)" fill="none" stroke="#333" stroke-width="0.7" stroke-opacity="0.8"/>
<ellipse cx="245.52" cy="547.62" rx="7.81" ry="9.60" transform="rotate(40 245.52 547.62)" fill="none" stroke="#333" stroke-width="0.7" stroke-opacity="0.8"/>
<ellipse cx="245.36" cy="547.89" rx="6.34" ry="7.80" transform="rotate(40 245.36 547.89)" fill="none" stroke="#333" stroke-width="0.7" stroke-opacity="0.8"/>
<g fill="#000" fill-opacity="0.22"><circle cx="245.7" cy="556.0" r="1.3"/><circle cx="247.2" cy="536.5" r="1.3"/><circle cx="242.0" cy="551.4" r="1.3"/><circle cx="249.7" cy="541.9" r="1.3"/><circle cx="238.3" cy="553.1" r="1.3"/><circle cx="236.6" cy="549.0" r="1.3"/><circle cx="245.1" cy="552.0" r="1.3"/><circle cx="249.5" cy="548.4" r="1.3"/><circle cx="238.2" cy="555.8" r="1.3"/><circle cx="245.2" cy="545.6" r="1.3"/><circle cx="241.9" cy="542.6" r="1.3"/><circle cx="243.1" cy="555.9" r="1.3"/><circle cx="244.9" cy="553.0" r="1.3"/><circle cx="245.8" cy="551.6" r="1.3"/><circle cx="248.9" cy="550.8" r="1.3"/><circle cx="248.8" cy="551.3" r="1.3"/><circle cx="244.1" cy="538.7" r="1.3"/><circle cx="246.0" cy="546.1" r="1.3"/><circle cx="243.6" cy="541.9" r="1.3"/><circle cx="244.2" cy="550.7" r="1.3"/><circle cx="250.9" cy="547.3" r="1.3"/><circle cx="242.6" cy="553.9" r="1.3"/><circle cx="240.0" cy="556.9" r="1.3"/><circle cx="243.4" cy="547.2" r="1.3"/><circle cx="247.0" cy="547.3" r="1.3"/><circle cx="244.0" cy="549.4" r="1.3"/><circle cx="246.6" cy="546.3" r="1.3"/><circle cx="243.8" cy="547.0" r="1.3"/><circle cx="239.3" cy="545.0" r="1.3"/><circle cx="242.2" cy="544.4" r="1.3"/><circle cx="241.0" cy="545.9" r="1.3"/><circle cx="244.6" cy="546.4" r="1.3"/><circle cx="242.1" cy="546.9" r="1.3"/><circle cx="256.5" cy="545.5" r="1.3"/><circle cx="245.9" cy="550.9" r="1.3"/><circle cx="248.1" cy="542.2" r="1.3"/><circle cx="249.6" cy="553.7" r="1.3"/><circle cx="249.6" cy="549.8" r="1.3"/><circle cx="238.7" cy="550.9" r="1.3"/><circle cx="248.5" cy="549.3" r="1.3"/><circle cx="242.1" cy="550.5" r="1.3"/><circle cx="245.2" cy="542.9" r="1.3"/><circle cx="241.4" cy="552.6" r="1.3"/><circle cx="247.2" cy="551.7" r="1.3"/><circle cx="250.0" cy="551.6" r="1.3"/><circle cx="241.3" cy="549.6" r="1.3"/><circle cx="246.4" cy="550.6" r="1.3"/><circle cx="243.3" cy="552.0" r="1.3"/><circle cx="248.8" cy="547.7" r="1.3"/><circle cx="240.2" cy="554.3" r="1.3"/><circle cx="248.9" cy="548.8" r="1.3"/><circle cx="248.6" cy="544.7" r="1.3"/><circle cx="242.6" cy="542.8" r="1.3"/><circle cx="252.4" cy="550.4" r="1.3"/><circle cx="238.9" cy="542.7" r="1.3"/><circle cx="240.2" cy="549.7" r="1.3"/><circle cx="250.2" cy="550.6" r="1.3"/><circle cx="248.5" cy="545.2" r="1.3"/><circle cx="251.5" cy="548.9" r="1.3"/><circle cx="241.4" cy="546.7" r="1.3"/><circle cx="243.2" cy="550.4" r="1.3"/><circle cx="241.4" cy="556.0" r="1.3"/><circle cx="244.5" cy="552.4" r="1.3"/><circle cx="239.6" cy="546.9" r="1.3"/><circle cx="236.4" cy="549.9" r="1.3"/><circle cx="241.5" cy="552.4" r="1.3"/><circle cx="242.6" cy="548.2" r="1.3"/><circle cx="243.4" cy="551.1" r="1.3"/><circle cx="246.7" cy="545.9" r="1.3"/><circle cx="246.0" cy="544.9" r="1.3"/><circle cx="246.2" cy="541.1" r="1.3"/><circle cx="233.7" cy="552.3" r="1.3"/><circle cx="246.4" cy="542.0" r="1.3"/><circle cx="247.3" cy="552.5" r="1.3"/><circle cx="240.7" cy="552.9" r="1.3"/><circle cx="254.0" cy="550.2" r="1.3"/><circle cx="247.7" cy="554.9" r="1.3"/><circle cx="250.6" cy="549.6" r="1.3"/><circle cx="246.5" cy="558.0" r="1.3"/><circle cx="254.2" cy="546.6" r="1.3"/><circle cx="246.7" cy="548.8" r="1.3"/><circle cx="248.7" cy="545.7" r="1.3"/><circle cx="244.6" cy="553.4" r="1.3"/><circle cx="244.9" cy="548.0" r="1.3"/><circle cx="237.5" cy="546.1" r="1.3"/><circle cx="240.7" cy="545.2" r="1.3"/><circle cx="239.7" cy="554.9" r="1.3"/><circle cx="245.0" cy="548.3" r="1.3"/><circle cx="247.5" cy="550.5" r="1.3"/><circle cx="253.3" cy="554.3" r="1.3"/><circle cx="254.4" cy="548.2" r="1.3"/><circle cx="239.8" cy="548.8" r="1.3"/><circle cx="246.4" cy="550.4" r="1.3"/><circle cx="252.6" cy="551.4" r="1.3"/><circle cx="251.5" cy="535.8" r="1.3"/><circle cx="239.7" cy="542.0" r="1.3"/><circle cx="235.5" cy="546.0" r="1.3"/><circle cx="246.7" cy="553.2" r="1.3"/><circle cx="242.6" cy="540.6" r="1.3"/><circle cx="238.0" cy="547.7" r="1.3"/><circle cx="249.2" cy="550.5" r="1.3"/><circle cx="244.4" cy="549.7" r="1.3"/><circle cx="250.5" cy="546.9" r="1.3"/><circle cx="239.1" cy="549.2" r="1.3"/><circle cx="245.0" cy="552.0" r="1.3"/><circle cx="242.5" cy="551.9" r="1.3"/><circle cx="248.7" cy="547.4" r="1.3"/><circle cx="246.9" cy="557.8" r="1.3"/><circle cx="244.6" cy="547.5" r="1.3"/><circle cx="247.5" cy="540.8" r="1.3"/><circle cx="246.5" cy="539.7" r="1.3"/><circle cx="241.7" cy="548.1" r="1.3"/><circle cx="249.8" cy="542.5" r="1.3"/><circle cx="246.5" cy="545.4" r="1.3"/><circle cx="237.5" cy="550.1" r="1.3"/><circle cx="238.4" cy="549.4" r="1.3"/><circle cx="238.4" cy="545.0" r="1.3"/><circle cx="239.3" cy="550.6" r="1.3"/><circle cx="249.1" cy="546.5" r="1.3"/><circle cx="242.7" cy="555.7" r="1.3"/><circle cx="244.3" cy="558.4" r="1.3"/><circle cx="236.3" cy="556.6" r="1.3"/><circle cx="243.5" cy="546.4" r="1.3"/><circle cx="240.6" cy="543.4" r="1.3"/><circle cx="239.8" cy="545.0" r="1.3"/><circle cx="242.1" cy="557.5" r="1.3"/><circle cx="248.3" cy="552.6" r="1.3"/><circle cx="245.9" cy="550.8" r="1.3"/><circle cx="242.8" cy="538.5" r="1.3"/><circle cx="240.4" cy="551.4" r="1.3"/><circle cx="239.7" cy="545.6" r="1.3"/><circle cx="240.5" cy="550.1" r="1.3"/><circle cx="251.2" cy="546.4" r="1.3"/><circle cx="236.0" cy="551.6" r="1.3"/><circle cx="248.6" cy="551.5" r="1.3"/><circle cx="247.6" cy="551.2" r="1.3"/><circle cx="248.0" cy="548.3" r="1.3"/><circle cx="240.9" cy="557.2" r="1.3"/><circle cx="245.4" cy="558.0" r="1.3"/><circle cx="242.0" cy="553.0" r="1.3"/><circle cx="244.6" cy="546.2" r="1.3"/><circle cx="249.3" cy="544.5" r="1.3"/><circle cx="251.7" cy="542.0" r="1.3"/><circle cx="247.5" cy="556.8" r="1.3"/><circle cx="248.5" cy="546.6" r="1.3"/><circle cx="244.4" cy="545.3" r="1.3"/><circle cx="241.0" cy="542.2" r="1.3"/><circle cx="239.0" cy="549.6" r="1.3"/><circle cx="244.4" cy="558.5" r="1.3"/><circle cx="245.3" cy="539.1" r="1.3"/><circle cx="247.0" cy="556.0" r="1.3"/><circle cx="246.2" cy="554.4" r="1.3"/><circle cx="238.3" cy="558.2" r="1.3"/><circle cx="245.5" cy="554.0" r="1.3"/><circle cx="241.1" cy="546.5" r="1.3"/><circle cx="247.5" cy="554.8" r="1.3"/><circle cx="248.7" cy="550.4" r="1.3"/><circle cx="249.4" cy="548.3" r="1.3"/><circle cx="240.6" cy="552.6" r="1.3"/><circle cx="251.8" cy="552.1" r="1.3"/><circle cx="245.1" cy="547.1" r="1.3"/><circle cx="244.3" cy="548.3" r="1.3"/><circle cx="246.7" cy="552.6" r="1.3"/><circle cx="243.4" cy="550.5" r="1.3"/><circle cx="239.6" cy="543.0" r="1.3"/><circle cx="255.2" cy="549.9" r="1.3"/><circle cx="242.1" cy="548.1" r="1.3"/><circle cx="249.3" cy="550.4" r="1.3"/><circle cx="236.0" cy="552.1" r="1.3"/><circle cx="240.3" cy="538.3" r="1.3"/><circle cx="250.7" cy="536.7" r="1.3"/><circle cx="241.4" cy="542.6" r="1.3"/><circle cx="241.7" cy="550.8" r="1.3"/><circle cx="242.3" cy="550.5" r="1.3"/><circle cx="247.1" cy="549.4" r="1.3"/><circle cx="240.2" cy="554.6" r="1.3"/><circle cx="243.3" cy="551.9" r="1.3"/><circle cx="242.4" cy="551.5" r="1.3"/><circle cx="250.1" cy="553.6" r="1.3"/><circle cx="246.0" cy="544.1" r="1.3"/><circle cx="251.2" cy="548.2" r="1.3"/><circle cx="239.4" cy="556.8" r="1.3"/><circle cx="245.4" cy="548.3" r="1.3"/><circle cx="250.0" cy="546.6" r="1.3"/><circle cx="237.0" cy="541.5" r="1.3"/><circle cx="241.8" cy="547.4" r="1.3"/><circle cx="249.4" cy="556.8" r="1.3"/><circle cx="238.3" cy="546.1" r="1.3"/><circle cx="246.7" cy="534.4" r="1.3"/><circle cx="255.5" cy="550.7" r="1.3"/><circle cx="237.8" cy="542.0" r="1.3"/><circle cx="242.7" cy="550.0" r="1.3"/><circle cx="245.1" cy="547.3" r="1.3"/><circle cx="248.5" cy="550.3" r="1.3"/><circle cx="241.2" cy="548.0" r="1.3"/><circle cx="239.2" cy="551.6" r="1.3"/><circle cx="245.8" cy="548.0" r="1.3"/><circle cx="241.4" cy="550.0" r="1.3"/><circle cx="249.5" cy="550.3" r="1.3"/><circle cx="234.7" cy="545.6" r="1.3"/><circle cx="240.2" cy="549.1" r="1.3"/><circle cx="241.5" cy="548.7" r="1.3"/><circle cx="247.0" cy="544.5" r="1.3"/><circle cx="240.9" cy="544.5" r="1.3"/><circle cx="251.3" cy="542.1" r="1.3"/><circle cx="235.8" cy="542.8" r="1.3"/><circle cx="255.3" cy="551.5" r="1.3"/><circle cx="248.0" cy="543.3" r="1.3"/><circle cx="235.3" cy="551.4" r="1.3"/><circle cx="238.5" cy="545.0" r="1.3"/><circle cx="240.4" cy="549.1" r="1.3"/><circle cx="249.8" cy="553.8" r="1.3"/><circle cx="240.0" cy="552.4" r="1.3"/><circle cx="250.6" cy="539.8" r="1.3"/><circle cx="251.5" cy="550.3" r="1.3"/><circle cx="247.1" cy="552.7" r="1.3"/><circle cx="253.9" cy="549.7" r="1.3"/><circle cx="243.4" cy="539.0" r="1.3"/><circle cx="244.5" cy="549.9" r="1.3"/><circle cx="247.1" cy="551.9" r="1.3"/><circle cx="242.8" cy="546.4" r="1.3"/><circle cx="247.3" cy="548.0" r="1.3"/><circle cx="247.2" cy="550.7" r="1.3"/><circle cx="235.2" cy="548.3" r="1.3"/><circle cx="238.8" cy="551.3" r="1.3"/><circle cx="251.2" cy="544.3" r="1.3"/><circle cx="245.9" cy="548.1" r="1.3"/><circle cx="244.5" cy="547.7" r="1.3"/><circle cx="246.1" cy="548.1" r="1.3"/><circle cx="245.9" cy="553.5" r="1.3"/><circle cx="245.0" cy="547.7" r="1.3"/><circle cx="245.3" cy="546.1" r="1.3"/><circle cx="243.6" cy="549.2" r="1.3"/><circle cx="250.7" cy="539.9" r="1.3"/><circle cx="248.5" cy="545.1" r="1.3"/><circle cx="257.1" cy="541.4" r="1.3"/><circle cx="235.3" cy="547.9" r="1.3"/><circle cx="248.0" cy="539.7" r="1.3"/><circle cx="239.6" cy="543.0" r="1.3"/><circle cx="242.3" cy="546.3" r="1.3"/><circle cx="243.9" cy="547.9" r="1.3"/><circle cx="246.4" cy="543.9" r="1.3"/><circle cx="241.8" cy="557.4" r="1.3"/><circle cx="242.6" cy="545.5" r="1.3"/><circle cx="255.9" cy="549.8" r="1.3"/><circle cx="239.2" cy="547.7" r="1.3"/><circle cx="248.2" cy="551.2" r="1.3"/><circle cx="249.3" cy="551.5" r="1.3"/><circle cx="245.8" cy="549.1" r="1.3"/><circle cx="246.1" cy="549.7" r="1.3"/><circle cx="247.3" cy="555.9" r="1.3"/><circle cx="251.1" cy="552.7" r="1.3"/><circle cx="244.5" cy="543.8" r="1.3"/><circle cx="242.4" cy="548.9" r="1.3"/><circle cx="242.5" cy="548.6" r="1.3"/><circle cx="250.6" cy="544.9" r="1.3"/><circle cx="235.5" cy="550.3" r="1.3"/><circle cx="236.1" cy="554.8" r="1.3"/><circle cx="248.9" cy="541.9" r="1.3"/><circle cx="243.9" cy="541.8" r="1.3"/><circle cx="240.2" cy="537.9" r="1.3"/><circle cx="251.9" cy="547.5" r="1.3"/><circle cx="245.7" cy="558.7" r="1.3"/><circle cx="240.6" cy="549.3" r="1.3"/><circle cx="246.8" cy="549.1" r="1.3"/><circle cx="245.5" cy="544.9" r="1.3"/><circle cx="248.4" cy="547.7" r="1.3"/><circle cx="245.5" cy="554.1" r="1.3"/><circle cx="238.0" cy="545.8" r="1.3"/><circle cx="241.6" cy="551.5" r="1.3"/><circle cx="239.5" cy="552.7" r="1.3"/><circle cx="244.6" cy="554.9" r="1.3"/><circle cx="252.1" cy="544.5" r="1.3"/><circle cx="240.8" cy="553.2" r="1.3"/><circle cx="245.9" cy="553.8" r="1.3"/><circle cx="245.1" cy="548.3" r="1.3"/><circle cx="246.8" cy="537.1" r="1.3"/><circle cx="241.4" cy="551.7" r="1.3"/><circle cx="246.0" cy="545.6" r="1.3"/><circle cx="239.6" cy="553.8" r="1.3"/><circle cx="243.2" cy="546.5" r="1.3"/><circle cx="242.4" cy="554.2" r="1.3"/><circle cx="248.3" cy="547.7" r="1.3"/><circle cx="247.3" cy="542.4" r="1.3"/><circle cx="240.8" cy="552.3" r="1.3"/><circle cx="247.2" cy="547.3" r="1.3"/><circle cx="242.5" cy="544.0" r="1.3"/><circle cx="245.3" cy="553.5" r="1.3"/><circle cx="243.5" cy="553.6" r="1.3"/><circle cx="248.4" cy="553.1" r="1.3"/><circle cx="254.1" cy="542.4" r="1.3"/><circle cx="248.4" cy="549.2" r="1.3"/><circle cx="249.2" cy="545.6" r="1.3"/><circle cx="248.1" cy="543.2" r="1.3"/><circle cx="248.4" cy="544.1" r="1.3"/><circle cx="249.7" cy="550.4" r="1.3"/><circle cx="247.8" cy="546.5" r="1.3"/><circle cx="247.1" cy="545.4" r="1.3"/><circle cx="240.4" cy="548.4" r="1.3"/><circle cx="246.8" cy="541.9" r="1.3"/><circle cx="247.7" cy="552.8" r="1.3"/><circle cx="244.9" cy="550.9" r="1.3"/><circle cx="249.6" cy="553.9" r="1.3"/><circle cx="242.5" cy="540.0" r="1.3"/><circle cx="247.5" cy="547.6" r="1.3"/><circle cx="247.6" cy="548.8" r="1.3"/><circle cx="245.0" cy="552.1" r="1.3"/><circle cx="248.0" cy="542.1" r="1.3"/><circle cx="246.4" cy="545.0" r="1.3"/><circle cx="241.5" cy="546.6" r="1.3"/><circle cx="250.3" cy="550.8" r="1.3"/><circle cx="247.5" cy="543.2" r="1.3"/><circle cx="245.1" cy="550.7" r="1.3"/><circle cx="240.1" cy="556.0" r="1.3"/><circle cx="242.3" cy="554.1" r="1.3"/><circle cx="242.4" cy="549.6" r="1.3"/><circle cx="239.3" cy="549.8" r="1.3"/><circle cx="253.1" cy="549.1" r="1.3"/><circle cx="241.2" cy="547.7" r="1.3"/><circle cx="241.9" cy="552.6" r="1.3"/><circle cx="238.0" cy="539.0" r="1.3"/><circle cx="245.9" cy="551.4" r="1.3"/><circle cx="238.8" cy="548.9" r="1.3"/><circle cx="245.3" cy="549.4" r="1.3"/><circle cx="244.6" cy="547.7" r="1.3"/><circle cx="252.0" cy="544.7" r="1.3"/><circle cx="236.0" cy="542.8" r="1.3"/><circle cx="243.9" cy="550.4" r="1.3"/><circle cx="239.2" cy="548.1" r="1.3"/><circle cx="245.7" cy="545.9" r="1.3"/><circle cx="247.1" cy="544.5" r="1.3"/><circle cx="252.8" cy="550.7" r="1.3"/><circle cx="246.2" cy="547.4" r="1.3"/><circle cx="245.5" cy="549.6" r="1.3"/><circle cx="243.8" cy="548.2" r="1.3"/><circle cx="244.8" cy="550.2" r="1.3"/><circle cx="248.9" cy="551.5" r="1.3"/><circle cx="242.9" cy="550.8" r="1.3"/><circle cx="243.0" cy="550.2" r="1.3"/><circle cx="254.9" cy="541.2" r="1.3"/><circle cx="246.8" cy="547.4" r="1.3"/><circle cx="244.1" cy="539.0" r="1.3"/><circle cx="236.6" cy="549.1" r="1.3"/><circle cx="248.7" cy="552.3" r="1.3"/><circle cx="248.6" cy="543.9" r="1.3"/><circle cx="248.7" cy="546.2" r="1.3"/><circle cx="246.9" cy="545.8" r="1.3"/><circle cx="244.7" cy="540.8" r="1.3"/><circle cx="244.3" cy="543.4" r="1.3"/><circle cx="249.8" cy="546.0" r="1.3"/><circle cx="245.9" cy="551.0" r="1.3"/><circle cx="243.5" cy="557.3" r="1.3"/><circle cx="244.5" cy="546.8" r="1.3"/><circle cx="240.9" cy="554.3" r="1.3"/><circle cx="243.3" cy="550.9" r="1.3"/><circle cx="247.9" cy="557.8" r="1.3"/><circle cx="243.1" cy="551.6" r="1.3"/><circle cx="243.7" cy="552.6" r="1.3"/><circle cx="248.0" cy="549.4" r="1.3"/><circle cx="244.4" cy="550.2" r="1.3"/><circle cx="246.2" cy="546.2" r="1.3"/><circle cx="256.0" cy="542.3" r="1.3"/><circle cx="240.5" cy="552.6" r="1.3"/><circle cx="250.1" cy="545.0" r="1.3"/><circle cx="234.8" cy="554.5" r="1.3"/><circle cx="247.5" cy="550.6" r="1.3"/><circle cx="246.3" cy="548.0" r="1.3"/><circle cx="249.3" cy="546.2" r="1.3"/><circle cx="245.8" cy="549.1" r="1.3"/><circle cx="242.4" cy="553.4" r="1.3"/><circle cx="239.4" cy="543.4" r="1.3"/><circle cx="244.9" cy="550.2" r="1.3"/><circle cx="243.5" cy="550.5" r="1.3"/><circle cx="250.2" cy="550.0" r="1.3"/><circle cx="242.9" cy="552.8" r="1.3"/><circle cx="240.8" cy="552.8" r="1.3"/><circle cx="238.5" cy="552.1" r="1.3"/><circle cx="240.9" cy="555.7" r="1.3"/><circle cx="252.9" cy="548.9" r="1.3"/><circle cx="246.4" cy="553.7" r="1.3"/><circle cx="246.8" cy="547.5" r="1.3"/><circle cx="247.1" cy="549.0" r="1.3"/><circle cx="245.1" cy="549.1" r="1.3"/><circle cx="246.1" cy="548.2" r="1.3"/><circle cx="239.7" cy="545.8" r="1.3"/><circle cx="244.9" cy="548.1" r="1.3"/><circle cx="242.2" cy="548.7" r="1.3"/><circle cx="248.5" cy="548.2" r="1.3"/><circle cx="246.4" cy="543.0" r="1.3"/><circle cx="239.4" cy="547.3" r="1.3"/><circle cx="239.8" cy="554.5" r="1.3"/><circle cx="243.8" cy="539.8" r="1.3"/><circle cx="247.1" cy="547.3" r="1.3"/><circle cx="249.1" cy="546.2" r="1.3"/><circle cx="250.1" cy="551.2" r="1.3"/><circle cx="242.3" cy="554.4" r="1.3"/><circle cx="242.3" cy="543.9" r="1.3"/><circle cx="238.5" cy="549.4" r="1.3"/><circle cx="240.8" cy="541.7" r="1.3"/><circle cx="239.7" cy="550.7" r="1.3"/><circle cx="250.2" cy="553.6" r="1.3"/><circle cx="248.8" cy="556.9" r="1.3"/><circle cx="241.1" cy="544.2" r="1.3"/><circle cx="238.8" cy="549.2" r="1.3"/><circle cx="245.4" cy="551.3" r="1.3"/><circle cx="242.9" cy="545.4" r="1.3"/><circle cx="241.2" cy="545.1" r="1.3"/><circle cx="250.5" cy="551.7" r="1.3"/><circle cx="249.3" cy="553.4" r="1.3"/><circle cx="242.1" cy="550.2" r="1.3"/><circle cx="234.6" cy="551.3" r="1.3"/><circle cx="249.7" cy="544.8" r="1.3"/><circle cx="250.9" cy="546.8" r="1.3"/><circle cx="243.7" cy="556.4" r="1.3"/><circle cx="252.4" cy="546.5" r="1.3"/><circle cx="240.1" cy="552.2" r="1.3"/><circle cx="244.8" cy="552.3" r="1.3"/><circle cx="248.3" cy="543.1" r="1.3"/><circle cx="247.9" cy="540.8" r="1.3"/><circle cx="242.0" cy="547.0" r="1.3"/></g>
<circle cx="248.4" cy="526.4" r="0.55" fill="#999"/>
<circle cx="253.6" cy="522.9" r="0.55" fill="#999"/>
<circle cx="246.8" cy="529.9" r="0.55" fill="#999"/>
<circle cx="246.8" cy="516.0" r="0.55" fill="#999"/>
<circle cx="251.2" cy="525.1" r="0.55" fill="#999"/>
<circle cx="250.6" cy="522.2" r="0.55" fill="#999"/>
<circle cx="243.7" cy="528.7" r="0.55" fill="#999"/>
<circle cx="242.1" cy="524.3" r="0.55" fill="#999"/>
<circle cx="241.3" cy="519.6" r="0.55" fill="#999"/>
<circle cx="247.2" cy="519.1" r="0.55" fill="#999"/>
<circle cx="246.6" cy="523.1" r="0.55" fill="#999"/>
<circle cx="247.6" cy="514.6" r="0.55" fill="#999"/>
<text transform="translate(450.40 324.30) scale(1.0450 1)" font-size="30.87" font-weight="bold" fill="#000" >D</text>
<line x1="548.60" y1="574.50" x2="548.60" y2="571.40" stroke="#000" stroke-width="2.2" />
<line x1="541.60" y1="571.40" x2="555.30" y2="571.40" stroke="#000" stroke-width="2.2" />
<line x1="576.10" y1="556.90" x2="576.10" y2="553.80" stroke="#000" stroke-width="2.2" />
<line x1="568.80" y1="553.80" x2="584.90" y2="553.80" stroke="#000" stroke-width="2.2" />
<line x1="629.10" y1="538.70" x2="629.10" y2="521.30" stroke="#000" stroke-width="2.2" />
<line x1="624.00" y1="521.30" x2="634.20" y2="521.30" stroke="#000" stroke-width="2.2" />
<line x1="655.80" y1="453.80" x2="655.80" y2="440.30" stroke="#000" stroke-width="2.2" />
<line x1="648.60" y1="440.30" x2="662.30" y2="440.30" stroke="#000" stroke-width="2.2" />
<rect x="537.10" y="576.00" width="23.70" height="7.60" fill="#fff" stroke="#000" stroke-width="3" />
<rect x="563.80" y="558.40" width="25.10" height="25.20" fill="#000" stroke="#000" stroke-width="3" />
<rect x="617.60" y="540.20" width="23.20" height="43.40" fill="#fff" stroke="#000" stroke-width="3" />
<rect x="643.80" y="455.30" width="25.60" height="128.30" fill="#000" stroke="#000" stroke-width="3" />
<line x1="522.60" y1="352.00" x2="522.60" y2="585.10" stroke="#000" stroke-width="3" />
<line x1="521.10" y1="583.60" x2="686.20" y2="583.60" stroke="#000" stroke-width="3" />
<line x1="515.30" y1="583.60" x2="522.60" y2="583.60" stroke="#000" stroke-width="2.6" />
<line x1="515.30" y1="506.90" x2="522.60" y2="506.90" stroke="#000" stroke-width="2.6" />
<line x1="515.30" y1="430.20" x2="522.60" y2="430.20" stroke="#000" stroke-width="2.6" />
<line x1="515.30" y1="353.50" x2="522.60" y2="353.50" stroke="#000" stroke-width="2.6" />
<text transform="translate(496.27 361.24) scale(1.0549 1)" font-size="15.634" font-weight="bold" fill="#000" >30</text>
<text transform="translate(495.80 438.64) scale(1.0522 1)" font-size="15.915" font-weight="bold" fill="#000" >20</text>
<text transform="translate(495.90 514.24) scale(1.0462 1)" font-size="15.915" font-weight="bold" fill="#000" >10</text>
<text transform="translate(504.39 591.04) scale(1.0979 1)" font-size="15.775" font-weight="bold" fill="#000" >0</text>
<line x1="548.60" y1="583.60" x2="548.60" y2="590.60" stroke="#000" stroke-width="2.6" />
<line x1="576.10" y1="583.60" x2="576.10" y2="590.60" stroke="#000" stroke-width="2.6" />
<line x1="629.10" y1="583.60" x2="629.10" y2="590.60" stroke="#000" stroke-width="2.6" />
<line x1="656.60" y1="583.60" x2="656.60" y2="590.60" stroke="#000" stroke-width="2.6" />
<line x1="574.60" y1="537.00" x2="574.60" y2="544.20" stroke="#444" stroke-width="1.2" stroke-linecap="round"/>
<line x1="571.48" y1="538.80" x2="577.72" y2="542.40" stroke="#444" stroke-width="1.2" stroke-linecap="round"/>
<line x1="577.72" y1="538.80" x2="571.48" y2="542.40" stroke="#444" stroke-width="1.2" stroke-linecap="round"/>
<line x1="582.80" y1="537.00" x2="582.80" y2="544.20" stroke="#444" stroke-width="1.2" stroke-linecap="round"/>
<line x1="579.68" y1="538.80" x2="585.92" y2="542.40" stroke="#444" stroke-width="1.2" stroke-linecap="round"/>
<line x1="585.92" y1="538.80" x2="579.68" y2="542.40" stroke="#444" stroke-width="1.2" stroke-linecap="round"/>
<line x1="653.60" y1="428.90" x2="653.60" y2="435.70" stroke="#444" stroke-width="1.2" stroke-linecap="round"/>
<line x1="650.66" y1="430.60" x2="656.54" y2="434.00" stroke="#444" stroke-width="1.2" stroke-linecap="round"/>
<line x1="656.54" y1="430.60" x2="650.66" y2="434.00" stroke="#444" stroke-width="1.2" stroke-linecap="round"/>
<line x1="661.60" y1="428.90" x2="661.60" y2="435.70" stroke="#444" stroke-width="1.2" stroke-linecap="round"/>
<line x1="658.66" y1="430.60" x2="664.54" y2="434.00" stroke="#444" stroke-width="1.2" stroke-linecap="round"/>
<line x1="664.54" y1="430.60" x2="658.66" y2="434.00" stroke="#444" stroke-width="1.2" stroke-linecap="round"/>
<rect x="561.50" y="366.10" width="28.90" height="11.50" fill="#fff" stroke="#000" stroke-width="2" />
<rect x="561.00" y="387.90" width="31.50" height="14.00" fill="#000" stroke="none" stroke-width="1" />
<text transform="translate(613.80 376.10) scale(1.0416 1)" font-size="14.68" font-weight="bold" fill="#000" >WT</text>
<text transform="translate(608.94 400.90) scale(1.0790 1)" font-size="15.12" font-weight="bold" fill="#000" >IL-17-/-</text>
<text transform="translate(482.03 519.20) rotate(-90) scale(0.9695 1)" font-size="27.042" font-weight="bold" fill="#000">IL-10 %</text>
<text transform="translate(516.09 612.20) scale(1.0369 1)" font-size="19.62" font-weight="bold" fill="#000" >CD19+ B</text>
<text transform="translate(616.70 612.20) scale(1.0058 1)" font-size="19.62" font-weight="bold" fill="#000" >TIM-4+ B</text>
<text transform="translate(0.32 694.60) scale(0.7818 1)" font-size="31.014" font-weight="bold" fill="#000" >E</text>
<line x1="75.50" y1="730.20" x2="75.50" y2="872.40" stroke="#000" stroke-width="1.5" />
<line x1="74.80" y1="871.60" x2="165.70" y2="871.60" stroke="#000" stroke-width="1.5" />
<line x1="72.00" y1="871.60" x2="75.50" y2="871.60" stroke="#000" stroke-width="1.5" />
<text transform="translate(51.84 876.86) scale(0.9637 1)" font-size="13.521" font-weight="bold" fill="#000" >0.0</text>
<line x1="72.00" y1="836.40" x2="75.50" y2="836.40" stroke="#000" stroke-width="1.5" />
<text transform="translate(51.85 841.66) scale(0.9565 1)" font-size="13.521" font-weight="bold" fill="#000" >0.5</text>
<line x1="72.00" y1="801.20" x2="75.50" y2="801.20" stroke="#000" stroke-width="1.5" />
<text transform="translate(51.50 806.46) scale(0.9823 1)" font-size="13.521" font-weight="bold" fill="#000" >1.0</text>
<line x1="72.00" y1="766.00" x2="75.50" y2="766.00" stroke="#000" stroke-width="1.5" />
<text transform="translate(51.51 771.26) scale(0.9611 1)" font-size="13.714" font-weight="bold" fill="#000" >1.5</text>
<line x1="72.00" y1="730.80" x2="75.50" y2="730.80" stroke="#000" stroke-width="1.5" />
<text transform="translate(51.91 736.06) scale(0.9601 1)" font-size="13.521" font-weight="bold" fill="#000" >2.0</text>
<line x1="98.80" y1="818.20" x2="98.80" y2="780.40" stroke="#000" stroke-width="1.5" />
<line x1="90.90" y1="780.40" x2="106.10" y2="780.40" stroke="#000" stroke-width="1.5" />
<rect x="83.90" y="818.90" width="28.10" height="52.70" fill="#fff" stroke="#000" stroke-width="1.5" />
<line x1="142.20" y1="870.50" x2="142.20" y2="867.60" stroke="#000" stroke-width="1.5" />
<line x1="135.60" y1="867.60" x2="149.70" y2="867.60" stroke="#000" stroke-width="1.5" />
<rect x="128.00" y="870.30" width="28.70" height="1.30" fill="#fff" stroke="#000" stroke-width="1.2" />
<line x1="98.80" y1="871.60" x2="98.80" y2="875.30" stroke="#000" stroke-width="1.5" />
<line x1="142.20" y1="871.60" x2="142.20" y2="875.30" stroke="#000" stroke-width="1.5" />
<line x1="141.80" y1="826.30" x2="141.80" y2="832.90" stroke="#555" stroke-width="1.1" stroke-linecap="round"/>
<line x1="138.94" y1="827.95" x2="144.66" y2="831.25" stroke="#555" stroke-width="1.1" stroke-linecap="round"/>
<line x1="144.66" y1="827.95" x2="138.94" y2="831.25" stroke="#555" stroke-width="1.1" stroke-linecap="round"/>
<text transform="translate(73.30 897.90) scale(1.0255 1)" font-size="19.565" font-weight="bold" fill="#000" >WT</text>
<text transform="translate(112.20 898.71) scale(0.9033 1)" font-size="20.44" font-weight="bold" fill="#000" >RORγT</text>
<text transform="translate(174.95 890.52) scale(2.2332 1)" font-size="8.435" font-weight="normal" fill="#000" >-/-</text>
<path d="M74.5,901 V912 H172.6 V901" stroke="#7fa6dd" stroke-width="1.2" fill="none" />
<text transform="translate(57.03 932.10) scale(0.9907 1)" font-size="19.77" font-weight="bold" fill="#000" >B cell chimeras</text>
<text transform="translate(37.88 843.69) rotate(-90) scale(0.8781 1)" font-size="22.411" font-weight="bold" fill="#000">% IL-17</text>
<text transform="translate(226.51 841.87) rotate(-90) scale(0.9655 1)" font-size="19.048" font-weight="bold" fill="#000">% Survival</text>
<line x1="265.20" y1="907.40" x2="271.80" y2="907.40" stroke="#000" stroke-width="2" />
<line x1="265.20" y1="863.04" x2="271.80" y2="863.04" stroke="#000" stroke-width="2" />
<line x1="265.20" y1="818.68" x2="271.80" y2="818.68" stroke="#000" stroke-width="2" />
<line x1="265.20" y1="774.32" x2="271.80" y2="774.32" stroke="#000" stroke-width="2" />
<line x1="265.20" y1="729.96" x2="271.80" y2="729.96" stroke="#000" stroke-width="2" />
<line x1="265.20" y1="685.60" x2="271.80" y2="685.60" stroke="#000" stroke-width="2" />
<text transform="translate(236.10 691.85) scale(1.0971 1)" font-size="15.211" font-weight="bold" fill="#000" >100</text>
<text transform="translate(245.09 736.21) scale(1.1135 1)" font-size="15.211" font-weight="bold" fill="#000" >80</text>
<text transform="translate(245.00 780.57) scale(1.1189 1)" font-size="15.211" font-weight="bold" fill="#000" >60</text>
<text transform="translate(245.35 824.93) scale(1.0978 1)" font-size="15.211" font-weight="bold" fill="#000" >40</text>
<text transform="translate(245.09 869.29) scale(1.1135 1)" font-size="15.211" font-weight="bold" fill="#000" >20</text>
<text transform="translate(253.97 913.65) scale(1.1793 1)" font-size="15.211" font-weight="bold" fill="#000" >0</text>
<line x1="271.90" y1="907.50" x2="271.90" y2="911.50" stroke="#000" stroke-width="2" />
<text transform="translate(266.92 931.85) scale(1.2129 1)" font-size="14.789" font-weight="bold" fill="#000" >0</text>
<line x1="335.70" y1="907.50" x2="335.70" y2="911.50" stroke="#000" stroke-width="2" />
<text transform="translate(326.34 931.85) scale(1.1453 1)" font-size="14.789" font-weight="bold" fill="#000" >20</text>
<line x1="399.50" y1="907.50" x2="399.50" y2="911.50" stroke="#000" stroke-width="2" />
<text transform="translate(390.40 931.85) scale(1.1291 1)" font-size="14.789" font-weight="bold" fill="#000" >40</text>
<line x1="463.30" y1="907.50" x2="463.30" y2="911.50" stroke="#000" stroke-width="2" />
<text transform="translate(453.85 931.85) scale(1.1508 1)" font-size="14.789" font-weight="bold" fill="#000" >60</text>
<line x1="527.10" y1="907.50" x2="527.10" y2="911.50" stroke="#000" stroke-width="2" />
<text transform="translate(517.74 931.85) scale(1.1453 1)" font-size="14.789" font-weight="bold" fill="#000" >80</text>
<line x1="590.90" y1="907.50" x2="590.90" y2="911.50" stroke="#000" stroke-width="2" />
<text transform="translate(576.69 931.85) scale(1.1370 1)" font-size="14.789" font-weight="bold" fill="#000" >100</text>
<text transform="translate(410.98 956.30) scale(0.9970 1)" font-size="17.3" font-weight="bold" fill="#000" >Days</text>
<path d="M271.90,685.60 H335.70 V717.32 H345.27 V749.03 H358.03 V780.75 H367.60 V812.25 H476.06 V843.97 H590.90" stroke="#000" stroke-width="2" fill="none" />
<path d="M271.90,685.60 H329.32 V722.64 H358.03 V759.46 H383.55 V796.50 H444.16 V833.54 H590.90" stroke="#000" stroke-width="2" fill="none" />
<path d="M271.90,685.60 H327.72 V729.96 H334.10 V774.32 H335.70 V818.68 H342.08 V863.04 H377.17 V907.40" stroke="#000" stroke-width="2" fill="none" />
<path d="M271.90,685.60 H313.37 V707.78 H326.13 V729.96 H329.32 V774.32 H342.08 V796.50 H345.27 V818.68 H351.65 V840.86 H361.22 V863.04 H399.50 V885.22 H412.26 V907.40" stroke="#000" stroke-width="2" fill="none" />
<line x1="271.80" y1="685.60" x2="271.80" y2="908.60" stroke="#000" stroke-width="2.2" />
<line x1="270.70" y1="907.50" x2="591.30" y2="907.50" stroke="#000" stroke-width="2.2" />
<path d="M321.42,729.96 L327.72,723.66 L334.02,729.96 L327.72,736.26 Z" stroke="#000" stroke-width="1.8" fill="#fff" />
<path d="M327.80,774.32 L334.10,768.02 L340.40,774.32 L334.10,780.62 Z" stroke="#000" stroke-width="1.8" fill="#fff" />
<path d="M329.40,818.68 L335.70,812.38 L342.00,818.68 L335.70,824.98 Z" stroke="#000" stroke-width="1.8" fill="#fff" />
<path d="M335.78,863.04 L342.08,856.74 L348.38,863.04 L342.08,869.34 Z" stroke="#000" stroke-width="1.8" fill="#fff" />
<path d="M370.87,907.40 L377.17,901.10 L383.47,907.40 L377.17,913.70 Z" stroke="#000" stroke-width="1.8" fill="#fff" />
<path d="M323.12,722.64 L329.32,716.24 L335.52,722.64 L329.32,729.04 Z" stroke="#000" stroke-width="1.8" fill="#14f014" />
<path d="M351.83,759.46 L358.03,753.06 L364.23,759.46 L358.03,765.86 Z" stroke="#000" stroke-width="1.8" fill="#14f014" />
<path d="M377.35,796.50 L383.55,790.10 L389.75,796.50 L383.55,802.90 Z" stroke="#000" stroke-width="1.8" fill="#14f014" />
<path d="M437.96,833.54 L444.16,827.14 L450.36,833.54 L444.16,839.94 Z" stroke="#000" stroke-width="1.8" fill="#14f014" />
<path d="M584.70,833.54 L590.90,827.14 L597.10,833.54 L590.90,839.94 Z" stroke="#000" stroke-width="1.8" fill="#14f014" />
<rect x="330.40" y="712.02" width="10.60" height="10.60" fill="#0410ff" stroke="#000" stroke-width="1.8" />
<rect x="339.97" y="743.73" width="10.60" height="10.60" fill="#0410ff" stroke="#000" stroke-width="1.8" />
<rect x="352.73" y="775.45" width="10.60" height="10.60" fill="#0410ff" stroke="#000" stroke-width="1.8" />
<rect x="362.30" y="806.95" width="10.60" height="10.60" fill="#0410ff" stroke="#000" stroke-width="1.8" />
<rect x="470.76" y="838.67" width="10.60" height="10.60" fill="#0410ff" stroke="#000" stroke-width="1.8" />
<rect x="585.60" y="838.67" width="10.60" height="10.60" fill="#0410ff" stroke="#000" stroke-width="1.8" />
<rect x="307.67" y="702.08" width="11.40" height="11.40" fill="#000" stroke="#000" stroke-width="1" />
<rect x="320.43" y="724.26" width="11.40" height="11.40" fill="#000" stroke="#000" stroke-width="1" />
<rect x="323.62" y="768.62" width="11.40" height="11.40" fill="#000" stroke="#000" stroke-width="1" />
<rect x="336.38" y="790.80" width="11.40" height="11.40" fill="#000" stroke="#000" stroke-width="1" />
<rect x="339.57" y="812.98" width="11.40" height="11.40" fill="#000" stroke="#000" stroke-width="1" />
<rect x="345.95" y="835.16" width="11.40" height="11.40" fill="#000" stroke="#000" stroke-width="1" />
<rect x="355.52" y="857.34" width="11.40" height="11.40" fill="#000" stroke="#000" stroke-width="1" />
<rect x="393.80" y="879.52" width="11.40" height="11.40" fill="#000" stroke="#000" stroke-width="1" />
<rect x="406.56" y="901.70" width="11.40" height="11.40" fill="#000" stroke="#000" stroke-width="1" />
<line x1="608.50" y1="809.50" x2="608.50" y2="818.10" stroke="#000" stroke-width="1.5" stroke-linecap="round"/>
<line x1="604.78" y1="811.65" x2="612.22" y2="815.95" stroke="#000" stroke-width="1.5" stroke-linecap="round"/>
<line x1="612.22" y1="811.65" x2="604.78" y2="815.95" stroke="#000" stroke-width="1.5" stroke-linecap="round"/>
<line x1="608.50" y1="825.70" x2="608.50" y2="834.30" stroke="#000" stroke-width="1.5" stroke-linecap="round"/>
<line x1="604.78" y1="827.85" x2="612.22" y2="832.15" stroke="#000" stroke-width="1.5" stroke-linecap="round"/>
<line x1="612.22" y1="827.85" x2="604.78" y2="832.15" stroke="#000" stroke-width="1.5" stroke-linecap="round"/>
<rect x="412.30" y="669.50" width="356.50" height="113.30" fill="none" stroke="#6f9be0" stroke-width="1.1" />
<line x1="414.20" y1="683.00" x2="435.80" y2="683.00" stroke="#000" stroke-width="2" />
<line x1="414.20" y1="712.90" x2="435.80" y2="712.90" stroke="#000" stroke-width="2" />
<line x1="414.20" y1="740.20" x2="435.80" y2="740.20" stroke="#000" stroke-width="2" />
<line x1="414.20" y1="768.00" x2="435.80" y2="768.00" stroke="#000" stroke-width="2" />
<rect x="419.30" y="677.40" width="11.20" height="11.20" fill="#000" stroke="#2a4a9a" stroke-width="1.3" />
<path d="M419.00,712.90 L425.00,706.50 L431.00,712.90 L425.00,719.30 Z" stroke="#000" stroke-width="1.9" fill="#fff" />
<line x1="414.20" y1="712.90" x2="435.80" y2="712.90" stroke="#000" stroke-width="2" />
<rect x="419.20" y="734.60" width="11.60" height="11.60" fill="#0a33ff" stroke="#000" stroke-width="2" />
<path d="M419.30,767.90 L425.00,761.60 L430.70,767.90 L425.00,774.20 Z" stroke="#000" stroke-width="2" fill="#11ee66" />
<text transform="translate(463.09 691.40) scale(1.0705 1)" font-size="17.01" font-weight="normal" fill="#000" >20% WT + 80% μMT BM</text>
<text transform="translate(452.51 719.70) scale(1.0634 1)" font-size="17.44" font-weight="normal" fill="#000" >100% μMT BM</text>
<text transform="translate(462.87 748.80) scale(0.9377 1)" font-size="17.73" font-weight="normal" fill="#0d33f2" >20% RORγT</text>
<text transform="translate(556.59 739.32) scale(1.9993 1)" font-size="7.619" font-weight="normal" fill="#0d33f2" >-/-</text>
<text transform="translate(575.27 748.80) scale(1.0409 1)" font-size="17.73" font-weight="normal" fill="#0d33f2" >+ 80% μMT BM</text>
<text transform="translate(462.82 776.20) scale(0.9929 1)" font-size="17.73" font-weight="normal" fill="#0fb050" >20% IL-17</text>
<text transform="translate(543.28 768.42) scale(2.0298 1)" font-size="7.619" font-weight="normal" fill="#0fb050" >-/-</text>
<text transform="translate(562.17 776.20) scale(1.0418 1)" font-size="17.73" font-weight="normal" fill="#0fb050" >+ 80% μMT BM</text>
<text transform="translate(711.28 690.80) scale(1.0546 1)" font-size="17.73" font-weight="normal" fill="#000" >n=10</text>
<text transform="translate(711.31 718.70) scale(1.0287 1)" font-size="17.73" font-weight="normal" fill="#000" >n=5</text>
<text transform="translate(711.31 747.60) scale(1.0320 1)" font-size="17.73" font-weight="normal" fill="#000" >n=7</text>
<text transform="translate(711.31 775.20) scale(1.0287 1)" font-size="17.73" font-weight="normal" fill="#000" >n=6</text>
<circle cx="694.00" cy="788.30" r="0.60" fill="#666" stroke="none" stroke-width="1"/>
</svg>
</body></html>
